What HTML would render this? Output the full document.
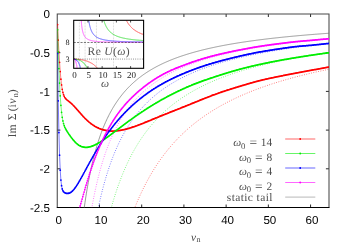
<!DOCTYPE html>
<html><head><meta charset="utf-8"><title>plot</title>
<style>
html,body{margin:0;padding:0;background:#fff;}
body{width:351px;height:246px;position:relative;overflow:hidden;font-family:"Liberation Sans",sans-serif;}
svg text{text-rendering:geometricPrecision;}
svg text.s{font-family:"Liberation Sans",sans-serif;fill:#000;}
svg text.r{font-family:"Liberation Serif",serif;}
</style></head><body>
<svg width="351" height="246" viewBox="0 0 351 246" style="position:absolute;left:0;top:0;opacity:0.999;will-change:transform">
<defs><clipPath id="cp"><rect x="57.25" y="14.0" width="271.75" height="193.5"/></clipPath></defs>
<path d="M99.47 207.5v-3M99.47 14.0v3 M141.69 207.5v-3M141.69 14.0v3 M183.91 207.5v-3M183.91 14.0v3 M226.13 207.5v-3M226.13 14.0v3 M268.35 207.5v-3M268.35 14.0v3 M310.57 207.5v-3M310.57 14.0v3 M57.25 52.70h3.1M329.0 52.70h-3.1 M57.25 91.40h3.1M329.0 91.40h-3.1 M57.25 130.10h3.1M329.0 130.10h-3.1 M57.25 168.80h3.1M329.0 168.80h-3.1" stroke="#2a2a2a" stroke-width="1" fill="none"/>
<path d="M57.25 207.5V14.0H329.0V207.5" fill="none" stroke="#484848" stroke-width="1.05"/>
<path d="M56.75 207.5H329.5" fill="none" stroke="#000" stroke-width="1"/>
<g clip-path="url(#cp)" fill="none">
<path d="M69.92 426.80 L70.57 406.47 L71.23 388.05 L71.88 371.28 L72.54 355.95 L73.20 341.88 L73.85 328.93 L74.51 316.96 L75.16 305.86 L75.82 295.55 L76.48 285.94 L77.13 276.97 L77.79 268.57 L78.44 260.69 L79.10 253.28 L79.76 246.31 L80.41 239.73 L81.07 233.51 L81.72 227.63 L82.38 222.05 L83.04 216.76 L83.69 211.73 L84.35 206.94 L85.01 202.38 L85.66 198.03 L86.32 193.88 L86.97 189.91 L87.63 186.11 L88.29 182.47 L88.94 178.98 L89.60 175.64 L90.25 172.42 L90.91 169.34 L91.57 166.37 L92.22 163.51 L92.88 160.75 L93.53 158.10 L94.19 155.54 L94.85 153.07 L95.50 150.69 L96.16 148.38 L96.81 146.15 L97.47 144.00 L98.13 141.91 L98.78 139.89 L99.44 137.93 L100.09 136.04 L100.75 134.19 L101.41 132.41 L102.06 130.68 L102.72 128.99 L103.37 127.36 L104.03 125.77 L104.69 124.22 L105.34 122.72 L106.00 121.25 L106.65 119.83 L107.31 118.44 L107.97 117.09 L108.62 115.78 L109.28 114.49 L109.94 113.24 L110.59 112.02 L111.25 110.83 L111.90 109.67 L112.56 108.53 L113.22 107.42 L113.87 106.34 L114.53 105.28 L115.18 104.25 L115.84 103.24 L116.50 102.25 L117.15 101.29 L117.81 100.34 L118.46 99.41 L119.12 98.51 L119.78 97.62 L120.43 96.75 L121.09 95.90 L121.74 95.07 L122.40 94.25 L123.06 93.45 L123.71 92.67 L124.37 91.90 L125.02 91.15 L125.68 90.41 L126.34 89.68 L126.99 88.97 L127.65 88.27 L128.30 87.58 L128.96 86.91 L129.62 86.25 L130.27 85.60 L130.93 84.96 L131.58 84.34 L132.24 83.72 L132.90 83.12 L133.55 82.52 L134.21 81.94 L134.86 81.36 L135.52 80.80 L136.18 80.25 L136.83 79.70 L137.49 79.16 L138.15 78.63 L138.80 78.11 L139.46 77.60 L140.11 77.10 L140.77 76.60 L141.43 76.11 L142.08 75.63 L142.74 75.16 L143.39 74.70 L144.05 74.24 L144.71 73.78 L145.36 73.34 L146.02 72.90 L146.67 72.47 L147.33 72.04 L147.99 71.62 L148.64 71.21 L149.30 70.80 L149.95 70.40 L150.61 70.00 L151.27 69.61 L151.92 69.23 L152.58 68.85 L153.23 68.47 L153.89 68.10 L154.55 67.74 L155.20 67.38 L155.86 67.02 L156.51 66.67 L157.17 66.33 L157.83 65.99 L158.48 65.65 L159.14 65.32 L159.79 64.99 L160.45 64.66 L161.11 64.34 L161.76 64.03 L162.42 63.72 L163.08 63.41 L163.73 63.10 L164.39 62.80 L165.04 62.51 L165.70 62.21 L166.36 61.92 L167.01 61.64 L167.67 61.35 L168.32 61.07 L168.98 60.80 L169.64 60.52 L170.29 60.25 L170.95 59.99 L171.60 59.72 L172.26 59.46 L172.92 59.20 L173.57 58.95 L174.23 58.70 L174.88 58.45 L175.54 58.20 L176.20 57.96 L176.85 57.72 L177.51 57.48 L178.16 57.24 L178.82 57.01 L179.48 56.78 L180.13 56.55 L180.79 56.32 L181.44 56.10 L182.10 55.88 L182.76 55.66 L183.41 55.44 L184.07 55.23 L184.72 55.02 L185.38 54.81 L186.04 54.60 L186.69 54.39 L187.35 54.19 L188.01 53.99 L188.66 53.79 L189.32 53.59 L189.97 53.39 L190.63 53.20 L191.29 53.01 L191.94 52.82 L192.60 52.63 L193.25 52.44 L193.91 52.26 L194.57 52.08 L195.22 51.90 L195.88 51.72 L196.53 51.54 L197.19 51.36 L197.85 51.19 L198.50 51.02 L199.16 50.84 L199.81 50.67 L200.47 50.51 L201.13 50.34 L201.78 50.18 L202.44 50.01 L203.09 49.85 L203.75 49.69 L204.41 49.53 L205.06 49.37 L205.72 49.22 L206.37 49.06 L207.03 48.91 L207.69 48.76 L208.34 48.60 L209.00 48.46 L209.65 48.31 L210.31 48.16 L210.97 48.01 L211.62 47.87 L212.28 47.73 L212.93 47.58 L213.59 47.44 L214.25 47.30 L214.90 47.16 L215.56 47.03 L216.22 46.89 L216.87 46.76 L217.53 46.62 L218.18 46.49 L218.84 46.36 L219.50 46.23 L220.15 46.10 L220.81 45.97 L221.46 45.84 L222.12 45.71 L222.78 45.59 L223.43 45.46 L224.09 45.34 L224.74 45.22 L225.40 45.09 L226.06 44.97 L226.71 44.85 L227.37 44.73 L228.02 44.62 L228.68 44.50 L229.34 44.38 L229.99 44.27 L230.65 44.15 L231.30 44.04 L231.96 43.93 L232.62 43.81 L233.27 43.70 L233.93 43.59 L234.58 43.48 L235.24 43.38 L235.90 43.27 L236.55 43.16 L237.21 43.05 L237.86 42.95 L238.52 42.84 L239.18 42.74 L239.83 42.64 L240.49 42.53 L241.15 42.43 L241.80 42.33 L242.46 42.23 L243.11 42.13 L243.77 42.03 L244.43 41.93 L245.08 41.84 L245.74 41.74 L246.39 41.64 L247.05 41.55 L247.71 41.45 L248.36 41.36 L249.02 41.26 L249.67 41.17 L250.33 41.08 L250.99 40.99 L251.64 40.90 L252.30 40.81 L252.95 40.72 L253.61 40.63 L254.27 40.54 L254.92 40.45 L255.58 40.36 L256.23 40.28 L256.89 40.19 L257.55 40.10 L258.20 40.02 L258.86 39.93 L259.51 39.85 L260.17 39.77 L260.83 39.68 L261.48 39.60 L262.14 39.52 L262.79 39.44 L263.45 39.36 L264.11 39.28 L264.76 39.20 L265.42 39.12 L266.07 39.04 L266.73 38.96 L267.39 38.88 L268.04 38.80 L268.70 38.73 L269.36 38.65 L270.01 38.57 L270.67 38.50 L271.32 38.42 L271.98 38.35 L272.64 38.28 L273.29 38.20 L273.95 38.13 L274.60 38.06 L275.26 37.98 L275.92 37.91 L276.57 37.84 L277.23 37.77 L277.88 37.70 L278.54 37.63 L279.20 37.56 L279.85 37.49 L280.51 37.42 L281.16 37.35 L281.82 37.28 L282.48 37.21 L283.13 37.15 L283.79 37.08 L284.44 37.01 L285.10 36.95 L285.76 36.88 L286.41 36.82 L287.07 36.75 L287.72 36.69 L288.38 36.62 L289.04 36.56 L289.69 36.49 L290.35 36.43 L291.00 36.37 L291.66 36.30 L292.32 36.24 L292.97 36.18 L293.63 36.12 L294.29 36.06 L294.94 36.00 L295.60 35.94 L296.25 35.88 L296.91 35.82 L297.57 35.76 L298.22 35.70 L298.88 35.64 L299.53 35.58 L300.19 35.52 L300.85 35.46 L301.50 35.41 L302.16 35.35 L302.81 35.29 L303.47 35.24 L304.13 35.18 L304.78 35.12 L305.44 35.07 L306.09 35.01 L306.75 34.96 L307.41 34.90 L308.06 34.85 L308.72 34.79 L309.37 34.74 L310.03 34.68 L310.69 34.63 L311.34 34.58 L312.00 34.52 L312.65 34.47 L313.31 34.42 L313.97 34.37 L314.62 34.31 L315.28 34.26 L315.93 34.21 L316.59 34.16 L317.25 34.11 L317.90 34.06 L318.56 34.01 L319.22 33.96 L319.87 33.91 L320.53 33.86 L321.18 33.81 L321.84 33.76 L322.50 33.71 L323.15 33.66 L323.81 33.62 L324.46 33.57 L325.12 33.52 L325.78 33.47 L326.43 33.42 L327.09 33.38 L327.74 33.33 L328.40 33.28 L329.06 33.24 L329.71 33.19 L330.37 33.14 L331.02 33.10 L331.68 33.05" stroke="#707070" stroke-width="0.7"/>
<path d="M131.87 215.24 L132.37 213.90 L132.87 212.57 L133.37 211.27 L133.87 209.98 L134.37 208.71 L134.87 207.45 L135.37 206.21 L135.87 204.99 L136.37 203.78 L136.87 202.58 L137.37 201.40 L137.88 200.24 L138.38 199.09 L138.88 197.96 L139.38 196.83 L139.88 195.73 L140.38 194.63 L140.88 193.55 L141.38 192.48 L141.88 191.42 L142.38 190.38 L142.88 189.35 L143.38 188.33 L143.88 187.32 L144.39 186.33 L144.89 185.34 L145.39 184.37 L145.89 183.40 L146.39 182.45 L146.89 181.51 L147.39 180.58 L147.89 179.66 L148.39 178.75 L148.89 177.85 L149.39 176.96 L149.89 176.08 L150.39 175.21 L150.90 174.35 L151.40 173.49 L151.90 172.65 L152.40 171.81 L152.90 170.99 L153.40 170.17 L153.90 169.36 L154.40 168.56 L154.90 167.77 L155.40 166.98 L155.90 166.21 L156.40 165.44 L156.91 164.68 L157.41 163.92 L157.91 163.18 L158.41 162.44 L158.91 161.71 L159.41 160.98 L159.91 160.27 L160.41 159.56 L160.91 158.85 L161.41 158.16 L161.91 157.47 L162.41 156.78 L162.91 156.11 L163.42 155.44 L163.92 154.77 L164.42 154.11 L164.92 153.46 L165.42 152.82 L165.92 152.18 L166.42 151.54 L166.92 150.92 L167.42 150.29 L167.92 149.68 L168.42 149.07 L168.92 148.46 L169.42 147.86 L169.93 147.26 L170.43 146.67 L170.93 146.09 L171.43 145.51 L171.93 144.94 L172.43 144.37 L172.93 143.80 L173.43 143.24 L173.93 142.69 L174.43 142.14 L174.93 141.59 L175.43 141.05 L175.94 140.52 L176.44 139.99 L176.94 139.46 L177.44 138.94 L177.94 138.42 L178.44 137.90 L178.94 137.39 L179.44 136.89 L179.94 136.39 L180.44 135.89 L180.94 135.39 L181.44 134.91 L181.94 134.42 L182.45 133.94 L182.95 133.46 L183.45 132.99 L183.95 132.52 L184.45 132.05 L184.95 131.59 L185.45 131.13 L185.95 130.67 L186.45 130.22 L186.95 129.77 L187.45 129.32 L187.95 128.88 L188.45 128.44 L188.96 128.01 L189.46 127.58 L189.96 127.15 L190.46 126.72 L190.96 126.30 L191.46 125.88 L191.96 125.47 L192.46 125.05 L192.96 124.64 L193.46 124.24 L193.96 123.83 L194.46 123.43 L194.96 123.03 L195.47 122.64 L195.97 122.25 L196.47 121.86 L196.97 121.47 L197.47 121.09 L197.97 120.71 L198.47 120.33 L198.97 119.95 L199.47 119.58 L199.97 119.21 L200.47 118.84 L200.97 118.48 L201.48 118.11 L201.98 117.75 L202.48 117.39 L202.98 117.04 L203.48 116.69 L203.98 116.34 L204.48 115.99 L204.98 115.64 L205.48 115.30 L205.98 114.96 L206.48 114.62 L206.98 114.28 L207.48 113.95 L207.99 113.62 L208.49 113.29 L208.99 112.96 L209.49 112.63 L209.99 112.31 L210.49 111.99 L210.99 111.67 L211.49 111.35 L211.99 111.04 L212.49 110.72 L212.99 110.41 L213.49 110.10 L213.99 109.80 L214.50 109.49 L215.00 109.19 L215.50 108.89 L216.00 108.59 L216.50 108.29 L217.00 108.00 L217.50 107.70 L218.00 107.41 L218.50 107.12 L219.00 106.83 L219.50 106.54 L220.00 106.26 L220.51 105.98 L221.01 105.70 L221.51 105.42 L222.01 105.14 L222.51 104.86 L223.01 104.59 L223.51 104.31 L224.01 104.04 L224.51 103.77 L225.01 103.51 L225.51 103.24 L226.01 102.97 L226.51 102.71 L227.02 102.45 L227.52 102.19 L228.02 101.93 L228.52 101.67 L229.02 101.42 L229.52 101.16 L230.02 100.91 L230.52 100.66 L231.02 100.41 L231.52 100.16 L232.02 99.92 L232.52 99.67 L233.02 99.43 L233.53 99.18 L234.03 98.94 L234.53 98.70 L235.03 98.46 L235.53 98.23 L236.03 97.99 L236.53 97.76 L237.03 97.52 L237.53 97.29 L238.03 97.06 L238.53 96.83 L239.03 96.60 L239.54 96.37 L240.04 96.15 L240.54 95.92 L241.04 95.70 L241.54 95.48 L242.04 95.26 L242.54 95.04 L243.04 94.82 L243.54 94.60 L244.04 94.39 L244.54 94.17 L245.04 93.96 L245.54 93.75 L246.05 93.53 L246.55 93.32 L247.05 93.11 L247.55 92.91 L248.05 92.70 L248.55 92.49 L249.05 92.29 L249.55 92.08 L250.05 91.88 L250.55 91.68 L251.05 91.48 L251.55 91.28 L252.05 91.08 L252.56 90.88 L253.06 90.69 L253.56 90.49 L254.06 90.30 L254.56 90.10 L255.06 89.91 L255.56 89.72 L256.06 89.53 L256.56 89.34 L257.06 89.15 L257.56 88.96 L258.06 88.77 L258.57 88.59 L259.07 88.40 L259.57 88.22 L260.07 88.04 L260.57 87.85 L261.07 87.67 L261.57 87.49 L262.07 87.31 L262.57 87.13 L263.07 86.95 L263.57 86.78 L264.07 86.60 L264.57 86.43 L265.08 86.25 L265.58 86.08 L266.08 85.90 L266.58 85.73 L267.08 85.56 L267.58 85.39 L268.08 85.22 L268.58 85.05 L269.08 84.88 L269.58 84.72 L270.08 84.55 L270.58 84.39 L271.08 84.22 L271.59 84.06 L272.09 83.89 L272.59 83.73 L273.09 83.57 L273.59 83.41 L274.09 83.25 L274.59 83.09 L275.09 82.93 L275.59 82.77 L276.09 82.61 L276.59 82.46 L277.09 82.30 L277.59 82.15 L278.10 81.99 L278.60 81.84 L279.10 81.68 L279.60 81.53 L280.10 81.38 L280.60 81.23 L281.10 81.08 L281.60 80.93 L282.10 80.78 L282.60 80.63 L283.10 80.48 L283.60 80.34 L284.11 80.19 L284.61 80.04 L285.11 79.90 L285.61 79.76 L286.11 79.61 L286.61 79.47 L287.11 79.33 L287.61 79.18 L288.11 79.04 L288.61 78.90 L289.11 78.76 L289.61 78.62 L290.11 78.48 L290.62 78.34 L291.12 78.21 L291.62 78.07 L292.12 77.93 L292.62 77.80 L293.12 77.66 L293.62 77.53 L294.12 77.39 L294.62 77.26 L295.12 77.12 L295.62 76.99 L296.12 76.86 L296.62 76.73 L297.13 76.60 L297.63 76.47 L298.13 76.34 L298.63 76.21 L299.13 76.08 L299.63 75.95 L300.13 75.82 L300.63 75.70 L301.13 75.57 L301.63 75.44 L302.13 75.32 L302.63 75.19 L303.14 75.07 L303.64 74.94 L304.14 74.82 L304.64 74.70 L305.14 74.57 L305.64 74.45 L306.14 74.33 L306.64 74.21 L307.14 74.09 L307.64 73.97 L308.14 73.85 L308.64 73.73 L309.14 73.61 L309.65 73.49 L310.15 73.37 L310.65 73.26 L311.15 73.14 L311.65 73.02 L312.15 72.91 L312.65 72.79 L313.15 72.68 L313.65 72.56 L314.15 72.45 L314.65 72.34 L315.15 72.22 L315.65 72.11 L316.16 72.00 L316.66 71.88 L317.16 71.77 L317.66 71.66 L318.16 71.55 L318.66 71.44 L319.16 71.33 L319.66 71.22 L320.16 71.11 L320.66 71.00 L321.16 70.90 L321.66 70.79 L322.17 70.68 L322.67 70.57 L323.17 70.47 L323.67 70.36 L324.17 70.26 L324.67 70.15 L325.17 70.05 L325.67 69.94 L326.17 69.84 L326.67 69.73 L327.17 69.63 L327.67 69.53 L328.17 69.42 L328.68 69.32 L329.18 69.22 L329.68 69.12 L330.18 69.02 L330.68 68.92 L331.18 68.82 L331.68 68.72" stroke="#ff0000" stroke-width="1.0" stroke-linecap="round" stroke-dasharray="0.01 2.4" stroke-opacity="0.6"/>
<path d="M109.26 215.24 L109.82 213.11 L110.38 211.02 L110.93 208.97 L111.49 206.97 L112.05 205.00 L112.61 203.08 L113.16 201.20 L113.72 199.35 L114.28 197.54 L114.84 195.76 L115.39 194.02 L115.95 192.31 L116.51 190.63 L117.07 188.98 L117.62 187.37 L118.18 185.78 L118.74 184.23 L119.30 182.70 L119.85 181.19 L120.41 179.72 L120.97 178.27 L121.53 176.84 L122.08 175.44 L122.64 174.07 L123.20 172.71 L123.76 171.38 L124.31 170.08 L124.87 168.79 L125.43 167.52 L125.98 166.28 L126.54 165.05 L127.10 163.85 L127.66 162.66 L128.21 161.49 L128.77 160.34 L129.33 159.21 L129.89 158.10 L130.44 157.00 L131.00 155.92 L131.56 154.86 L132.12 153.81 L132.67 152.77 L133.23 151.75 L133.79 150.75 L134.35 149.76 L134.90 148.79 L135.46 147.83 L136.02 146.88 L136.58 145.95 L137.13 145.03 L137.69 144.12 L138.25 143.22 L138.81 142.34 L139.36 141.47 L139.92 140.61 L140.48 139.76 L141.04 138.92 L141.59 138.10 L142.15 137.28 L142.71 136.48 L143.27 135.69 L143.82 134.90 L144.38 134.13 L144.94 133.36 L145.50 132.61 L146.05 131.87 L146.61 131.13 L147.17 130.40 L147.73 129.69 L148.28 128.98 L148.84 128.28 L149.40 127.59 L149.95 126.91 L150.51 126.23 L151.07 125.56 L151.63 124.90 L152.18 124.25 L152.74 123.61 L153.30 122.97 L153.86 122.34 L154.41 121.72 L154.97 121.11 L155.53 120.50 L156.09 119.90 L156.64 119.31 L157.20 118.72 L157.76 118.14 L158.32 117.56 L158.87 117.00 L159.43 116.43 L159.99 115.88 L160.55 115.33 L161.10 114.78 L161.66 114.25 L162.22 113.71 L162.78 113.19 L163.33 112.67 L163.89 112.15 L164.45 111.64 L165.01 111.14 L165.56 110.64 L166.12 110.14 L166.68 109.65 L167.24 109.17 L167.79 108.69 L168.35 108.21 L168.91 107.74 L169.47 107.27 L170.02 106.81 L170.58 106.36 L171.14 105.91 L171.69 105.46 L172.25 105.01 L172.81 104.58 L173.37 104.14 L173.92 103.71 L174.48 103.28 L175.04 102.86 L175.60 102.44 L176.15 102.03 L176.71 101.62 L177.27 101.21 L177.83 100.81 L178.38 100.41 L178.94 100.01 L179.50 99.62 L180.06 99.23 L180.61 98.85 L181.17 98.46 L181.73 98.09 L182.29 97.71 L182.84 97.34 L183.40 96.97 L183.96 96.61 L184.52 96.24 L185.07 95.89 L185.63 95.53 L186.19 95.18 L186.75 94.83 L187.30 94.48 L187.86 94.14 L188.42 93.80 L188.98 93.46 L189.53 93.12 L190.09 92.79 L190.65 92.46 L191.21 92.14 L191.76 91.81 L192.32 91.49 L192.88 91.17 L193.44 90.86 L193.99 90.54 L194.55 90.23 L195.11 89.93 L195.66 89.62 L196.22 89.32 L196.78 89.02 L197.34 88.72 L197.89 88.42 L198.45 88.13 L199.01 87.84 L199.57 87.55 L200.12 87.26 L200.68 86.97 L201.24 86.69 L201.80 86.41 L202.35 86.13 L202.91 85.86 L203.47 85.58 L204.03 85.31 L204.58 85.04 L205.14 84.77 L205.70 84.51 L206.26 84.24 L206.81 83.98 L207.37 83.72 L207.93 83.46 L208.49 83.21 L209.04 82.95 L209.60 82.70 L210.16 82.45 L210.72 82.20 L211.27 81.96 L211.83 81.71 L212.39 81.47 L212.95 81.23 L213.50 80.99 L214.06 80.75 L214.62 80.51 L215.18 80.28 L215.73 80.04 L216.29 79.81 L216.85 79.58 L217.40 79.35 L217.96 79.13 L218.52 78.90 L219.08 78.68 L219.63 78.46 L220.19 78.24 L220.75 78.02 L221.31 77.80 L221.86 77.58 L222.42 77.37 L222.98 77.16 L223.54 76.94 L224.09 76.73 L224.65 76.53 L225.21 76.32 L225.77 76.11 L226.32 75.91 L226.88 75.70 L227.44 75.50 L228.00 75.30 L228.55 75.10 L229.11 74.90 L229.67 74.71 L230.23 74.51 L230.78 74.32 L231.34 74.12 L231.90 73.93 L232.46 73.74 L233.01 73.55 L233.57 73.36 L234.13 73.18 L234.69 72.99 L235.24 72.80 L235.80 72.62 L236.36 72.44 L236.92 72.26 L237.47 72.08 L238.03 71.90 L238.59 71.72 L239.15 71.54 L239.70 71.37 L240.26 71.19 L240.82 71.02 L241.37 70.85 L241.93 70.67 L242.49 70.50 L243.05 70.33 L243.60 70.17 L244.16 70.00 L244.72 69.83 L245.28 69.67 L245.83 69.50 L246.39 69.34 L246.95 69.18 L247.51 69.01 L248.06 68.85 L248.62 68.69 L249.18 68.54 L249.74 68.38 L250.29 68.22 L250.85 68.06 L251.41 67.91 L251.97 67.75 L252.52 67.60 L253.08 67.45 L253.64 67.30 L254.20 67.15 L254.75 67.00 L255.31 66.85 L255.87 66.70 L256.43 66.55 L256.98 66.40 L257.54 66.26 L258.10 66.11 L258.66 65.97 L259.21 65.83 L259.77 65.68 L260.33 65.54 L260.89 65.40 L261.44 65.26 L262.00 65.12 L262.56 64.98 L263.11 64.84 L263.67 64.71 L264.23 64.57 L264.79 64.43 L265.34 64.30 L265.90 64.16 L266.46 64.03 L267.02 63.90 L267.57 63.77 L268.13 63.63 L268.69 63.50 L269.25 63.37 L269.80 63.24 L270.36 63.11 L270.92 62.99 L271.48 62.86 L272.03 62.73 L272.59 62.61 L273.15 62.48 L273.71 62.36 L274.26 62.23 L274.82 62.11 L275.38 61.98 L275.94 61.86 L276.49 61.74 L277.05 61.62 L277.61 61.50 L278.17 61.38 L278.72 61.26 L279.28 61.14 L279.84 61.02 L280.40 60.91 L280.95 60.79 L281.51 60.67 L282.07 60.56 L282.63 60.44 L283.18 60.33 L283.74 60.21 L284.30 60.10 L284.86 59.99 L285.41 59.87 L285.97 59.76 L286.53 59.65 L287.08 59.54 L287.64 59.43 L288.20 59.32 L288.76 59.21 L289.31 59.10 L289.87 59.00 L290.43 58.89 L290.99 58.78 L291.54 58.67 L292.10 58.57 L292.66 58.46 L293.22 58.36 L293.77 58.25 L294.33 58.15 L294.89 58.05 L295.45 57.94 L296.00 57.84 L296.56 57.74 L297.12 57.64 L297.68 57.53 L298.23 57.43 L298.79 57.33 L299.35 57.23 L299.91 57.13 L300.46 57.04 L301.02 56.94 L301.58 56.84 L302.14 56.74 L302.69 56.64 L303.25 56.55 L303.81 56.45 L304.37 56.36 L304.92 56.26 L305.48 56.17 L306.04 56.07 L306.60 55.98 L307.15 55.88 L307.71 55.79 L308.27 55.70 L308.82 55.61 L309.38 55.51 L309.94 55.42 L310.50 55.33 L311.05 55.24 L311.61 55.15 L312.17 55.06 L312.73 54.97 L313.28 54.88 L313.84 54.79 L314.40 54.70 L314.96 54.62 L315.51 54.53 L316.07 54.44 L316.63 54.35 L317.19 54.27 L317.74 54.18 L318.30 54.09 L318.86 54.01 L319.42 53.92 L319.97 53.84 L320.53 53.76 L321.09 53.67 L321.65 53.59 L322.20 53.50 L322.76 53.42 L323.32 53.34 L323.88 53.26 L324.43 53.17 L324.99 53.09 L325.55 53.01 L326.11 52.93 L326.66 52.85 L327.22 52.77 L327.78 52.69 L328.34 52.61 L328.89 52.53 L329.45 52.45 L330.01 52.37 L330.57 52.30 L331.12 52.22 L331.68 52.14" stroke="#00ee00" stroke-width="1.0" stroke-linecap="round" stroke-dasharray="0.01 2.4" stroke-opacity="0.6"/>
<path d="M96.79 215.24 L97.38 212.29 L97.97 209.42 L98.56 206.64 L99.15 203.93 L99.73 201.30 L100.32 198.74 L100.91 196.25 L101.50 193.82 L102.09 191.46 L102.68 189.16 L103.27 186.92 L103.85 184.74 L104.44 182.61 L105.03 180.53 L105.62 178.50 L106.21 176.52 L106.80 174.59 L107.39 172.71 L107.98 170.87 L108.56 169.07 L109.15 167.31 L109.74 165.59 L110.33 163.91 L110.92 162.26 L111.51 160.65 L112.10 159.08 L112.69 157.54 L113.27 156.03 L113.86 154.55 L114.45 153.11 L115.04 151.69 L115.63 150.30 L116.22 148.94 L116.81 147.61 L117.39 146.30 L117.98 145.02 L118.57 143.76 L119.16 142.53 L119.75 141.32 L120.34 140.13 L120.93 138.96 L121.52 137.82 L122.10 136.69 L122.69 135.59 L123.28 134.50 L123.87 133.44 L124.46 132.39 L125.05 131.37 L125.64 130.36 L126.23 129.36 L126.81 128.39 L127.40 127.43 L127.99 126.48 L128.58 125.55 L129.17 124.64 L129.76 123.74 L130.35 122.86 L130.93 121.99 L131.52 121.13 L132.11 120.29 L132.70 119.46 L133.29 118.64 L133.88 117.84 L134.47 117.05 L135.06 116.27 L135.64 115.50 L136.23 114.74 L136.82 114.00 L137.41 113.27 L138.00 112.54 L138.59 111.83 L139.18 111.13 L139.77 110.43 L140.35 109.75 L140.94 109.08 L141.53 108.41 L142.12 107.76 L142.71 107.11 L143.30 106.47 L143.89 105.85 L144.47 105.23 L145.06 104.61 L145.65 104.01 L146.24 103.42 L146.83 102.83 L147.42 102.25 L148.01 101.68 L148.60 101.11 L149.18 100.55 L149.77 100.00 L150.36 99.46 L150.95 98.92 L151.54 98.39 L152.13 97.87 L152.72 97.35 L153.31 96.84 L153.89 96.33 L154.48 95.84 L155.07 95.34 L155.66 94.86 L156.25 94.38 L156.84 93.90 L157.43 93.43 L158.01 92.97 L158.60 92.51 L159.19 92.06 L159.78 91.61 L160.37 91.16 L160.96 90.73 L161.55 90.29 L162.14 89.86 L162.72 89.44 L163.31 89.02 L163.90 88.61 L164.49 88.20 L165.08 87.79 L165.67 87.39 L166.26 87.00 L166.85 86.60 L167.43 86.22 L168.02 85.83 L168.61 85.45 L169.20 85.08 L169.79 84.71 L170.38 84.34 L170.97 83.97 L171.55 83.61 L172.14 83.26 L172.73 82.90 L173.32 82.55 L173.91 82.21 L174.50 81.87 L175.09 81.53 L175.68 81.19 L176.26 80.86 L176.85 80.53 L177.44 80.20 L178.03 79.88 L178.62 79.56 L179.21 79.25 L179.80 78.93 L180.39 78.62 L180.97 78.31 L181.56 78.01 L182.15 77.71 L182.74 77.41 L183.33 77.11 L183.92 76.82 L184.51 76.53 L185.09 76.24 L185.68 75.96 L186.27 75.67 L186.86 75.39 L187.45 75.12 L188.04 74.84 L188.63 74.57 L189.22 74.30 L189.80 74.03 L190.39 73.76 L190.98 73.50 L191.57 73.24 L192.16 72.98 L192.75 72.73 L193.34 72.47 L193.93 72.22 L194.51 71.97 L195.10 71.72 L195.69 71.48 L196.28 71.23 L196.87 70.99 L197.46 70.75 L198.05 70.52 L198.63 70.28 L199.22 70.05 L199.81 69.82 L200.40 69.59 L200.99 69.36 L201.58 69.13 L202.17 68.91 L202.76 68.69 L203.34 68.47 L203.93 68.25 L204.52 68.03 L205.11 67.82 L205.70 67.60 L206.29 67.39 L206.88 67.18 L207.47 66.97 L208.05 66.76 L208.64 66.56 L209.23 66.36 L209.82 66.15 L210.41 65.95 L211.00 65.75 L211.59 65.56 L212.17 65.36 L212.76 65.17 L213.35 64.97 L213.94 64.78 L214.53 64.59 L215.12 64.40 L215.71 64.22 L216.30 64.03 L216.88 63.85 L217.47 63.66 L218.06 63.48 L218.65 63.30 L219.24 63.12 L219.83 62.94 L220.42 62.77 L221.01 62.59 L221.59 62.42 L222.18 62.24 L222.77 62.07 L223.36 61.90 L223.95 61.73 L224.54 61.57 L225.13 61.40 L225.71 61.23 L226.30 61.07 L226.89 60.91 L227.48 60.74 L228.07 60.58 L228.66 60.42 L229.25 60.26 L229.84 60.11 L230.42 59.95 L231.01 59.79 L231.60 59.64 L232.19 59.48 L232.78 59.33 L233.37 59.18 L233.96 59.03 L234.55 58.88 L235.13 58.73 L235.72 58.58 L236.31 58.44 L236.90 58.29 L237.49 58.15 L238.08 58.00 L238.67 57.86 L239.25 57.72 L239.84 57.58 L240.43 57.44 L241.02 57.30 L241.61 57.16 L242.20 57.02 L242.79 56.89 L243.38 56.75 L243.96 56.62 L244.55 56.48 L245.14 56.35 L245.73 56.22 L246.32 56.09 L246.91 55.96 L247.50 55.83 L248.09 55.70 L248.67 55.57 L249.26 55.44 L249.85 55.31 L250.44 55.19 L251.03 55.06 L251.62 54.94 L252.21 54.82 L252.79 54.69 L253.38 54.57 L253.97 54.45 L254.56 54.33 L255.15 54.21 L255.74 54.09 L256.33 53.97 L256.92 53.85 L257.50 53.74 L258.09 53.62 L258.68 53.50 L259.27 53.39 L259.86 53.27 L260.45 53.16 L261.04 53.05 L261.63 52.93 L262.21 52.82 L262.80 52.71 L263.39 52.60 L263.98 52.49 L264.57 52.38 L265.16 52.27 L265.75 52.16 L266.33 52.06 L266.92 51.95 L267.51 51.84 L268.10 51.74 L268.69 51.63 L269.28 51.53 L269.87 51.42 L270.46 51.32 L271.04 51.22 L271.63 51.12 L272.22 51.01 L272.81 50.91 L273.40 50.81 L273.99 50.71 L274.58 50.61 L275.17 50.51 L275.75 50.42 L276.34 50.32 L276.93 50.22 L277.52 50.12 L278.11 50.03 L278.70 49.93 L279.29 49.84 L279.87 49.74 L280.46 49.65 L281.05 49.55 L281.64 49.46 L282.23 49.37 L282.82 49.28 L283.41 49.18 L284.00 49.09 L284.58 49.00 L285.17 48.91 L285.76 48.82 L286.35 48.73 L286.94 48.64 L287.53 48.55 L288.12 48.47 L288.71 48.38 L289.29 48.29 L289.88 48.20 L290.47 48.12 L291.06 48.03 L291.65 47.95 L292.24 47.86 L292.83 47.78 L293.41 47.69 L294.00 47.61 L294.59 47.53 L295.18 47.44 L295.77 47.36 L296.36 47.28 L296.95 47.20 L297.54 47.12 L298.12 47.03 L298.71 46.95 L299.30 46.87 L299.89 46.79 L300.48 46.71 L301.07 46.64 L301.66 46.56 L302.25 46.48 L302.83 46.40 L303.42 46.32 L304.01 46.25 L304.60 46.17 L305.19 46.09 L305.78 46.02 L306.37 45.94 L306.95 45.87 L307.54 45.79 L308.13 45.72 L308.72 45.64 L309.31 45.57 L309.90 45.50 L310.49 45.42 L311.08 45.35 L311.66 45.28 L312.25 45.20 L312.84 45.13 L313.43 45.06 L314.02 44.99 L314.61 44.92 L315.20 44.85 L315.79 44.78 L316.37 44.71 L316.96 44.64 L317.55 44.57 L318.14 44.50 L318.73 44.43 L319.32 44.36 L319.91 44.29 L320.49 44.23 L321.08 44.16 L321.67 44.09 L322.26 44.03 L322.85 43.96 L323.44 43.89 L324.03 43.83 L324.62 43.76 L325.20 43.70 L325.79 43.63 L326.38 43.57 L326.97 43.50 L327.56 43.44 L328.15 43.37 L328.74 43.31 L329.33 43.25 L329.91 43.18 L330.50 43.12 L331.09 43.06 L331.68 43.00" stroke="#0000ff" stroke-width="1.0" stroke-linecap="round" stroke-dasharray="0.01 2.4" stroke-opacity="0.6"/>
<path d="M90.54 215.24 L91.14 211.65 L91.75 208.19 L92.35 204.85 L92.96 201.62 L93.56 198.49 L94.17 195.47 L94.77 192.55 L95.37 189.72 L95.98 186.98 L96.58 184.32 L97.19 181.74 L97.79 179.24 L98.40 176.81 L99.00 174.46 L99.60 172.17 L100.21 169.94 L100.81 167.78 L101.42 165.67 L102.02 163.63 L102.63 161.63 L103.23 159.69 L103.83 157.80 L104.44 155.96 L105.04 154.17 L105.65 152.42 L106.25 150.71 L106.86 149.04 L107.46 147.42 L108.07 145.83 L108.67 144.28 L109.27 142.77 L109.88 141.29 L110.48 139.84 L111.09 138.43 L111.69 137.05 L112.30 135.70 L112.90 134.38 L113.50 133.08 L114.11 131.82 L114.71 130.58 L115.32 129.37 L115.92 128.18 L116.53 127.01 L117.13 125.87 L117.74 124.76 L118.34 123.66 L118.94 122.59 L119.55 121.53 L120.15 120.50 L120.76 119.49 L121.36 118.49 L121.97 117.51 L122.57 116.56 L123.17 115.62 L123.78 114.69 L124.38 113.79 L124.99 112.90 L125.59 112.02 L126.20 111.16 L126.80 110.32 L127.41 109.49 L128.01 108.67 L128.61 107.87 L129.22 107.08 L129.82 106.31 L130.43 105.55 L131.03 104.80 L131.64 104.06 L132.24 103.33 L132.84 102.62 L133.45 101.92 L134.05 101.22 L134.66 100.54 L135.26 99.87 L135.87 99.21 L136.47 98.56 L137.07 97.92 L137.68 97.29 L138.28 96.67 L138.89 96.06 L139.49 95.45 L140.10 94.86 L140.70 94.28 L141.31 93.70 L141.91 93.13 L142.51 92.57 L143.12 92.02 L143.72 91.47 L144.33 90.93 L144.93 90.40 L145.54 89.88 L146.14 89.36 L146.74 88.85 L147.35 88.35 L147.95 87.86 L148.56 87.37 L149.16 86.89 L149.77 86.41 L150.37 85.94 L150.98 85.48 L151.58 85.02 L152.18 84.57 L152.79 84.12 L153.39 83.68 L154.00 83.24 L154.60 82.81 L155.21 82.39 L155.81 81.97 L156.41 81.55 L157.02 81.15 L157.62 80.74 L158.23 80.34 L158.83 79.95 L159.44 79.56 L160.04 79.17 L160.65 78.79 L161.25 78.41 L161.85 78.04 L162.46 77.67 L163.06 77.31 L163.67 76.95 L164.27 76.60 L164.88 76.24 L165.48 75.90 L166.08 75.55 L166.69 75.21 L167.29 74.88 L167.90 74.54 L168.50 74.22 L169.11 73.89 L169.71 73.57 L170.31 73.25 L170.92 72.93 L171.52 72.62 L172.13 72.31 L172.73 72.01 L173.34 71.71 L173.94 71.41 L174.55 71.11 L175.15 70.82 L175.75 70.53 L176.36 70.24 L176.96 69.96 L177.57 69.68 L178.17 69.40 L178.78 69.12 L179.38 68.85 L179.98 68.58 L180.59 68.31 L181.19 68.05 L181.80 67.79 L182.40 67.53 L183.01 67.27 L183.61 67.02 L184.22 66.76 L184.82 66.51 L185.42 66.27 L186.03 66.02 L186.63 65.78 L187.24 65.54 L187.84 65.30 L188.45 65.06 L189.05 64.83 L189.65 64.60 L190.26 64.37 L190.86 64.14 L191.47 63.91 L192.07 63.69 L192.68 63.47 L193.28 63.25 L193.89 63.03 L194.49 62.81 L195.09 62.60 L195.70 62.39 L196.30 62.18 L196.91 61.97 L197.51 61.76 L198.12 61.56 L198.72 61.35 L199.32 61.15 L199.93 60.95 L200.53 60.75 L201.14 60.56 L201.74 60.36 L202.35 60.17 L202.95 59.98 L203.55 59.79 L204.16 59.60 L204.76 59.41 L205.37 59.23 L205.97 59.04 L206.58 58.86 L207.18 58.68 L207.79 58.50 L208.39 58.32 L208.99 58.15 L209.60 57.97 L210.20 57.80 L210.81 57.63 L211.41 57.45 L212.02 57.29 L212.62 57.12 L213.22 56.95 L213.83 56.78 L214.43 56.62 L215.04 56.46 L215.64 56.29 L216.25 56.13 L216.85 55.97 L217.46 55.82 L218.06 55.66 L218.66 55.50 L219.27 55.35 L219.87 55.19 L220.48 55.04 L221.08 54.89 L221.69 54.74 L222.29 54.59 L222.89 54.44 L223.50 54.30 L224.10 54.15 L224.71 54.00 L225.31 53.86 L225.92 53.72 L226.52 53.58 L227.13 53.44 L227.73 53.30 L228.33 53.16 L228.94 53.02 L229.54 52.88 L230.15 52.75 L230.75 52.61 L231.36 52.48 L231.96 52.34 L232.56 52.21 L233.17 52.08 L233.77 51.95 L234.38 51.82 L234.98 51.69 L235.59 51.56 L236.19 51.44 L236.79 51.31 L237.40 51.19 L238.00 51.06 L238.61 50.94 L239.21 50.82 L239.82 50.69 L240.42 50.57 L241.03 50.45 L241.63 50.33 L242.23 50.21 L242.84 50.10 L243.44 49.98 L244.05 49.86 L244.65 49.75 L245.26 49.63 L245.86 49.52 L246.46 49.40 L247.07 49.29 L247.67 49.18 L248.28 49.07 L248.88 48.96 L249.49 48.85 L250.09 48.74 L250.70 48.63 L251.30 48.52 L251.90 48.42 L252.51 48.31 L253.11 48.20 L253.72 48.10 L254.32 47.99 L254.93 47.89 L255.53 47.79 L256.13 47.68 L256.74 47.58 L257.34 47.48 L257.95 47.38 L258.55 47.28 L259.16 47.18 L259.76 47.08 L260.37 46.98 L260.97 46.88 L261.57 46.79 L262.18 46.69 L262.78 46.59 L263.39 46.50 L263.99 46.40 L264.60 46.31 L265.20 46.21 L265.80 46.12 L266.41 46.03 L267.01 45.94 L267.62 45.84 L268.22 45.75 L268.83 45.66 L269.43 45.57 L270.03 45.48 L270.64 45.39 L271.24 45.30 L271.85 45.22 L272.45 45.13 L273.06 45.04 L273.66 44.96 L274.27 44.87 L274.87 44.78 L275.47 44.70 L276.08 44.61 L276.68 44.53 L277.29 44.45 L277.89 44.36 L278.50 44.28 L279.10 44.20 L279.70 44.11 L280.31 44.03 L280.91 43.95 L281.52 43.87 L282.12 43.79 L282.73 43.71 L283.33 43.63 L283.94 43.55 L284.54 43.47 L285.14 43.40 L285.75 43.32 L286.35 43.24 L286.96 43.16 L287.56 43.09 L288.17 43.01 L288.77 42.94 L289.37 42.86 L289.98 42.78 L290.58 42.71 L291.19 42.64 L291.79 42.56 L292.40 42.49 L293.00 42.42 L293.61 42.34 L294.21 42.27 L294.81 42.20 L295.42 42.13 L296.02 42.06 L296.63 41.99 L297.23 41.91 L297.84 41.84 L298.44 41.77 L299.04 41.71 L299.65 41.64 L300.25 41.57 L300.86 41.50 L301.46 41.43 L302.07 41.36 L302.67 41.30 L303.27 41.23 L303.88 41.16 L304.48 41.10 L305.09 41.03 L305.69 40.96 L306.30 40.90 L306.90 40.83 L307.51 40.77 L308.11 40.70 L308.71 40.64 L309.32 40.58 L309.92 40.51 L310.53 40.45 L311.13 40.39 L311.74 40.32 L312.34 40.26 L312.94 40.20 L313.55 40.14 L314.15 40.08 L314.76 40.01 L315.36 39.95 L315.97 39.89 L316.57 39.83 L317.18 39.77 L317.78 39.71 L318.38 39.65 L318.99 39.59 L319.59 39.54 L320.20 39.48 L320.80 39.42 L321.41 39.36 L322.01 39.30 L322.61 39.24 L323.22 39.19 L323.82 39.13 L324.43 39.07 L325.03 39.02 L325.64 38.96 L326.24 38.90 L326.85 38.85 L327.45 38.79 L328.05 38.74 L328.66 38.68 L329.26 38.63 L329.87 38.57 L330.47 38.52 L331.08 38.46 L331.68 38.41" stroke="#ff00ff" stroke-width="1.0" stroke-linecap="round" stroke-dasharray="0.01 2.4" stroke-opacity="0.6"/>
<path d="M57.58 24.50 L58.24 40.00 L58.91 52.00 L59.57 62.30 L60.23 71.59 L60.90 79.18 L61.56 84.97 L62.22 89.27 L62.89 92.42 L63.55 94.69 L64.21 96.34 L64.88 97.56 L65.54 98.47 L66.20 99.19 L66.87 99.79 L67.53 100.33 L68.19 100.84 L68.86 101.35 L69.52 101.88 L70.18 102.42 L70.85 102.99 L71.51 103.58 L72.17 104.21 L72.83 104.86 L73.50 105.53 L74.16 106.23 L74.82 106.94 L75.49 107.68 L76.15 108.42 L76.81 109.17 L77.48 109.93 L78.14 110.69 L78.80 111.46 L79.47 112.22 L80.13 112.98 L80.79 113.73 L81.46 114.48 L82.12 115.21 L82.78 115.93 L83.45 116.64 L84.11 117.34 L84.77 118.02 L85.44 118.68 L86.10 119.33 L86.76 119.96 L87.43 120.58 L88.09 121.18 L88.75 121.75 L89.41 122.32 L90.08 122.86 L90.74 123.38 L91.40 123.89 L92.07 124.37 L92.73 124.84 L93.39 125.29 L94.06 125.72 L94.72 126.13 L95.38 126.52 L96.05 126.90 L96.71 127.25 L97.37 127.59 L98.04 127.91 L98.70 128.22 L99.36 128.50 L100.03 128.77 L100.69 129.03 L101.35 129.26 L102.02 129.48 L102.68 129.69 L103.34 129.88 L104.00 130.05 L104.67 130.21 L105.33 130.36 L105.99 130.49 L106.66 130.61 L107.32 130.71 L107.98 130.80 L108.65 130.88 L109.31 130.94 L109.97 130.99 L110.64 131.03 L111.30 131.06 L111.96 131.07 L112.63 131.08 L113.29 131.07 L113.95 131.05 L114.62 131.03 L115.28 130.99 L115.94 130.94 L116.61 130.88 L117.27 130.81 L117.93 130.73 L118.60 130.65 L119.26 130.55 L119.92 130.45 L120.58 130.34 L121.25 130.22 L121.91 130.09 L122.57 129.96 L123.24 129.82 L123.90 129.67 L124.56 129.51 L125.23 129.35 L125.89 129.18 L126.55 129.01 L127.22 128.83 L127.88 128.64 L128.54 128.45 L129.21 128.25 L129.87 128.05 L130.53 127.85 L131.20 127.64 L131.86 127.42 L132.52 127.20 L133.19 126.98 L133.85 126.75 L134.51 126.52 L135.17 126.29 L135.84 126.05 L136.50 125.81 L137.16 125.57 L137.83 125.32 L138.49 125.07 L139.15 124.82 L139.82 124.57 L140.48 124.31 L141.14 124.05 L141.81 123.79 L142.47 123.53 L143.13 123.26 L143.80 123.00 L144.46 122.73 L145.12 122.46 L145.79 122.20 L146.45 121.93 L147.11 121.65 L147.78 121.38 L148.44 121.11 L149.10 120.84 L149.77 120.56 L150.43 120.29 L151.09 120.02 L151.75 119.74 L152.42 119.47 L153.08 119.19 L153.74 118.92 L154.41 118.64 L155.07 118.37 L155.73 118.10 L156.40 117.82 L157.06 117.55 L157.72 117.28 L158.39 117.01 L159.05 116.74 L159.71 116.47 L160.38 116.20 L161.04 115.93 L161.70 115.66 L162.37 115.39 L163.03 115.12 L163.69 114.86 L164.36 114.59 L165.02 114.32 L165.68 114.06 L166.34 113.79 L167.01 113.53 L167.67 113.26 L168.33 113.00 L169.00 112.73 L169.66 112.47 L170.32 112.21 L170.99 111.94 L171.65 111.68 L172.31 111.42 L172.98 111.15 L173.64 110.89 L174.30 110.63 L174.97 110.37 L175.63 110.10 L176.29 109.84 L176.96 109.57 L177.62 109.31 L178.28 109.05 L178.95 108.78 L179.61 108.52 L180.27 108.25 L180.93 107.99 L181.60 107.72 L182.26 107.46 L182.92 107.19 L183.59 106.93 L184.25 106.66 L184.91 106.39 L185.58 106.13 L186.24 105.86 L186.90 105.59 L187.57 105.33 L188.23 105.06 L188.89 104.79 L189.56 104.52 L190.22 104.25 L190.88 103.98 L191.55 103.71 L192.21 103.44 L192.87 103.18 L193.54 102.91 L194.20 102.64 L194.86 102.37 L195.53 102.10 L196.19 101.83 L196.85 101.56 L197.51 101.29 L198.18 101.02 L198.84 100.75 L199.50 100.48 L200.17 100.21 L200.83 99.94 L201.49 99.67 L202.16 99.40 L202.82 99.13 L203.48 98.87 L204.15 98.60 L204.81 98.34 L205.47 98.07 L206.14 97.81 L206.80 97.54 L207.46 97.28 L208.13 97.02 L208.79 96.76 L209.45 96.51 L210.12 96.25 L210.78 96.00 L211.44 95.74 L212.10 95.49 L212.77 95.24 L213.43 94.99 L214.09 94.75 L214.76 94.50 L215.42 94.26 L216.08 94.02 L216.75 93.78 L217.41 93.54 L218.07 93.31 L218.74 93.07 L219.40 92.84 L220.06 92.61 L220.73 92.38 L221.39 92.16 L222.05 91.93 L222.72 91.71 L223.38 91.49 L224.04 91.27 L224.71 91.05 L225.37 90.83 L226.03 90.62 L226.70 90.40 L227.36 90.19 L228.02 89.97 L228.68 89.76 L229.35 89.55 L230.01 89.34 L230.67 89.13 L231.34 88.93 L232.00 88.72 L232.66 88.51 L233.33 88.31 L233.99 88.10 L234.65 87.90 L235.32 87.69 L235.98 87.49 L236.64 87.29 L237.31 87.09 L237.97 86.88 L238.63 86.68 L239.30 86.48 L239.96 86.28 L240.62 86.08 L241.29 85.88 L241.95 85.68 L242.61 85.48 L243.27 85.29 L243.94 85.09 L244.60 84.89 L245.26 84.69 L245.93 84.50 L246.59 84.30 L247.25 84.11 L247.92 83.92 L248.58 83.72 L249.24 83.53 L249.91 83.34 L250.57 83.15 L251.23 82.96 L251.90 82.77 L252.56 82.58 L253.22 82.40 L253.89 82.21 L254.55 82.03 L255.21 81.85 L255.88 81.67 L256.54 81.49 L257.20 81.32 L257.87 81.15 L258.53 80.97 L259.19 80.80 L259.85 80.64 L260.52 80.47 L261.18 80.31 L261.84 80.14 L262.51 79.98 L263.17 79.82 L263.83 79.67 L264.50 79.51 L265.16 79.36 L265.82 79.21 L266.49 79.06 L267.15 78.91 L267.81 78.77 L268.48 78.62 L269.14 78.48 L269.80 78.33 L270.47 78.19 L271.13 78.05 L271.79 77.91 L272.46 77.77 L273.12 77.64 L273.78 77.50 L274.44 77.36 L275.11 77.23 L275.77 77.09 L276.43 76.96 L277.10 76.82 L277.76 76.69 L278.42 76.55 L279.09 76.42 L279.75 76.29 L280.41 76.15 L281.08 76.02 L281.74 75.89 L282.40 75.76 L283.07 75.62 L283.73 75.49 L284.39 75.36 L285.06 75.23 L285.72 75.10 L286.38 74.97 L287.05 74.84 L287.71 74.71 L288.37 74.58 L289.03 74.45 L289.70 74.32 L290.36 74.19 L291.02 74.06 L291.69 73.94 L292.35 73.81 L293.01 73.68 L293.68 73.55 L294.34 73.43 L295.00 73.30 L295.67 73.18 L296.33 73.05 L296.99 72.93 L297.66 72.80 L298.32 72.68 L298.98 72.55 L299.65 72.43 L300.31 72.31 L300.97 72.18 L301.64 72.06 L302.30 71.94 L302.96 71.81 L303.63 71.69 L304.29 71.57 L304.95 71.45 L305.61 71.33 L306.28 71.20 L306.94 71.08 L307.60 70.96 L308.27 70.84 L308.93 70.72 L309.59 70.60 L310.26 70.47 L310.92 70.35 L311.58 70.23 L312.25 70.11 L312.91 69.98 L313.57 69.86 L314.24 69.74 L314.90 69.62 L315.56 69.50 L316.23 69.37 L316.89 69.25 L317.55 69.13 L318.22 69.01 L318.88 68.89 L319.54 68.76 L320.20 68.64 L320.87 68.52 L321.53 68.40 L322.19 68.28 L322.86 68.16 L323.52 68.04 L324.18 67.92 L324.85 67.80 L325.51 67.68 L326.17 67.56 L326.84 67.45 L327.50 67.33 L328.16 67.21 L328.83 67.10" stroke="#ff0000" stroke-width="0.6" stroke-opacity="0.85"/>
<path d="M57.58 24.50h0 M58.24 40.00h0 M58.91 52.00h0 M59.57 62.30h0 M60.23 71.59h0 M60.90 79.18h0 M61.56 84.97h0 M62.22 89.27h0 M62.89 92.42h0 M63.55 94.69h0 M64.21 96.34h0 M64.88 97.56h0 M65.54 98.47h0 M66.20 99.19h0 M66.87 99.79h0 M67.53 100.33h0 M68.19 100.84h0 M68.86 101.35h0 M69.52 101.88h0 M70.18 102.42h0 M70.85 102.99h0 M71.51 103.58h0 M72.17 104.21h0 M72.83 104.86h0 M73.50 105.53h0 M74.16 106.23h0 M74.82 106.94h0 M75.49 107.68h0 M76.15 108.42h0 M76.81 109.17h0 M77.48 109.93h0 M78.14 110.69h0 M78.80 111.46h0 M79.47 112.22h0 M80.13 112.98h0 M80.79 113.73h0 M81.46 114.48h0 M82.12 115.21h0 M82.78 115.93h0 M83.45 116.64h0 M84.11 117.34h0 M84.77 118.02h0 M85.44 118.68h0 M86.10 119.33h0 M86.76 119.96h0 M87.43 120.58h0 M88.09 121.18h0 M88.75 121.75h0 M89.41 122.32h0 M90.08 122.86h0 M90.74 123.38h0 M91.40 123.89h0 M92.07 124.37h0 M92.73 124.84h0 M93.39 125.29h0 M94.06 125.72h0 M94.72 126.13h0 M95.38 126.52h0 M96.05 126.90h0 M96.71 127.25h0 M97.37 127.59h0 M98.04 127.91h0 M98.70 128.22h0 M99.36 128.50h0 M100.03 128.77h0 M100.69 129.03h0 M101.35 129.26h0 M102.02 129.48h0 M102.68 129.69h0 M103.34 129.88h0 M104.00 130.05h0 M104.67 130.21h0 M105.33 130.36h0 M105.99 130.49h0 M106.66 130.61h0 M107.32 130.71h0 M107.98 130.80h0 M108.65 130.88h0 M109.31 130.94h0 M109.97 130.99h0 M110.64 131.03h0 M111.30 131.06h0 M111.96 131.07h0 M112.63 131.08h0 M113.29 131.07h0 M113.95 131.05h0 M114.62 131.03h0 M115.28 130.99h0 M115.94 130.94h0 M116.61 130.88h0 M117.27 130.81h0 M117.93 130.73h0 M118.60 130.65h0 M119.26 130.55h0 M119.92 130.45h0 M120.58 130.34h0 M121.25 130.22h0 M121.91 130.09h0 M122.57 129.96h0 M123.24 129.82h0 M123.90 129.67h0 M124.56 129.51h0 M125.23 129.35h0 M125.89 129.18h0 M126.55 129.01h0 M127.22 128.83h0 M127.88 128.64h0 M128.54 128.45h0 M129.21 128.25h0 M129.87 128.05h0 M130.53 127.85h0 M131.20 127.64h0 M131.86 127.42h0 M132.52 127.20h0 M133.19 126.98h0 M133.85 126.75h0 M134.51 126.52h0 M135.17 126.29h0 M135.84 126.05h0 M136.50 125.81h0 M137.16 125.57h0 M137.83 125.32h0 M138.49 125.07h0 M139.15 124.82h0 M139.82 124.57h0 M140.48 124.31h0 M141.14 124.05h0 M141.81 123.79h0 M142.47 123.53h0 M143.13 123.26h0 M143.80 123.00h0 M144.46 122.73h0 M145.12 122.46h0 M145.79 122.20h0 M146.45 121.93h0 M147.11 121.65h0 M147.78 121.38h0 M148.44 121.11h0 M149.10 120.84h0 M149.77 120.56h0 M150.43 120.29h0 M151.09 120.02h0 M151.75 119.74h0 M152.42 119.47h0 M153.08 119.19h0 M153.74 118.92h0 M154.41 118.64h0 M155.07 118.37h0 M155.73 118.10h0 M156.40 117.82h0 M157.06 117.55h0 M157.72 117.28h0 M158.39 117.01h0 M159.05 116.74h0 M159.71 116.47h0 M160.38 116.20h0 M161.04 115.93h0 M161.70 115.66h0 M162.37 115.39h0 M163.03 115.12h0 M163.69 114.86h0 M164.36 114.59h0 M165.02 114.32h0 M165.68 114.06h0 M166.34 113.79h0 M167.01 113.53h0 M167.67 113.26h0 M168.33 113.00h0 M169.00 112.73h0 M169.66 112.47h0 M170.32 112.21h0 M170.99 111.94h0 M171.65 111.68h0 M172.31 111.42h0 M172.98 111.15h0 M173.64 110.89h0 M174.30 110.63h0 M174.97 110.37h0 M175.63 110.10h0 M176.29 109.84h0 M176.96 109.57h0 M177.62 109.31h0 M178.28 109.05h0 M178.95 108.78h0 M179.61 108.52h0 M180.27 108.25h0 M180.93 107.99h0 M181.60 107.72h0 M182.26 107.46h0 M182.92 107.19h0 M183.59 106.93h0 M184.25 106.66h0 M184.91 106.39h0 M185.58 106.13h0 M186.24 105.86h0 M186.90 105.59h0 M187.57 105.33h0 M188.23 105.06h0 M188.89 104.79h0 M189.56 104.52h0 M190.22 104.25h0 M190.88 103.98h0 M191.55 103.71h0 M192.21 103.44h0 M192.87 103.18h0 M193.54 102.91h0 M194.20 102.64h0 M194.86 102.37h0 M195.53 102.10h0 M196.19 101.83h0 M196.85 101.56h0 M197.51 101.29h0 M198.18 101.02h0 M198.84 100.75h0 M199.50 100.48h0 M200.17 100.21h0 M200.83 99.94h0 M201.49 99.67h0 M202.16 99.40h0 M202.82 99.13h0 M203.48 98.87h0 M204.15 98.60h0 M204.81 98.34h0 M205.47 98.07h0 M206.14 97.81h0 M206.80 97.54h0 M207.46 97.28h0 M208.13 97.02h0 M208.79 96.76h0 M209.45 96.51h0 M210.12 96.25h0 M210.78 96.00h0 M211.44 95.74h0 M212.10 95.49h0 M212.77 95.24h0 M213.43 94.99h0 M214.09 94.75h0 M214.76 94.50h0 M215.42 94.26h0 M216.08 94.02h0 M216.75 93.78h0 M217.41 93.54h0 M218.07 93.31h0 M218.74 93.07h0 M219.40 92.84h0 M220.06 92.61h0 M220.73 92.38h0 M221.39 92.16h0 M222.05 91.93h0 M222.72 91.71h0 M223.38 91.49h0 M224.04 91.27h0 M224.71 91.05h0 M225.37 90.83h0 M226.03 90.62h0 M226.70 90.40h0 M227.36 90.19h0 M228.02 89.97h0 M228.68 89.76h0 M229.35 89.55h0 M230.01 89.34h0 M230.67 89.13h0 M231.34 88.93h0 M232.00 88.72h0 M232.66 88.51h0 M233.33 88.31h0 M233.99 88.10h0 M234.65 87.90h0 M235.32 87.69h0 M235.98 87.49h0 M236.64 87.29h0 M237.31 87.09h0 M237.97 86.88h0 M238.63 86.68h0 M239.30 86.48h0 M239.96 86.28h0 M240.62 86.08h0 M241.29 85.88h0 M241.95 85.68h0 M242.61 85.48h0 M243.27 85.29h0 M243.94 85.09h0 M244.60 84.89h0 M245.26 84.69h0 M245.93 84.50h0 M246.59 84.30h0 M247.25 84.11h0 M247.92 83.92h0 M248.58 83.72h0 M249.24 83.53h0 M249.91 83.34h0 M250.57 83.15h0 M251.23 82.96h0 M251.90 82.77h0 M252.56 82.58h0 M253.22 82.40h0 M253.89 82.21h0 M254.55 82.03h0 M255.21 81.85h0 M255.88 81.67h0 M256.54 81.49h0 M257.20 81.32h0 M257.87 81.15h0 M258.53 80.97h0 M259.19 80.80h0 M259.85 80.64h0 M260.52 80.47h0 M261.18 80.31h0 M261.84 80.14h0 M262.51 79.98h0 M263.17 79.82h0 M263.83 79.67h0 M264.50 79.51h0 M265.16 79.36h0 M265.82 79.21h0 M266.49 79.06h0 M267.15 78.91h0 M267.81 78.77h0 M268.48 78.62h0 M269.14 78.48h0 M269.80 78.33h0 M270.47 78.19h0 M271.13 78.05h0 M271.79 77.91h0 M272.46 77.77h0 M273.12 77.64h0 M273.78 77.50h0 M274.44 77.36h0 M275.11 77.23h0 M275.77 77.09h0 M276.43 76.96h0 M277.10 76.82h0 M277.76 76.69h0 M278.42 76.55h0 M279.09 76.42h0 M279.75 76.29h0 M280.41 76.15h0 M281.08 76.02h0 M281.74 75.89h0 M282.40 75.76h0 M283.07 75.62h0 M283.73 75.49h0 M284.39 75.36h0 M285.06 75.23h0 M285.72 75.10h0 M286.38 74.97h0 M287.05 74.84h0 M287.71 74.71h0 M288.37 74.58h0 M289.03 74.45h0 M289.70 74.32h0 M290.36 74.19h0 M291.02 74.06h0 M291.69 73.94h0 M292.35 73.81h0 M293.01 73.68h0 M293.68 73.55h0 M294.34 73.43h0 M295.00 73.30h0 M295.67 73.18h0 M296.33 73.05h0 M296.99 72.93h0 M297.66 72.80h0 M298.32 72.68h0 M298.98 72.55h0 M299.65 72.43h0 M300.31 72.31h0 M300.97 72.18h0 M301.64 72.06h0 M302.30 71.94h0 M302.96 71.81h0 M303.63 71.69h0 M304.29 71.57h0 M304.95 71.45h0 M305.61 71.33h0 M306.28 71.20h0 M306.94 71.08h0 M307.60 70.96h0 M308.27 70.84h0 M308.93 70.72h0 M309.59 70.60h0 M310.26 70.47h0 M310.92 70.35h0 M311.58 70.23h0 M312.25 70.11h0 M312.91 69.98h0 M313.57 69.86h0 M314.24 69.74h0 M314.90 69.62h0 M315.56 69.50h0 M316.23 69.37h0 M316.89 69.25h0 M317.55 69.13h0 M318.22 69.01h0 M318.88 68.89h0 M319.54 68.76h0 M320.20 68.64h0 M320.87 68.52h0 M321.53 68.40h0 M322.19 68.28h0 M322.86 68.16h0 M323.52 68.04h0 M324.18 67.92h0 M324.85 67.80h0 M325.51 67.68h0 M326.17 67.56h0 M326.84 67.45h0 M327.50 67.33h0 M328.16 67.21h0 M328.83 67.10h0" stroke="#ff0000" stroke-width="1.75" stroke-linecap="round"/>
<path d="M57.58 29.70 L58.24 52.00 L58.91 68.50 L59.57 83.00 L60.23 95.79 L60.90 105.30 L61.56 112.25 L62.22 117.27 L62.89 120.92 L63.55 123.61 L64.21 125.67 L64.88 127.31 L65.54 128.68 L66.20 129.88 L66.87 130.98 L67.53 132.02 L68.19 133.02 L68.86 134.00 L69.52 134.96 L70.18 135.90 L70.85 136.81 L71.51 137.71 L72.17 138.57 L72.83 139.41 L73.50 140.21 L74.16 140.98 L74.82 141.70 L75.49 142.38 L76.15 143.02 L76.81 143.62 L77.48 144.17 L78.14 144.67 L78.80 145.13 L79.47 145.54 L80.13 145.91 L80.79 146.23 L81.46 146.51 L82.12 146.75 L82.78 146.94 L83.45 147.10 L84.11 147.22 L84.77 147.29 L85.44 147.34 L86.10 147.35 L86.76 147.33 L87.43 147.27 L88.09 147.19 L88.75 147.08 L89.41 146.94 L90.08 146.78 L90.74 146.59 L91.40 146.38 L92.07 146.15 L92.73 145.90 L93.39 145.63 L94.06 145.34 L94.72 145.04 L95.38 144.71 L96.05 144.38 L96.71 144.03 L97.37 143.67 L98.04 143.29 L98.70 142.90 L99.36 142.50 L100.03 142.10 L100.69 141.68 L101.35 141.25 L102.02 140.82 L102.68 140.38 L103.34 139.93 L104.00 139.48 L104.67 139.02 L105.33 138.55 L105.99 138.08 L106.66 137.61 L107.32 137.13 L107.98 136.64 L108.65 136.16 L109.31 135.67 L109.97 135.18 L110.64 134.68 L111.30 134.19 L111.96 133.69 L112.63 133.19 L113.29 132.69 L113.95 132.19 L114.62 131.68 L115.28 131.18 L115.94 130.68 L116.61 130.17 L117.27 129.67 L117.93 129.16 L118.60 128.66 L119.26 128.16 L119.92 127.65 L120.58 127.15 L121.25 126.65 L121.91 126.15 L122.57 125.65 L123.24 125.15 L123.90 124.66 L124.56 124.16 L125.23 123.67 L125.89 123.17 L126.55 122.68 L127.22 122.19 L127.88 121.71 L128.54 121.22 L129.21 120.74 L129.87 120.25 L130.53 119.77 L131.20 119.30 L131.86 118.82 L132.52 118.35 L133.19 117.87 L133.85 117.41 L134.51 116.94 L135.17 116.47 L135.84 116.01 L136.50 115.55 L137.16 115.09 L137.83 114.63 L138.49 114.18 L139.15 113.73 L139.82 113.28 L140.48 112.83 L141.14 112.39 L141.81 111.94 L142.47 111.50 L143.13 111.06 L143.80 110.63 L144.46 110.19 L145.12 109.76 L145.79 109.33 L146.45 108.91 L147.11 108.48 L147.78 108.06 L148.44 107.64 L149.10 107.22 L149.77 106.81 L150.43 106.40 L151.09 105.99 L151.75 105.58 L152.42 105.17 L153.08 104.77 L153.74 104.37 L154.41 103.97 L155.07 103.57 L155.73 103.18 L156.40 102.79 L157.06 102.40 L157.72 102.01 L158.39 101.63 L159.05 101.25 L159.71 100.87 L160.38 100.49 L161.04 100.12 L161.70 99.74 L162.37 99.37 L163.03 99.01 L163.69 98.64 L164.36 98.28 L165.02 97.92 L165.68 97.56 L166.34 97.20 L167.01 96.85 L167.67 96.49 L168.33 96.14 L169.00 95.80 L169.66 95.45 L170.32 95.11 L170.99 94.76 L171.65 94.42 L172.31 94.09 L172.98 93.75 L173.64 93.42 L174.30 93.09 L174.97 92.76 L175.63 92.43 L176.29 92.11 L176.96 91.78 L177.62 91.46 L178.28 91.14 L178.95 90.83 L179.61 90.51 L180.27 90.20 L180.93 89.89 L181.60 89.58 L182.26 89.28 L182.92 88.98 L183.59 88.68 L184.25 88.38 L184.91 88.08 L185.58 87.79 L186.24 87.49 L186.90 87.20 L187.57 86.92 L188.23 86.63 L188.89 86.35 L189.56 86.07 L190.22 85.79 L190.88 85.52 L191.55 85.24 L192.21 84.97 L192.87 84.71 L193.54 84.44 L194.20 84.18 L194.86 83.91 L195.53 83.65 L196.19 83.40 L196.85 83.14 L197.51 82.89 L198.18 82.64 L198.84 82.39 L199.50 82.14 L200.17 81.90 L200.83 81.66 L201.49 81.41 L202.16 81.17 L202.82 80.94 L203.48 80.70 L204.15 80.47 L204.81 80.23 L205.47 80.00 L206.14 79.77 L206.80 79.54 L207.46 79.31 L208.13 79.09 L208.79 78.86 L209.45 78.64 L210.12 78.41 L210.78 78.19 L211.44 77.97 L212.10 77.75 L212.77 77.53 L213.43 77.31 L214.09 77.09 L214.76 76.87 L215.42 76.65 L216.08 76.44 L216.75 76.22 L217.41 76.01 L218.07 75.79 L218.74 75.58 L219.40 75.36 L220.06 75.15 L220.73 74.94 L221.39 74.73 L222.05 74.52 L222.72 74.31 L223.38 74.10 L224.04 73.89 L224.71 73.68 L225.37 73.48 L226.03 73.27 L226.70 73.07 L227.36 72.87 L228.02 72.66 L228.68 72.46 L229.35 72.26 L230.01 72.06 L230.67 71.87 L231.34 71.67 L232.00 71.47 L232.66 71.28 L233.33 71.09 L233.99 70.89 L234.65 70.70 L235.32 70.51 L235.98 70.33 L236.64 70.14 L237.31 69.95 L237.97 69.77 L238.63 69.59 L239.30 69.41 L239.96 69.23 L240.62 69.05 L241.29 68.87 L241.95 68.69 L242.61 68.52 L243.27 68.35 L243.94 68.17 L244.60 68.00 L245.26 67.83 L245.93 67.67 L246.59 67.50 L247.25 67.33 L247.92 67.17 L248.58 67.01 L249.24 66.85 L249.91 66.69 L250.57 66.53 L251.23 66.37 L251.90 66.21 L252.56 66.06 L253.22 65.90 L253.89 65.75 L254.55 65.60 L255.21 65.45 L255.88 65.30 L256.54 65.15 L257.20 65.00 L257.87 64.86 L258.53 64.71 L259.19 64.57 L259.85 64.42 L260.52 64.28 L261.18 64.14 L261.84 64.00 L262.51 63.86 L263.17 63.72 L263.83 63.58 L264.50 63.44 L265.16 63.30 L265.82 63.17 L266.49 63.03 L267.15 62.89 L267.81 62.76 L268.48 62.63 L269.14 62.49 L269.80 62.36 L270.47 62.23 L271.13 62.10 L271.79 61.97 L272.46 61.84 L273.12 61.71 L273.78 61.58 L274.44 61.45 L275.11 61.32 L275.77 61.20 L276.43 61.07 L277.10 60.95 L277.76 60.82 L278.42 60.70 L279.09 60.57 L279.75 60.45 L280.41 60.33 L281.08 60.21 L281.74 60.08 L282.40 59.96 L283.07 59.84 L283.73 59.73 L284.39 59.61 L285.06 59.49 L285.72 59.37 L286.38 59.25 L287.05 59.14 L287.71 59.02 L288.37 58.91 L289.03 58.79 L289.70 58.68 L290.36 58.57 L291.02 58.45 L291.69 58.34 L292.35 58.23 L293.01 58.12 L293.68 58.01 L294.34 57.90 L295.00 57.79 L295.67 57.68 L296.33 57.57 L296.99 57.47 L297.66 57.36 L298.32 57.25 L298.98 57.14 L299.65 57.04 L300.31 56.93 L300.97 56.83 L301.64 56.72 L302.30 56.62 L302.96 56.51 L303.63 56.41 L304.29 56.31 L304.95 56.20 L305.61 56.10 L306.28 56.00 L306.94 55.90 L307.60 55.80 L308.27 55.70 L308.93 55.59 L309.59 55.49 L310.26 55.39 L310.92 55.29 L311.58 55.19 L312.25 55.10 L312.91 55.00 L313.57 54.90 L314.24 54.80 L314.90 54.70 L315.56 54.61 L316.23 54.51 L316.89 54.41 L317.55 54.32 L318.22 54.22 L318.88 54.13 L319.54 54.03 L320.20 53.94 L320.87 53.84 L321.53 53.75 L322.19 53.66 L322.86 53.57 L323.52 53.47 L324.18 53.38 L324.85 53.29 L325.51 53.20 L326.17 53.11 L326.84 53.02 L327.50 52.93 L328.16 52.84 L328.83 52.75" stroke="#00ee00" stroke-width="0.6" stroke-opacity="0.85"/>
<path d="M57.58 29.70h0 M58.24 52.00h0 M58.91 68.50h0 M59.57 83.00h0 M60.23 95.79h0 M60.90 105.30h0 M61.56 112.25h0 M62.22 117.27h0 M62.89 120.92h0 M63.55 123.61h0 M64.21 125.67h0 M64.88 127.31h0 M65.54 128.68h0 M66.20 129.88h0 M66.87 130.98h0 M67.53 132.02h0 M68.19 133.02h0 M68.86 134.00h0 M69.52 134.96h0 M70.18 135.90h0 M70.85 136.81h0 M71.51 137.71h0 M72.17 138.57h0 M72.83 139.41h0 M73.50 140.21h0 M74.16 140.98h0 M74.82 141.70h0 M75.49 142.38h0 M76.15 143.02h0 M76.81 143.62h0 M77.48 144.17h0 M78.14 144.67h0 M78.80 145.13h0 M79.47 145.54h0 M80.13 145.91h0 M80.79 146.23h0 M81.46 146.51h0 M82.12 146.75h0 M82.78 146.94h0 M83.45 147.10h0 M84.11 147.22h0 M84.77 147.29h0 M85.44 147.34h0 M86.10 147.35h0 M86.76 147.33h0 M87.43 147.27h0 M88.09 147.19h0 M88.75 147.08h0 M89.41 146.94h0 M90.08 146.78h0 M90.74 146.59h0 M91.40 146.38h0 M92.07 146.15h0 M92.73 145.90h0 M93.39 145.63h0 M94.06 145.34h0 M94.72 145.04h0 M95.38 144.71h0 M96.05 144.38h0 M96.71 144.03h0 M97.37 143.67h0 M98.04 143.29h0 M98.70 142.90h0 M99.36 142.50h0 M100.03 142.10h0 M100.69 141.68h0 M101.35 141.25h0 M102.02 140.82h0 M102.68 140.38h0 M103.34 139.93h0 M104.00 139.48h0 M104.67 139.02h0 M105.33 138.55h0 M105.99 138.08h0 M106.66 137.61h0 M107.32 137.13h0 M107.98 136.64h0 M108.65 136.16h0 M109.31 135.67h0 M109.97 135.18h0 M110.64 134.68h0 M111.30 134.19h0 M111.96 133.69h0 M112.63 133.19h0 M113.29 132.69h0 M113.95 132.19h0 M114.62 131.68h0 M115.28 131.18h0 M115.94 130.68h0 M116.61 130.17h0 M117.27 129.67h0 M117.93 129.16h0 M118.60 128.66h0 M119.26 128.16h0 M119.92 127.65h0 M120.58 127.15h0 M121.25 126.65h0 M121.91 126.15h0 M122.57 125.65h0 M123.24 125.15h0 M123.90 124.66h0 M124.56 124.16h0 M125.23 123.67h0 M125.89 123.17h0 M126.55 122.68h0 M127.22 122.19h0 M127.88 121.71h0 M128.54 121.22h0 M129.21 120.74h0 M129.87 120.25h0 M130.53 119.77h0 M131.20 119.30h0 M131.86 118.82h0 M132.52 118.35h0 M133.19 117.87h0 M133.85 117.41h0 M134.51 116.94h0 M135.17 116.47h0 M135.84 116.01h0 M136.50 115.55h0 M137.16 115.09h0 M137.83 114.63h0 M138.49 114.18h0 M139.15 113.73h0 M139.82 113.28h0 M140.48 112.83h0 M141.14 112.39h0 M141.81 111.94h0 M142.47 111.50h0 M143.13 111.06h0 M143.80 110.63h0 M144.46 110.19h0 M145.12 109.76h0 M145.79 109.33h0 M146.45 108.91h0 M147.11 108.48h0 M147.78 108.06h0 M148.44 107.64h0 M149.10 107.22h0 M149.77 106.81h0 M150.43 106.40h0 M151.09 105.99h0 M151.75 105.58h0 M152.42 105.17h0 M153.08 104.77h0 M153.74 104.37h0 M154.41 103.97h0 M155.07 103.57h0 M155.73 103.18h0 M156.40 102.79h0 M157.06 102.40h0 M157.72 102.01h0 M158.39 101.63h0 M159.05 101.25h0 M159.71 100.87h0 M160.38 100.49h0 M161.04 100.12h0 M161.70 99.74h0 M162.37 99.37h0 M163.03 99.01h0 M163.69 98.64h0 M164.36 98.28h0 M165.02 97.92h0 M165.68 97.56h0 M166.34 97.20h0 M167.01 96.85h0 M167.67 96.49h0 M168.33 96.14h0 M169.00 95.80h0 M169.66 95.45h0 M170.32 95.11h0 M170.99 94.76h0 M171.65 94.42h0 M172.31 94.09h0 M172.98 93.75h0 M173.64 93.42h0 M174.30 93.09h0 M174.97 92.76h0 M175.63 92.43h0 M176.29 92.11h0 M176.96 91.78h0 M177.62 91.46h0 M178.28 91.14h0 M178.95 90.83h0 M179.61 90.51h0 M180.27 90.20h0 M180.93 89.89h0 M181.60 89.58h0 M182.26 89.28h0 M182.92 88.98h0 M183.59 88.68h0 M184.25 88.38h0 M184.91 88.08h0 M185.58 87.79h0 M186.24 87.49h0 M186.90 87.20h0 M187.57 86.92h0 M188.23 86.63h0 M188.89 86.35h0 M189.56 86.07h0 M190.22 85.79h0 M190.88 85.52h0 M191.55 85.24h0 M192.21 84.97h0 M192.87 84.71h0 M193.54 84.44h0 M194.20 84.18h0 M194.86 83.91h0 M195.53 83.65h0 M196.19 83.40h0 M196.85 83.14h0 M197.51 82.89h0 M198.18 82.64h0 M198.84 82.39h0 M199.50 82.14h0 M200.17 81.90h0 M200.83 81.66h0 M201.49 81.41h0 M202.16 81.17h0 M202.82 80.94h0 M203.48 80.70h0 M204.15 80.47h0 M204.81 80.23h0 M205.47 80.00h0 M206.14 79.77h0 M206.80 79.54h0 M207.46 79.31h0 M208.13 79.09h0 M208.79 78.86h0 M209.45 78.64h0 M210.12 78.41h0 M210.78 78.19h0 M211.44 77.97h0 M212.10 77.75h0 M212.77 77.53h0 M213.43 77.31h0 M214.09 77.09h0 M214.76 76.87h0 M215.42 76.65h0 M216.08 76.44h0 M216.75 76.22h0 M217.41 76.01h0 M218.07 75.79h0 M218.74 75.58h0 M219.40 75.36h0 M220.06 75.15h0 M220.73 74.94h0 M221.39 74.73h0 M222.05 74.52h0 M222.72 74.31h0 M223.38 74.10h0 M224.04 73.89h0 M224.71 73.68h0 M225.37 73.48h0 M226.03 73.27h0 M226.70 73.07h0 M227.36 72.87h0 M228.02 72.66h0 M228.68 72.46h0 M229.35 72.26h0 M230.01 72.06h0 M230.67 71.87h0 M231.34 71.67h0 M232.00 71.47h0 M232.66 71.28h0 M233.33 71.09h0 M233.99 70.89h0 M234.65 70.70h0 M235.32 70.51h0 M235.98 70.33h0 M236.64 70.14h0 M237.31 69.95h0 M237.97 69.77h0 M238.63 69.59h0 M239.30 69.41h0 M239.96 69.23h0 M240.62 69.05h0 M241.29 68.87h0 M241.95 68.69h0 M242.61 68.52h0 M243.27 68.35h0 M243.94 68.17h0 M244.60 68.00h0 M245.26 67.83h0 M245.93 67.67h0 M246.59 67.50h0 M247.25 67.33h0 M247.92 67.17h0 M248.58 67.01h0 M249.24 66.85h0 M249.91 66.69h0 M250.57 66.53h0 M251.23 66.37h0 M251.90 66.21h0 M252.56 66.06h0 M253.22 65.90h0 M253.89 65.75h0 M254.55 65.60h0 M255.21 65.45h0 M255.88 65.30h0 M256.54 65.15h0 M257.20 65.00h0 M257.87 64.86h0 M258.53 64.71h0 M259.19 64.57h0 M259.85 64.42h0 M260.52 64.28h0 M261.18 64.14h0 M261.84 64.00h0 M262.51 63.86h0 M263.17 63.72h0 M263.83 63.58h0 M264.50 63.44h0 M265.16 63.30h0 M265.82 63.17h0 M266.49 63.03h0 M267.15 62.89h0 M267.81 62.76h0 M268.48 62.63h0 M269.14 62.49h0 M269.80 62.36h0 M270.47 62.23h0 M271.13 62.10h0 M271.79 61.97h0 M272.46 61.84h0 M273.12 61.71h0 M273.78 61.58h0 M274.44 61.45h0 M275.11 61.32h0 M275.77 61.20h0 M276.43 61.07h0 M277.10 60.95h0 M277.76 60.82h0 M278.42 60.70h0 M279.09 60.57h0 M279.75 60.45h0 M280.41 60.33h0 M281.08 60.21h0 M281.74 60.08h0 M282.40 59.96h0 M283.07 59.84h0 M283.73 59.73h0 M284.39 59.61h0 M285.06 59.49h0 M285.72 59.37h0 M286.38 59.25h0 M287.05 59.14h0 M287.71 59.02h0 M288.37 58.91h0 M289.03 58.79h0 M289.70 58.68h0 M290.36 58.57h0 M291.02 58.45h0 M291.69 58.34h0 M292.35 58.23h0 M293.01 58.12h0 M293.68 58.01h0 M294.34 57.90h0 M295.00 57.79h0 M295.67 57.68h0 M296.33 57.57h0 M296.99 57.47h0 M297.66 57.36h0 M298.32 57.25h0 M298.98 57.14h0 M299.65 57.04h0 M300.31 56.93h0 M300.97 56.83h0 M301.64 56.72h0 M302.30 56.62h0 M302.96 56.51h0 M303.63 56.41h0 M304.29 56.31h0 M304.95 56.20h0 M305.61 56.10h0 M306.28 56.00h0 M306.94 55.90h0 M307.60 55.80h0 M308.27 55.70h0 M308.93 55.59h0 M309.59 55.49h0 M310.26 55.39h0 M310.92 55.29h0 M311.58 55.19h0 M312.25 55.10h0 M312.91 55.00h0 M313.57 54.90h0 M314.24 54.80h0 M314.90 54.70h0 M315.56 54.61h0 M316.23 54.51h0 M316.89 54.41h0 M317.55 54.32h0 M318.22 54.22h0 M318.88 54.13h0 M319.54 54.03h0 M320.20 53.94h0 M320.87 53.84h0 M321.53 53.75h0 M322.19 53.66h0 M322.86 53.57h0 M323.52 53.47h0 M324.18 53.38h0 M324.85 53.29h0 M325.51 53.20h0 M326.17 53.11h0 M326.84 53.02h0 M327.50 52.93h0 M328.16 52.84h0 M328.83 52.75h0" stroke="#00ee00" stroke-width="1.75" stroke-linecap="round"/>
<path d="M57.58 53.40 L58.24 100.80 L58.91 132.50 L59.57 155.20 L60.23 170.21 L60.90 180.09 L61.56 185.74 L62.22 188.91 L62.89 190.70 L63.55 191.74 L64.21 192.37 L64.88 192.79 L65.54 193.08 L66.20 193.27 L66.87 193.39 L67.53 193.42 L68.19 193.38 L68.86 193.24 L69.52 193.02 L70.18 192.70 L70.85 192.30 L71.51 191.81 L72.17 191.23 L72.83 190.58 L73.50 189.85 L74.16 189.06 L74.82 188.20 L75.49 187.28 L76.15 186.32 L76.81 185.31 L77.48 184.26 L78.14 183.18 L78.80 182.07 L79.47 180.93 L80.13 179.77 L80.79 178.60 L81.46 177.41 L82.12 176.21 L82.78 175.00 L83.45 173.78 L84.11 172.56 L84.77 171.34 L85.44 170.11 L86.10 168.89 L86.76 167.67 L87.43 166.45 L88.09 165.23 L88.75 164.02 L89.41 162.82 L90.08 161.62 L90.74 160.43 L91.40 159.25 L92.07 158.07 L92.73 156.91 L93.39 155.75 L94.06 154.60 L94.72 153.46 L95.38 152.33 L96.05 151.21 L96.71 150.10 L97.37 149.01 L98.04 147.92 L98.70 146.84 L99.36 145.77 L100.03 144.71 L100.69 143.67 L101.35 142.63 L102.02 141.61 L102.68 140.59 L103.34 139.59 L104.00 138.60 L104.67 137.62 L105.33 136.65 L105.99 135.69 L106.66 134.74 L107.32 133.80 L107.98 132.87 L108.65 131.96 L109.31 131.05 L109.97 130.15 L110.64 129.27 L111.30 128.39 L111.96 127.53 L112.63 126.68 L113.29 125.83 L113.95 125.00 L114.62 124.17 L115.28 123.36 L115.94 122.55 L116.61 121.76 L117.27 120.97 L117.93 120.20 L118.60 119.43 L119.26 118.67 L119.92 117.92 L120.58 117.18 L121.25 116.45 L121.91 115.73 L122.57 115.01 L123.24 114.30 L123.90 113.60 L124.56 112.91 L125.23 112.23 L125.89 111.56 L126.55 110.89 L127.22 110.23 L127.88 109.58 L128.54 108.93 L129.21 108.29 L129.87 107.66 L130.53 107.04 L131.20 106.42 L131.86 105.81 L132.52 105.20 L133.19 104.61 L133.85 104.02 L134.51 103.43 L135.17 102.85 L135.84 102.28 L136.50 101.71 L137.16 101.15 L137.83 100.60 L138.49 100.05 L139.15 99.51 L139.82 98.97 L140.48 98.44 L141.14 97.92 L141.81 97.40 L142.47 96.88 L143.13 96.37 L143.80 95.87 L144.46 95.37 L145.12 94.88 L145.79 94.39 L146.45 93.91 L147.11 93.43 L147.78 92.96 L148.44 92.49 L149.10 92.03 L149.77 91.58 L150.43 91.12 L151.09 90.68 L151.75 90.23 L152.42 89.80 L153.08 89.36 L153.74 88.93 L154.41 88.51 L155.07 88.09 L155.73 87.68 L156.40 87.27 L157.06 86.86 L157.72 86.46 L158.39 86.06 L159.05 85.67 L159.71 85.28 L160.38 84.89 L161.04 84.51 L161.70 84.13 L162.37 83.76 L163.03 83.39 L163.69 83.03 L164.36 82.66 L165.02 82.31 L165.68 81.95 L166.34 81.60 L167.01 81.25 L167.67 80.91 L168.33 80.57 L169.00 80.23 L169.66 79.90 L170.32 79.57 L170.99 79.24 L171.65 78.91 L172.31 78.59 L172.98 78.27 L173.64 77.96 L174.30 77.65 L174.97 77.34 L175.63 77.03 L176.29 76.72 L176.96 76.42 L177.62 76.12 L178.28 75.83 L178.95 75.53 L179.61 75.24 L180.27 74.95 L180.93 74.66 L181.60 74.38 L182.26 74.09 L182.92 73.81 L183.59 73.53 L184.25 73.26 L184.91 72.98 L185.58 72.71 L186.24 72.44 L186.90 72.17 L187.57 71.90 L188.23 71.64 L188.89 71.37 L189.56 71.11 L190.22 70.85 L190.88 70.59 L191.55 70.34 L192.21 70.08 L192.87 69.83 L193.54 69.58 L194.20 69.33 L194.86 69.08 L195.53 68.84 L196.19 68.60 L196.85 68.36 L197.51 68.12 L198.18 67.88 L198.84 67.64 L199.50 67.41 L200.17 67.18 L200.83 66.95 L201.49 66.72 L202.16 66.50 L202.82 66.27 L203.48 66.05 L204.15 65.83 L204.81 65.62 L205.47 65.40 L206.14 65.19 L206.80 64.98 L207.46 64.77 L208.13 64.56 L208.79 64.35 L209.45 64.15 L210.12 63.95 L210.78 63.75 L211.44 63.55 L212.10 63.35 L212.77 63.16 L213.43 62.96 L214.09 62.77 L214.76 62.58 L215.42 62.39 L216.08 62.20 L216.75 62.01 L217.41 61.83 L218.07 61.65 L218.74 61.46 L219.40 61.28 L220.06 61.10 L220.73 60.92 L221.39 60.74 L222.05 60.57 L222.72 60.39 L223.38 60.22 L224.04 60.04 L224.71 59.87 L225.37 59.70 L226.03 59.53 L226.70 59.36 L227.36 59.19 L228.02 59.02 L228.68 58.86 L229.35 58.69 L230.01 58.52 L230.67 58.36 L231.34 58.19 L232.00 58.03 L232.66 57.87 L233.33 57.70 L233.99 57.54 L234.65 57.38 L235.32 57.22 L235.98 57.06 L236.64 56.90 L237.31 56.75 L237.97 56.59 L238.63 56.43 L239.30 56.28 L239.96 56.12 L240.62 55.97 L241.29 55.82 L241.95 55.66 L242.61 55.51 L243.27 55.36 L243.94 55.21 L244.60 55.06 L245.26 54.92 L245.93 54.77 L246.59 54.63 L247.25 54.48 L247.92 54.34 L248.58 54.20 L249.24 54.06 L249.91 53.92 L250.57 53.78 L251.23 53.65 L251.90 53.51 L252.56 53.38 L253.22 53.25 L253.89 53.12 L254.55 52.99 L255.21 52.86 L255.88 52.73 L256.54 52.60 L257.20 52.48 L257.87 52.36 L258.53 52.23 L259.19 52.11 L259.85 51.99 L260.52 51.88 L261.18 51.76 L261.84 51.64 L262.51 51.53 L263.17 51.41 L263.83 51.30 L264.50 51.19 L265.16 51.08 L265.82 50.96 L266.49 50.86 L267.15 50.75 L267.81 50.64 L268.48 50.53 L269.14 50.42 L269.80 50.32 L270.47 50.21 L271.13 50.11 L271.79 50.01 L272.46 49.90 L273.12 49.80 L273.78 49.70 L274.44 49.60 L275.11 49.49 L275.77 49.39 L276.43 49.29 L277.10 49.19 L277.76 49.10 L278.42 49.00 L279.09 48.90 L279.75 48.80 L280.41 48.70 L281.08 48.61 L281.74 48.51 L282.40 48.41 L283.07 48.32 L283.73 48.22 L284.39 48.13 L285.06 48.04 L285.72 47.94 L286.38 47.85 L287.05 47.76 L287.71 47.67 L288.37 47.58 L289.03 47.49 L289.70 47.40 L290.36 47.31 L291.02 47.22 L291.69 47.14 L292.35 47.05 L293.01 46.97 L293.68 46.89 L294.34 46.81 L295.00 46.73 L295.67 46.65 L296.33 46.58 L296.99 46.51 L297.66 46.44 L298.32 46.37 L298.98 46.30 L299.65 46.24 L300.31 46.18 L300.97 46.12 L301.64 46.07 L302.30 46.01 L302.96 45.96 L303.63 45.91 L304.29 45.86 L304.95 45.81 L305.61 45.76 L306.28 45.71 L306.94 45.65 L307.60 45.60 L308.27 45.55 L308.93 45.49 L309.59 45.43 L310.26 45.37 L310.92 45.31 L311.58 45.25 L312.25 45.19 L312.91 45.12 L313.57 45.06 L314.24 44.99 L314.90 44.92 L315.56 44.85 L316.23 44.79 L316.89 44.72 L317.55 44.65 L318.22 44.58 L318.88 44.50 L319.54 44.43 L320.20 44.36 L320.87 44.29 L321.53 44.22 L322.19 44.15 L322.86 44.08 L323.52 44.01 L324.18 43.94 L324.85 43.87 L325.51 43.80 L326.17 43.73 L326.84 43.66 L327.50 43.59 L328.16 43.52 L328.83 43.45" stroke="#0000ff" stroke-width="0.6" stroke-opacity="0.85"/>
<path d="M57.58 53.40h0 M58.24 100.80h0 M58.91 132.50h0 M59.57 155.20h0 M60.23 170.21h0 M60.90 180.09h0 M61.56 185.74h0 M62.22 188.91h0 M62.89 190.70h0 M63.55 191.74h0 M64.21 192.37h0 M64.88 192.79h0 M65.54 193.08h0 M66.20 193.27h0 M66.87 193.39h0 M67.53 193.42h0 M68.19 193.38h0 M68.86 193.24h0 M69.52 193.02h0 M70.18 192.70h0 M70.85 192.30h0 M71.51 191.81h0 M72.17 191.23h0 M72.83 190.58h0 M73.50 189.85h0 M74.16 189.06h0 M74.82 188.20h0 M75.49 187.28h0 M76.15 186.32h0 M76.81 185.31h0 M77.48 184.26h0 M78.14 183.18h0 M78.80 182.07h0 M79.47 180.93h0 M80.13 179.77h0 M80.79 178.60h0 M81.46 177.41h0 M82.12 176.21h0 M82.78 175.00h0 M83.45 173.78h0 M84.11 172.56h0 M84.77 171.34h0 M85.44 170.11h0 M86.10 168.89h0 M86.76 167.67h0 M87.43 166.45h0 M88.09 165.23h0 M88.75 164.02h0 M89.41 162.82h0 M90.08 161.62h0 M90.74 160.43h0 M91.40 159.25h0 M92.07 158.07h0 M92.73 156.91h0 M93.39 155.75h0 M94.06 154.60h0 M94.72 153.46h0 M95.38 152.33h0 M96.05 151.21h0 M96.71 150.10h0 M97.37 149.01h0 M98.04 147.92h0 M98.70 146.84h0 M99.36 145.77h0 M100.03 144.71h0 M100.69 143.67h0 M101.35 142.63h0 M102.02 141.61h0 M102.68 140.59h0 M103.34 139.59h0 M104.00 138.60h0 M104.67 137.62h0 M105.33 136.65h0 M105.99 135.69h0 M106.66 134.74h0 M107.32 133.80h0 M107.98 132.87h0 M108.65 131.96h0 M109.31 131.05h0 M109.97 130.15h0 M110.64 129.27h0 M111.30 128.39h0 M111.96 127.53h0 M112.63 126.68h0 M113.29 125.83h0 M113.95 125.00h0 M114.62 124.17h0 M115.28 123.36h0 M115.94 122.55h0 M116.61 121.76h0 M117.27 120.97h0 M117.93 120.20h0 M118.60 119.43h0 M119.26 118.67h0 M119.92 117.92h0 M120.58 117.18h0 M121.25 116.45h0 M121.91 115.73h0 M122.57 115.01h0 M123.24 114.30h0 M123.90 113.60h0 M124.56 112.91h0 M125.23 112.23h0 M125.89 111.56h0 M126.55 110.89h0 M127.22 110.23h0 M127.88 109.58h0 M128.54 108.93h0 M129.21 108.29h0 M129.87 107.66h0 M130.53 107.04h0 M131.20 106.42h0 M131.86 105.81h0 M132.52 105.20h0 M133.19 104.61h0 M133.85 104.02h0 M134.51 103.43h0 M135.17 102.85h0 M135.84 102.28h0 M136.50 101.71h0 M137.16 101.15h0 M137.83 100.60h0 M138.49 100.05h0 M139.15 99.51h0 M139.82 98.97h0 M140.48 98.44h0 M141.14 97.92h0 M141.81 97.40h0 M142.47 96.88h0 M143.13 96.37h0 M143.80 95.87h0 M144.46 95.37h0 M145.12 94.88h0 M145.79 94.39h0 M146.45 93.91h0 M147.11 93.43h0 M147.78 92.96h0 M148.44 92.49h0 M149.10 92.03h0 M149.77 91.58h0 M150.43 91.12h0 M151.09 90.68h0 M151.75 90.23h0 M152.42 89.80h0 M153.08 89.36h0 M153.74 88.93h0 M154.41 88.51h0 M155.07 88.09h0 M155.73 87.68h0 M156.40 87.27h0 M157.06 86.86h0 M157.72 86.46h0 M158.39 86.06h0 M159.05 85.67h0 M159.71 85.28h0 M160.38 84.89h0 M161.04 84.51h0 M161.70 84.13h0 M162.37 83.76h0 M163.03 83.39h0 M163.69 83.03h0 M164.36 82.66h0 M165.02 82.31h0 M165.68 81.95h0 M166.34 81.60h0 M167.01 81.25h0 M167.67 80.91h0 M168.33 80.57h0 M169.00 80.23h0 M169.66 79.90h0 M170.32 79.57h0 M170.99 79.24h0 M171.65 78.91h0 M172.31 78.59h0 M172.98 78.27h0 M173.64 77.96h0 M174.30 77.65h0 M174.97 77.34h0 M175.63 77.03h0 M176.29 76.72h0 M176.96 76.42h0 M177.62 76.12h0 M178.28 75.83h0 M178.95 75.53h0 M179.61 75.24h0 M180.27 74.95h0 M180.93 74.66h0 M181.60 74.38h0 M182.26 74.09h0 M182.92 73.81h0 M183.59 73.53h0 M184.25 73.26h0 M184.91 72.98h0 M185.58 72.71h0 M186.24 72.44h0 M186.90 72.17h0 M187.57 71.90h0 M188.23 71.64h0 M188.89 71.37h0 M189.56 71.11h0 M190.22 70.85h0 M190.88 70.59h0 M191.55 70.34h0 M192.21 70.08h0 M192.87 69.83h0 M193.54 69.58h0 M194.20 69.33h0 M194.86 69.08h0 M195.53 68.84h0 M196.19 68.60h0 M196.85 68.36h0 M197.51 68.12h0 M198.18 67.88h0 M198.84 67.64h0 M199.50 67.41h0 M200.17 67.18h0 M200.83 66.95h0 M201.49 66.72h0 M202.16 66.50h0 M202.82 66.27h0 M203.48 66.05h0 M204.15 65.83h0 M204.81 65.62h0 M205.47 65.40h0 M206.14 65.19h0 M206.80 64.98h0 M207.46 64.77h0 M208.13 64.56h0 M208.79 64.35h0 M209.45 64.15h0 M210.12 63.95h0 M210.78 63.75h0 M211.44 63.55h0 M212.10 63.35h0 M212.77 63.16h0 M213.43 62.96h0 M214.09 62.77h0 M214.76 62.58h0 M215.42 62.39h0 M216.08 62.20h0 M216.75 62.01h0 M217.41 61.83h0 M218.07 61.65h0 M218.74 61.46h0 M219.40 61.28h0 M220.06 61.10h0 M220.73 60.92h0 M221.39 60.74h0 M222.05 60.57h0 M222.72 60.39h0 M223.38 60.22h0 M224.04 60.04h0 M224.71 59.87h0 M225.37 59.70h0 M226.03 59.53h0 M226.70 59.36h0 M227.36 59.19h0 M228.02 59.02h0 M228.68 58.86h0 M229.35 58.69h0 M230.01 58.52h0 M230.67 58.36h0 M231.34 58.19h0 M232.00 58.03h0 M232.66 57.87h0 M233.33 57.70h0 M233.99 57.54h0 M234.65 57.38h0 M235.32 57.22h0 M235.98 57.06h0 M236.64 56.90h0 M237.31 56.75h0 M237.97 56.59h0 M238.63 56.43h0 M239.30 56.28h0 M239.96 56.12h0 M240.62 55.97h0 M241.29 55.82h0 M241.95 55.66h0 M242.61 55.51h0 M243.27 55.36h0 M243.94 55.21h0 M244.60 55.06h0 M245.26 54.92h0 M245.93 54.77h0 M246.59 54.63h0 M247.25 54.48h0 M247.92 54.34h0 M248.58 54.20h0 M249.24 54.06h0 M249.91 53.92h0 M250.57 53.78h0 M251.23 53.65h0 M251.90 53.51h0 M252.56 53.38h0 M253.22 53.25h0 M253.89 53.12h0 M254.55 52.99h0 M255.21 52.86h0 M255.88 52.73h0 M256.54 52.60h0 M257.20 52.48h0 M257.87 52.36h0 M258.53 52.23h0 M259.19 52.11h0 M259.85 51.99h0 M260.52 51.88h0 M261.18 51.76h0 M261.84 51.64h0 M262.51 51.53h0 M263.17 51.41h0 M263.83 51.30h0 M264.50 51.19h0 M265.16 51.08h0 M265.82 50.96h0 M266.49 50.86h0 M267.15 50.75h0 M267.81 50.64h0 M268.48 50.53h0 M269.14 50.42h0 M269.80 50.32h0 M270.47 50.21h0 M271.13 50.11h0 M271.79 50.01h0 M272.46 49.90h0 M273.12 49.80h0 M273.78 49.70h0 M274.44 49.60h0 M275.11 49.49h0 M275.77 49.39h0 M276.43 49.29h0 M277.10 49.19h0 M277.76 49.10h0 M278.42 49.00h0 M279.09 48.90h0 M279.75 48.80h0 M280.41 48.70h0 M281.08 48.61h0 M281.74 48.51h0 M282.40 48.41h0 M283.07 48.32h0 M283.73 48.22h0 M284.39 48.13h0 M285.06 48.04h0 M285.72 47.94h0 M286.38 47.85h0 M287.05 47.76h0 M287.71 47.67h0 M288.37 47.58h0 M289.03 47.49h0 M289.70 47.40h0 M290.36 47.31h0 M291.02 47.22h0 M291.69 47.14h0 M292.35 47.05h0 M293.01 46.97h0 M293.68 46.89h0 M294.34 46.81h0 M295.00 46.73h0 M295.67 46.65h0 M296.33 46.58h0 M296.99 46.51h0 M297.66 46.44h0 M298.32 46.37h0 M298.98 46.30h0 M299.65 46.24h0 M300.31 46.18h0 M300.97 46.12h0 M301.64 46.07h0 M302.30 46.01h0 M302.96 45.96h0 M303.63 45.91h0 M304.29 45.86h0 M304.95 45.81h0 M305.61 45.76h0 M306.28 45.71h0 M306.94 45.65h0 M307.60 45.60h0 M308.27 45.55h0 M308.93 45.49h0 M309.59 45.43h0 M310.26 45.37h0 M310.92 45.31h0 M311.58 45.25h0 M312.25 45.19h0 M312.91 45.12h0 M313.57 45.06h0 M314.24 44.99h0 M314.90 44.92h0 M315.56 44.85h0 M316.23 44.79h0 M316.89 44.72h0 M317.55 44.65h0 M318.22 44.58h0 M318.88 44.50h0 M319.54 44.43h0 M320.20 44.36h0 M320.87 44.29h0 M321.53 44.22h0 M322.19 44.15h0 M322.86 44.08h0 M323.52 44.01h0 M324.18 43.94h0 M324.85 43.87h0 M325.51 43.80h0 M326.17 43.73h0 M326.84 43.66h0 M327.50 43.59h0 M328.16 43.52h0 M328.83 43.45h0" stroke="#0000ff" stroke-width="1.75" stroke-linecap="round"/>
<path d="M79.47 208.28 L80.13 205.99 L80.79 203.68 L81.46 201.35 L82.12 199.00 L82.78 196.66 L83.45 194.34 L84.11 192.02 L84.77 189.73 L85.44 187.45 L86.10 185.20 L86.76 182.98 L87.43 180.79 L88.09 178.63 L88.75 176.50 L89.41 174.41 L90.08 172.35 L90.74 170.33 L91.40 168.35 L92.07 166.40 L92.73 164.48 L93.39 162.61 L94.06 160.76 L94.72 158.96 L95.38 157.18 L96.05 155.45 L96.71 153.74 L97.37 152.07 L98.04 150.44 L98.70 148.83 L99.36 147.26 L100.03 145.72 L100.69 144.20 L101.35 142.72 L102.02 141.27 L102.68 139.84 L103.34 138.45 L104.00 137.08 L104.67 135.73 L105.33 134.42 L105.99 133.13 L106.66 131.86 L107.32 130.62 L107.98 129.40 L108.65 128.20 L109.31 127.03 L109.97 125.88 L110.64 124.75 L111.30 123.64 L111.96 122.55 L112.63 121.49 L113.29 120.44 L113.95 119.41 L114.62 118.40 L115.28 117.41 L115.94 116.44 L116.61 115.48 L117.27 114.54 L117.93 113.62 L118.60 112.71 L119.26 111.82 L119.92 110.95 L120.58 110.09 L121.25 109.24 L121.91 108.41 L122.57 107.60 L123.24 106.79 L123.90 106.00 L124.56 105.23 L125.23 104.46 L125.89 103.71 L126.55 102.97 L127.22 102.24 L127.88 101.52 L128.54 100.81 L129.21 100.12 L129.87 99.43 L130.53 98.75 L131.20 98.09 L131.86 97.43 L132.52 96.78 L133.19 96.14 L133.85 95.51 L134.51 94.89 L135.17 94.27 L135.84 93.66 L136.50 93.07 L137.16 92.47 L137.83 91.89 L138.49 91.31 L139.15 90.74 L139.82 90.18 L140.48 89.63 L141.14 89.08 L141.81 88.53 L142.47 88.00 L143.13 87.47 L143.80 86.95 L144.46 86.43 L145.12 85.92 L145.79 85.41 L146.45 84.91 L147.11 84.42 L147.78 83.93 L148.44 83.45 L149.10 82.98 L149.77 82.51 L150.43 82.04 L151.09 81.59 L151.75 81.13 L152.42 80.69 L153.08 80.25 L153.74 79.81 L154.41 79.38 L155.07 78.95 L155.73 78.53 L156.40 78.12 L157.06 77.71 L157.72 77.31 L158.39 76.91 L159.05 76.52 L159.71 76.14 L160.38 75.76 L161.04 75.38 L161.70 75.01 L162.37 74.65 L163.03 74.29 L163.69 73.94 L164.36 73.59 L165.02 73.25 L165.68 72.92 L166.34 72.59 L167.01 72.26 L167.67 71.94 L168.33 71.63 L169.00 71.32 L169.66 71.01 L170.32 70.71 L170.99 70.41 L171.65 70.12 L172.31 69.83 L172.98 69.55 L173.64 69.27 L174.30 68.99 L174.97 68.72 L175.63 68.44 L176.29 68.17 L176.96 67.91 L177.62 67.64 L178.28 67.38 L178.95 67.12 L179.61 66.86 L180.27 66.60 L180.93 66.34 L181.60 66.09 L182.26 65.84 L182.92 65.59 L183.59 65.33 L184.25 65.09 L184.91 64.84 L185.58 64.59 L186.24 64.35 L186.90 64.10 L187.57 63.86 L188.23 63.62 L188.89 63.38 L189.56 63.14 L190.22 62.90 L190.88 62.67 L191.55 62.43 L192.21 62.20 L192.87 61.97 L193.54 61.74 L194.20 61.51 L194.86 61.29 L195.53 61.07 L196.19 60.84 L196.85 60.62 L197.51 60.41 L198.18 60.19 L198.84 59.98 L199.50 59.76 L200.17 59.56 L200.83 59.35 L201.49 59.14 L202.16 58.94 L202.82 58.74 L203.48 58.54 L204.15 58.34 L204.81 58.15 L205.47 57.95 L206.14 57.76 L206.80 57.57 L207.46 57.39 L208.13 57.20 L208.79 57.02 L209.45 56.84 L210.12 56.66 L210.78 56.48 L211.44 56.30 L212.10 56.13 L212.77 55.96 L213.43 55.79 L214.09 55.62 L214.76 55.45 L215.42 55.28 L216.08 55.12 L216.75 54.96 L217.41 54.80 L218.07 54.64 L218.74 54.48 L219.40 54.32 L220.06 54.16 L220.73 54.01 L221.39 53.85 L222.05 53.70 L222.72 53.55 L223.38 53.40 L224.04 53.25 L224.71 53.10 L225.37 52.95 L226.03 52.80 L226.70 52.66 L227.36 52.51 L228.02 52.37 L228.68 52.22 L229.35 52.08 L230.01 51.94 L230.67 51.80 L231.34 51.66 L232.00 51.52 L232.66 51.38 L233.33 51.24 L233.99 51.10 L234.65 50.96 L235.32 50.83 L235.98 50.69 L236.64 50.56 L237.31 50.42 L237.97 50.29 L238.63 50.16 L239.30 50.02 L239.96 49.89 L240.62 49.76 L241.29 49.63 L241.95 49.50 L242.61 49.38 L243.27 49.25 L243.94 49.12 L244.60 49.00 L245.26 48.87 L245.93 48.75 L246.59 48.63 L247.25 48.50 L247.92 48.38 L248.58 48.26 L249.24 48.14 L249.91 48.03 L250.57 47.91 L251.23 47.79 L251.90 47.68 L252.56 47.56 L253.22 47.45 L253.89 47.34 L254.55 47.23 L255.21 47.12 L255.88 47.01 L256.54 46.90 L257.20 46.80 L257.87 46.69 L258.53 46.58 L259.19 46.48 L259.85 46.38 L260.52 46.27 L261.18 46.17 L261.84 46.07 L262.51 45.97 L263.17 45.87 L263.83 45.78 L264.50 45.68 L265.16 45.58 L265.82 45.49 L266.49 45.39 L267.15 45.30 L267.81 45.20 L268.48 45.11 L269.14 45.02 L269.80 44.92 L270.47 44.83 L271.13 44.74 L271.79 44.65 L272.46 44.56 L273.12 44.47 L273.78 44.38 L274.44 44.30 L275.11 44.21 L275.77 44.12 L276.43 44.03 L277.10 43.95 L277.76 43.86 L278.42 43.78 L279.09 43.69 L279.75 43.61 L280.41 43.52 L281.08 43.44 L281.74 43.35 L282.40 43.27 L283.07 43.19 L283.73 43.10 L284.39 43.02 L285.06 42.94 L285.72 42.86 L286.38 42.78 L287.05 42.70 L287.71 42.62 L288.37 42.54 L289.03 42.46 L289.70 42.39 L290.36 42.31 L291.02 42.23 L291.69 42.16 L292.35 42.08 L293.01 42.01 L293.68 41.94 L294.34 41.87 L295.00 41.80 L295.67 41.73 L296.33 41.66 L296.99 41.59 L297.66 41.52 L298.32 41.46 L298.98 41.40 L299.65 41.34 L300.31 41.28 L300.97 41.22 L301.64 41.16 L302.30 41.10 L302.96 41.05 L303.63 40.99 L304.29 40.94 L304.95 40.89 L305.61 40.83 L306.28 40.78 L306.94 40.73 L307.60 40.67 L308.27 40.62 L308.93 40.56 L309.59 40.51 L310.26 40.45 L310.92 40.39 L311.58 40.33 L312.25 40.27 L312.91 40.21 L313.57 40.15 L314.24 40.09 L314.90 40.03 L315.56 39.97 L316.23 39.91 L316.89 39.85 L317.55 39.79 L318.22 39.73 L318.88 39.67 L319.54 39.60 L320.20 39.54 L320.87 39.48 L321.53 39.42 L322.19 39.36 L322.86 39.30 L323.52 39.24 L324.18 39.18 L324.85 39.12 L325.51 39.06 L326.17 39.00 L326.84 38.94 L327.50 38.88 L328.16 38.82 L328.83 38.76" stroke="#ff00ff" stroke-width="0.6" stroke-opacity="0.85"/>
<path d="M79.47 208.28h0 M80.13 205.99h0 M80.79 203.68h0 M81.46 201.35h0 M82.12 199.00h0 M82.78 196.66h0 M83.45 194.34h0 M84.11 192.02h0 M84.77 189.73h0 M85.44 187.45h0 M86.10 185.20h0 M86.76 182.98h0 M87.43 180.79h0 M88.09 178.63h0 M88.75 176.50h0 M89.41 174.41h0 M90.08 172.35h0 M90.74 170.33h0 M91.40 168.35h0 M92.07 166.40h0 M92.73 164.48h0 M93.39 162.61h0 M94.06 160.76h0 M94.72 158.96h0 M95.38 157.18h0 M96.05 155.45h0 M96.71 153.74h0 M97.37 152.07h0 M98.04 150.44h0 M98.70 148.83h0 M99.36 147.26h0 M100.03 145.72h0 M100.69 144.20h0 M101.35 142.72h0 M102.02 141.27h0 M102.68 139.84h0 M103.34 138.45h0 M104.00 137.08h0 M104.67 135.73h0 M105.33 134.42h0 M105.99 133.13h0 M106.66 131.86h0 M107.32 130.62h0 M107.98 129.40h0 M108.65 128.20h0 M109.31 127.03h0 M109.97 125.88h0 M110.64 124.75h0 M111.30 123.64h0 M111.96 122.55h0 M112.63 121.49h0 M113.29 120.44h0 M113.95 119.41h0 M114.62 118.40h0 M115.28 117.41h0 M115.94 116.44h0 M116.61 115.48h0 M117.27 114.54h0 M117.93 113.62h0 M118.60 112.71h0 M119.26 111.82h0 M119.92 110.95h0 M120.58 110.09h0 M121.25 109.24h0 M121.91 108.41h0 M122.57 107.60h0 M123.24 106.79h0 M123.90 106.00h0 M124.56 105.23h0 M125.23 104.46h0 M125.89 103.71h0 M126.55 102.97h0 M127.22 102.24h0 M127.88 101.52h0 M128.54 100.81h0 M129.21 100.12h0 M129.87 99.43h0 M130.53 98.75h0 M131.20 98.09h0 M131.86 97.43h0 M132.52 96.78h0 M133.19 96.14h0 M133.85 95.51h0 M134.51 94.89h0 M135.17 94.27h0 M135.84 93.66h0 M136.50 93.07h0 M137.16 92.47h0 M137.83 91.89h0 M138.49 91.31h0 M139.15 90.74h0 M139.82 90.18h0 M140.48 89.63h0 M141.14 89.08h0 M141.81 88.53h0 M142.47 88.00h0 M143.13 87.47h0 M143.80 86.95h0 M144.46 86.43h0 M145.12 85.92h0 M145.79 85.41h0 M146.45 84.91h0 M147.11 84.42h0 M147.78 83.93h0 M148.44 83.45h0 M149.10 82.98h0 M149.77 82.51h0 M150.43 82.04h0 M151.09 81.59h0 M151.75 81.13h0 M152.42 80.69h0 M153.08 80.25h0 M153.74 79.81h0 M154.41 79.38h0 M155.07 78.95h0 M155.73 78.53h0 M156.40 78.12h0 M157.06 77.71h0 M157.72 77.31h0 M158.39 76.91h0 M159.05 76.52h0 M159.71 76.14h0 M160.38 75.76h0 M161.04 75.38h0 M161.70 75.01h0 M162.37 74.65h0 M163.03 74.29h0 M163.69 73.94h0 M164.36 73.59h0 M165.02 73.25h0 M165.68 72.92h0 M166.34 72.59h0 M167.01 72.26h0 M167.67 71.94h0 M168.33 71.63h0 M169.00 71.32h0 M169.66 71.01h0 M170.32 70.71h0 M170.99 70.41h0 M171.65 70.12h0 M172.31 69.83h0 M172.98 69.55h0 M173.64 69.27h0 M174.30 68.99h0 M174.97 68.72h0 M175.63 68.44h0 M176.29 68.17h0 M176.96 67.91h0 M177.62 67.64h0 M178.28 67.38h0 M178.95 67.12h0 M179.61 66.86h0 M180.27 66.60h0 M180.93 66.34h0 M181.60 66.09h0 M182.26 65.84h0 M182.92 65.59h0 M183.59 65.33h0 M184.25 65.09h0 M184.91 64.84h0 M185.58 64.59h0 M186.24 64.35h0 M186.90 64.10h0 M187.57 63.86h0 M188.23 63.62h0 M188.89 63.38h0 M189.56 63.14h0 M190.22 62.90h0 M190.88 62.67h0 M191.55 62.43h0 M192.21 62.20h0 M192.87 61.97h0 M193.54 61.74h0 M194.20 61.51h0 M194.86 61.29h0 M195.53 61.07h0 M196.19 60.84h0 M196.85 60.62h0 M197.51 60.41h0 M198.18 60.19h0 M198.84 59.98h0 M199.50 59.76h0 M200.17 59.56h0 M200.83 59.35h0 M201.49 59.14h0 M202.16 58.94h0 M202.82 58.74h0 M203.48 58.54h0 M204.15 58.34h0 M204.81 58.15h0 M205.47 57.95h0 M206.14 57.76h0 M206.80 57.57h0 M207.46 57.39h0 M208.13 57.20h0 M208.79 57.02h0 M209.45 56.84h0 M210.12 56.66h0 M210.78 56.48h0 M211.44 56.30h0 M212.10 56.13h0 M212.77 55.96h0 M213.43 55.79h0 M214.09 55.62h0 M214.76 55.45h0 M215.42 55.28h0 M216.08 55.12h0 M216.75 54.96h0 M217.41 54.80h0 M218.07 54.64h0 M218.74 54.48h0 M219.40 54.32h0 M220.06 54.16h0 M220.73 54.01h0 M221.39 53.85h0 M222.05 53.70h0 M222.72 53.55h0 M223.38 53.40h0 M224.04 53.25h0 M224.71 53.10h0 M225.37 52.95h0 M226.03 52.80h0 M226.70 52.66h0 M227.36 52.51h0 M228.02 52.37h0 M228.68 52.22h0 M229.35 52.08h0 M230.01 51.94h0 M230.67 51.80h0 M231.34 51.66h0 M232.00 51.52h0 M232.66 51.38h0 M233.33 51.24h0 M233.99 51.10h0 M234.65 50.96h0 M235.32 50.83h0 M235.98 50.69h0 M236.64 50.56h0 M237.31 50.42h0 M237.97 50.29h0 M238.63 50.16h0 M239.30 50.02h0 M239.96 49.89h0 M240.62 49.76h0 M241.29 49.63h0 M241.95 49.50h0 M242.61 49.38h0 M243.27 49.25h0 M243.94 49.12h0 M244.60 49.00h0 M245.26 48.87h0 M245.93 48.75h0 M246.59 48.63h0 M247.25 48.50h0 M247.92 48.38h0 M248.58 48.26h0 M249.24 48.14h0 M249.91 48.03h0 M250.57 47.91h0 M251.23 47.79h0 M251.90 47.68h0 M252.56 47.56h0 M253.22 47.45h0 M253.89 47.34h0 M254.55 47.23h0 M255.21 47.12h0 M255.88 47.01h0 M256.54 46.90h0 M257.20 46.80h0 M257.87 46.69h0 M258.53 46.58h0 M259.19 46.48h0 M259.85 46.38h0 M260.52 46.27h0 M261.18 46.17h0 M261.84 46.07h0 M262.51 45.97h0 M263.17 45.87h0 M263.83 45.78h0 M264.50 45.68h0 M265.16 45.58h0 M265.82 45.49h0 M266.49 45.39h0 M267.15 45.30h0 M267.81 45.20h0 M268.48 45.11h0 M269.14 45.02h0 M269.80 44.92h0 M270.47 44.83h0 M271.13 44.74h0 M271.79 44.65h0 M272.46 44.56h0 M273.12 44.47h0 M273.78 44.38h0 M274.44 44.30h0 M275.11 44.21h0 M275.77 44.12h0 M276.43 44.03h0 M277.10 43.95h0 M277.76 43.86h0 M278.42 43.78h0 M279.09 43.69h0 M279.75 43.61h0 M280.41 43.52h0 M281.08 43.44h0 M281.74 43.35h0 M282.40 43.27h0 M283.07 43.19h0 M283.73 43.10h0 M284.39 43.02h0 M285.06 42.94h0 M285.72 42.86h0 M286.38 42.78h0 M287.05 42.70h0 M287.71 42.62h0 M288.37 42.54h0 M289.03 42.46h0 M289.70 42.39h0 M290.36 42.31h0 M291.02 42.23h0 M291.69 42.16h0 M292.35 42.08h0 M293.01 42.01h0 M293.68 41.94h0 M294.34 41.87h0 M295.00 41.80h0 M295.67 41.73h0 M296.33 41.66h0 M296.99 41.59h0 M297.66 41.52h0 M298.32 41.46h0 M298.98 41.40h0 M299.65 41.34h0 M300.31 41.28h0 M300.97 41.22h0 M301.64 41.16h0 M302.30 41.10h0 M302.96 41.05h0 M303.63 40.99h0 M304.29 40.94h0 M304.95 40.89h0 M305.61 40.83h0 M306.28 40.78h0 M306.94 40.73h0 M307.60 40.67h0 M308.27 40.62h0 M308.93 40.56h0 M309.59 40.51h0 M310.26 40.45h0 M310.92 40.39h0 M311.58 40.33h0 M312.25 40.27h0 M312.91 40.21h0 M313.57 40.15h0 M314.24 40.09h0 M314.90 40.03h0 M315.56 39.97h0 M316.23 39.91h0 M316.89 39.85h0 M317.55 39.79h0 M318.22 39.73h0 M318.88 39.67h0 M319.54 39.60h0 M320.20 39.54h0 M320.87 39.48h0 M321.53 39.42h0 M322.19 39.36h0 M322.86 39.30h0 M323.52 39.24h0 M324.18 39.18h0 M324.85 39.12h0 M325.51 39.06h0 M326.17 39.00h0 M326.84 38.94h0 M327.50 38.88h0 M328.16 38.82h0 M328.83 38.76h0" stroke="#ff00ff" stroke-width="1.75" stroke-linecap="round"/>
</g>
<text x="58.75" y="223.7" font-size="11.6" text-anchor="middle" class="s">0</text>
<text x="100.97" y="223.7" font-size="11.6" text-anchor="middle" class="s">10</text>
<text x="143.19" y="223.7" font-size="11.6" text-anchor="middle" class="s">20</text>
<text x="185.41" y="223.7" font-size="11.6" text-anchor="middle" class="s">30</text>
<text x="227.63" y="223.7" font-size="11.6" text-anchor="middle" class="s">40</text>
<text x="269.85" y="223.7" font-size="11.6" text-anchor="middle" class="s">50</text>
<text x="312.07" y="223.7" font-size="11.6" text-anchor="middle" class="s">60</text>
<text x="49.9" y="18.20" font-size="11.6" text-anchor="end" class="s">0</text>
<text x="49.9" y="56.90" font-size="11.6" text-anchor="end" class="s">-0.5</text>
<text x="49.9" y="95.60" font-size="11.6" text-anchor="end" class="s">-1</text>
<text x="49.9" y="134.30" font-size="11.6" text-anchor="end" class="s">-1.5</text>
<text x="49.9" y="173.00" font-size="11.6" text-anchor="end" class="s">-2</text>
<text x="49.9" y="211.70" font-size="11.6" text-anchor="end" class="s">-2.5</text>
<text x="191.0" y="240.6" font-size="11.4" class="r" fill="#4a4a4a" font-style="italic">ν</text>
<text x="196.4" y="242.3" font-size="8" class="r" fill="#4a4a4a">n</text>
<text transform="translate(16.2,137.4) rotate(-90)" font-size="11.8" class="r" fill="#4a4a4a"><tspan x="0">Im</tspan><tspan x="17.1">Σ</tspan><tspan x="26.2">(</tspan><tspan x="29.8">i</tspan><tspan x="33.6" font-style="italic">ν</tspan><tspan x="40.2" dy="1.8" font-size="8">n</tspan><tspan x="44.2" dy="-1.8">)</tspan></text>
<text x="272.2" y="146.30" font-size="11.4" text-anchor="end" class="r" fill="#4a4a4a">14</text>
<text x="249.40" y="146.30" font-size="11.4" class="r" fill="#4a4a4a" textLength="7.6" lengthAdjust="spacingAndGlyphs">=</text>
<text x="241.00" y="148.70" font-size="8.6" class="r" fill="#4a4a4a">0</text>
<text x="233.30" y="146.30" font-size="11.2" class="r" fill="#4a4a4a" font-style="italic">ω</text>
<path d="M285.2 139.0H315.3" stroke="#ff0000" stroke-width="0.8" stroke-opacity="0.75"/>
<circle cx="300.2" cy="139.0" r="0.95" fill="#ff0000"/>
<text x="272.2" y="160.80" font-size="11.4" text-anchor="end" class="r" fill="#4a4a4a">8</text>
<text x="255.10" y="160.80" font-size="11.4" class="r" fill="#4a4a4a" textLength="7.6" lengthAdjust="spacingAndGlyphs">=</text>
<text x="246.70" y="163.20" font-size="8.6" class="r" fill="#4a4a4a">0</text>
<text x="239.00" y="160.80" font-size="11.2" class="r" fill="#4a4a4a" font-style="italic">ω</text>
<path d="M285.2 153.5H315.3" stroke="#00ee00" stroke-width="0.8" stroke-opacity="0.75"/>
<circle cx="300.2" cy="153.5" r="0.95" fill="#00ee00"/>
<text x="272.2" y="175.30" font-size="11.4" text-anchor="end" class="r" fill="#4a4a4a">4</text>
<text x="255.10" y="175.30" font-size="11.4" class="r" fill="#4a4a4a" textLength="7.6" lengthAdjust="spacingAndGlyphs">=</text>
<text x="246.70" y="177.70" font-size="8.6" class="r" fill="#4a4a4a">0</text>
<text x="239.00" y="175.30" font-size="11.2" class="r" fill="#4a4a4a" font-style="italic">ω</text>
<path d="M285.2 168.0H315.3" stroke="#0000ff" stroke-width="0.8" stroke-opacity="0.75"/>
<circle cx="300.2" cy="168.0" r="0.95" fill="#0000ff"/>
<text x="272.2" y="189.80" font-size="11.4" text-anchor="end" class="r" fill="#4a4a4a">2</text>
<text x="255.10" y="189.80" font-size="11.4" class="r" fill="#4a4a4a" textLength="7.6" lengthAdjust="spacingAndGlyphs">=</text>
<text x="246.70" y="192.20" font-size="8.6" class="r" fill="#4a4a4a">0</text>
<text x="239.00" y="189.80" font-size="11.2" class="r" fill="#4a4a4a" font-style="italic">ω</text>
<path d="M285.2 182.5H315.3" stroke="#ff00ff" stroke-width="0.8" stroke-opacity="0.75"/>
<circle cx="300.2" cy="182.5" r="0.95" fill="#ff00ff"/>
<text x="226.8" y="200.90" font-size="11.4" class="r" fill="#4a4a4a" textLength="45.6" lengthAdjust="spacing">static tail</text>
<path d="M285.2 197.1H315.3" stroke="#808080" stroke-width="0.7" stroke-opacity="0.8"/>
<rect x="73.7" y="20.3" width="69.89999999999999" height="48.0" fill="#fff"/>
<defs><clipPath id="ci"><rect x="73.7" y="20.3" width="69.89999999999999" height="48.0"/></clipPath></defs>
<g clip-path="url(#ci)" fill="none">
<path d="M79.39 20.3V68.3" stroke="#aaa" stroke-width="0.6" stroke-dasharray="0.6 0.9"/>
<path d="M85.08 20.3V68.3" stroke="#aaa" stroke-width="0.6" stroke-dasharray="0.6 0.9"/>
<path d="M96.46 20.3V68.3" stroke="#aaa" stroke-width="0.6" stroke-dasharray="0.6 0.9"/>
<path d="M113.53 20.3V68.3" stroke="#aaa" stroke-width="0.6" stroke-dasharray="0.6 0.9"/>
<path d="M73.7 59.07H143.6" stroke="#555" stroke-width="0.8" stroke-dasharray="0.8 1.4"/>
<path d="M73.70 59.07 L73.77 59.07 L73.83 59.07 L73.90 59.07 L73.97 59.07 L74.03 59.07 L74.10 59.07 L74.17 59.07 L74.23 59.07 L74.30 59.07 L74.36 59.08 L74.43 59.08 L74.50 59.08 L74.56 59.08 L74.63 59.08 L74.70 59.08 L74.76 59.08 L74.83 59.08 L74.90 59.09 L74.96 59.09 L75.03 59.09 L75.10 59.09 L75.16 59.09 L75.23 59.10 L75.30 59.10 L75.36 59.10 L75.43 59.10 L75.50 59.10 L75.56 59.11 L75.63 59.11 L75.69 59.11 L75.76 59.12 L75.83 59.12 L75.89 59.12 L75.96 59.12 L76.03 59.13 L76.09 59.13 L76.16 59.13 L76.23 59.14 L76.29 59.14 L76.36 59.15 L76.43 59.15 L76.49 59.15 L76.56 59.16 L76.63 59.16 L76.69 59.16 L76.76 59.17 L76.83 59.17 L76.89 59.18 L76.96 59.18 L77.02 59.19 L77.09 59.19 L77.16 59.20 L77.22 59.20 L77.29 59.21 L77.36 59.21 L77.42 59.22 L77.49 59.22 L77.56 59.23 L77.62 59.23 L77.69 59.24 L77.76 59.24 L77.82 59.25 L77.89 59.26 L77.96 59.26 L78.02 59.27 L78.09 59.27 L78.15 59.28 L78.22 59.29 L78.29 59.29 L78.35 59.30 L78.42 59.31 L78.49 59.31 L78.55 59.32 L78.62 59.33 L78.69 59.33 L78.75 59.34 L78.82 59.35 L78.89 59.36 L78.95 59.36 L79.02 59.37 L79.09 59.38 L79.15 59.39 L79.22 59.40 L79.29 59.40 L79.35 59.41 L79.42 59.42 L79.48 59.43 L79.55 59.44 L79.62 59.44 L79.68 59.45 L79.75 59.46 L79.82 59.47 L79.88 59.48 L79.95 59.49 L80.02 59.50 L80.08 59.51 L80.15 59.52 L80.22 59.53 L80.28 59.54 L80.35 59.55 L80.42 59.56 L80.48 59.57 L80.55 59.58 L80.61 59.59 L80.68 59.60 L80.75 59.61 L80.81 59.62 L80.88 59.63 L80.95 59.64 L81.01 59.65 L81.08 59.66 L81.15 59.67 L81.21 59.68 L81.28 59.69 L81.35 59.70 L81.41 59.72 L81.48 59.73 L81.55 59.74 L81.61 59.75 L81.68 59.76 L81.75 59.78 L81.81 59.79 L81.88 59.80 L81.94 59.81 L82.01 59.83 L82.08 59.84 L82.14 59.85 L82.21 59.86 L82.28 59.88 L82.34 59.89 L82.41 59.90 L82.48 59.92 L82.54 59.93 L82.61 59.94 L82.68 59.96 L82.74 59.97 L82.81 59.99 L82.88 60.00 L82.94 60.01 L83.01 60.03 L83.08 60.04 L83.14 60.06 L83.21 60.07 L83.27 60.09 L83.34 60.10 L83.41 60.12 L83.47 60.13 L83.54 60.15 L83.61 60.16 L83.67 60.18 L83.74 60.20 L83.81 60.21 L83.87 60.23 L83.94 60.24 L84.01 60.26 L84.07 60.28 L84.14 60.29 L84.21 60.31 L84.27 60.33 L84.34 60.34 L84.40 60.36 L84.47 60.38 L84.54 60.40 L84.60 60.41 L84.67 60.43 L84.74 60.45 L84.80 60.47 L84.87 60.49 L84.94 60.50 L85.00 60.52 L85.07 60.54 L85.14 60.56 L85.20 60.58 L85.27 60.60 L85.34 60.62 L85.40 60.64 L85.47 60.66 L85.54 60.68 L85.60 60.70 L85.67 60.72 L85.73 60.74 L85.80 60.76 L85.87 60.78 L85.93 60.80 L86.00 60.82 L86.07 60.84 L86.13 60.86 L86.20 60.88 L86.27 60.90 L86.33 60.92 L86.40 60.95 L86.47 60.97 L86.53 60.99 L86.60 61.01 L86.67 61.03 L86.73 61.06 L86.80 61.08 L86.86 61.10 L86.93 61.13 L87.00 61.15 L87.06 61.17 L87.13 61.20 L87.20 61.22 L87.26 61.24 L87.33 61.27 L87.40 61.29 L87.46 61.32 L87.53 61.34 L87.60 61.37 L87.66 61.39 L87.73 61.42 L87.80 61.44 L87.86 61.47 L87.93 61.49 L88.00 61.52 L88.06 61.55 L88.13 61.57 L88.19 61.60 L88.26 61.63 L88.33 61.65 L88.39 61.68 L88.46 61.71 L88.53 61.74 L88.59 61.76 L88.66 61.79 L88.73 61.82 L88.79 61.85 L88.86 61.88 L88.93 61.91 L88.99 61.94 L89.06 61.97 L89.13 61.99 L89.19 62.02 L89.26 62.05 L89.33 62.08 L89.39 62.12 L89.46 62.15 L89.52 62.18 L89.59 62.21 L89.66 62.24 L89.72 62.27 L89.79 62.30 L89.86 62.33 L89.92 62.37 L89.99 62.40 L90.06 62.43 L90.12 62.46 L90.19 62.50 L90.26 62.53 L90.32 62.57 L90.39 62.60 L90.46 62.63 L90.52 62.67 L90.59 62.70 L90.65 62.74 L90.72 62.77 L90.79 62.81 L90.85 62.84 L90.92 62.88 L90.99 62.92 L91.05 62.95 L91.12 62.99 L91.19 63.03 L91.25 63.06 L91.32 63.10 L91.39 63.14 L91.45 63.18 L91.52 63.22 L91.59 63.26 L91.65 63.30 L91.72 63.33 L91.79 63.37 L91.85 63.41 L91.92 63.45 L91.98 63.50 L92.05 63.54 L92.12 63.58 L92.18 63.62 L92.25 63.66 L92.32 63.70 L92.38 63.75 L92.45 63.79 L92.52 63.83 L92.58 63.87 L92.65 63.92 L92.72 63.96 L92.78 64.01 L92.85 64.05 L92.92 64.10 L92.98 64.14 L93.05 64.19 L93.11 64.23 L93.18 64.28 L93.25 64.33 L93.31 64.38 L93.38 64.42 L93.45 64.47 L93.51 64.52 L93.58 64.57 L93.65 64.62 L93.71 64.67 L93.78 64.72 L93.85 64.77 L93.91 64.82 L93.98 64.87 L94.05 64.92 L94.11 64.97 L94.18 65.03 L94.25 65.08 L94.31 65.13 L94.38 65.18 L94.44 65.24 L94.51 65.29 L94.58 65.35 L94.64 65.40 L94.71 65.46 L94.78 65.52 L94.84 65.57 L94.91 65.63 L94.98 65.69 L95.04 65.75 L95.11 65.80 L95.18 65.86 L95.24 65.92 L95.31 65.98 L95.38 66.04 L95.44 66.10 L95.51 66.17 L95.58 66.23 L95.64 66.29 L95.71 66.35 L95.77 66.42 L95.84 66.48 L95.91 66.55 L95.97 66.61 L96.04 66.68 L96.11 66.74 L96.17 66.81 L96.24 66.88 L96.31 66.95 L96.37 67.01 L96.44 67.08 L96.51 67.15 L96.57 67.22 L96.64 67.29 L96.71 67.37 L96.77 67.44 L96.84 67.51 L96.90 67.58 L96.97 67.66 L97.04 67.73 L97.10 67.81 L97.17 67.89 L97.24 67.96 L97.30 68.04 L97.37 68.12 L97.44 68.20 L97.50 68.28 L97.57 68.36 L97.64 68.44 L97.70 68.52 L97.77 68.60 L97.84 68.69 L97.90 68.77 L97.97 68.85 L98.04 68.94 L98.10 69.03 L98.17 69.11 L98.23 69.20 L98.30 69.29 L98.37 69.38 L98.43 69.47 L98.50 69.56 L98.57 69.66 L98.63 69.75 L98.70 69.84 L98.77 69.94 L98.83 70.03 L98.90 70.13 L98.97 70.23 L99.03 70.33 L99.10 70.43 L99.17 70.53 L99.23 70.63 L99.30 70.73 L99.36 70.84 L99.43 70.94 L99.50 71.05 L99.56 71.15 L99.63 71.26 L99.70 71.37 L99.76 71.48 L99.83 71.59 L99.90 71.70 L99.96 71.82 L100.03 71.93 L100.10 72.05 L100.16 72.17 L100.23 72.28 L100.30 72.40 L100.36 72.52 L100.43 72.65 L100.50 72.77 L100.56 72.89 L100.63 73.02 L100.69 73.15 L100.76 73.28 L100.83 73.41 L100.89 73.54 L100.96 73.67 L101.03 73.81 L101.09 73.94 L101.16 74.08 L101.23 74.22 L101.29 74.36 L101.36 74.50 L101.43 74.65 L101.49 74.79 L101.56 74.94 L101.63 75.09 L101.69 75.24 L101.76 75.39 L101.83 75.55 L101.89 75.71 L101.96 75.86 L102.02 76.02 L102.09 76.19 L102.16 76.35 L102.22 76.52 L102.29 76.68 L102.36 76.85 L102.42 77.03 L102.49 77.20 L102.56 77.38 L102.62 77.56 L102.69 77.74 L102.76 77.92 L102.82 78.10 L102.89 78.29 L102.96 78.48 L103.02 78.68 L103.09 78.87" stroke="#ff4040" stroke-width="0.8"/>
<path d="M122.52 9.51 L122.57 9.72 L122.62 9.93 L122.67 10.13 L122.73 10.33 L122.78 10.54 L122.83 10.73 L122.88 10.93 L122.94 11.12 L122.99 11.31 L123.04 11.50 L123.09 11.69 L123.15 11.88 L123.20 12.06 L123.25 12.24 L123.30 12.42 L123.35 12.60 L123.41 12.77 L123.46 12.95 L123.51 13.12 L123.56 13.29 L123.62 13.46 L123.67 13.62 L123.72 13.79 L123.77 13.95 L123.82 14.11 L123.88 14.27 L123.93 14.43 L123.98 14.59 L124.03 14.74 L124.09 14.90 L124.14 15.05 L124.19 15.20 L124.24 15.35 L124.29 15.49 L124.35 15.64 L124.40 15.78 L124.45 15.93 L124.50 16.07 L124.56 16.21 L124.61 16.35 L124.66 16.49 L124.71 16.62 L124.76 16.76 L124.82 16.89 L124.87 17.02 L124.92 17.16 L124.97 17.29 L125.03 17.42 L125.08 17.54 L125.13 17.67 L125.18 17.80 L125.23 17.92 L125.29 18.04 L125.34 18.16 L125.39 18.29 L125.44 18.41 L125.50 18.52 L125.55 18.64 L125.60 18.76 L125.65 18.88 L125.70 18.99 L125.76 19.10 L125.81 19.22 L125.86 19.33 L125.91 19.44 L125.97 19.55 L126.02 19.66 L126.07 19.77 L126.12 19.87 L126.18 19.98 L126.23 20.08 L126.28 20.19 L126.33 20.29 L126.38 20.40 L126.44 20.50 L126.49 20.60 L126.54 20.70 L126.59 20.80 L126.65 20.90 L126.70 20.99 L126.75 21.09 L126.80 21.19 L126.85 21.28 L126.91 21.38 L126.96 21.47 L127.01 21.57 L127.06 21.66 L127.12 21.75 L127.17 21.84 L127.22 21.93 L127.27 22.02 L127.32 22.11 L127.38 22.20 L127.43 22.29 L127.48 22.37 L127.53 22.46 L127.59 22.54 L127.64 22.63 L127.69 22.71 L127.74 22.80 L127.79 22.88 L127.85 22.96 L127.90 23.04 L127.95 23.13 L128.00 23.21 L128.06 23.29 L128.11 23.37 L128.16 23.45 L128.21 23.52 L128.26 23.60 L128.32 23.68 L128.37 23.75 L128.42 23.83 L128.47 23.91 L128.53 23.98 L128.58 24.06 L128.63 24.13 L128.68 24.20 L128.73 24.28 L128.79 24.35 L128.84 24.42 L128.89 24.49 L128.94 24.56 L129.00 24.63 L129.05 24.70 L129.10 24.77 L129.15 24.84 L129.21 24.91 L129.26 24.98 L129.31 25.05 L129.36 25.11 L129.41 25.18 L129.47 25.25 L129.52 25.31 L129.57 25.38 L129.62 25.44 L129.68 25.51 L129.73 25.57 L129.78 25.63 L129.83 25.70 L129.88 25.76 L129.94 25.82 L129.99 25.88 L130.04 25.95 L130.09 26.01 L130.15 26.07 L130.20 26.13 L130.25 26.19 L130.30 26.25 L130.35 26.31 L130.41 26.37 L130.46 26.42 L130.51 26.48 L130.56 26.54 L130.62 26.60 L130.67 26.65 L130.72 26.71 L130.77 26.77 L130.82 26.82 L130.88 26.88 L130.93 26.93 L130.98 26.99 L131.03 27.04 L131.09 27.10 L131.14 27.15 L131.19 27.21 L131.24 27.26 L131.29 27.31 L131.35 27.36 L131.40 27.42 L131.45 27.47 L131.50 27.52 L131.56 27.57 L131.61 27.62 L131.66 27.67 L131.71 27.72 L131.76 27.77 L131.82 27.82 L131.87 27.87 L131.92 27.92 L131.97 27.97 L132.03 28.02 L132.08 28.07 L132.13 28.12 L132.18 28.17 L132.24 28.21 L132.29 28.26 L132.34 28.31 L132.39 28.35 L132.44 28.40 L132.50 28.45 L132.55 28.49 L132.60 28.54 L132.65 28.59 L132.71 28.63 L132.76 28.68 L132.81 28.72 L132.86 28.76 L132.91 28.81 L132.97 28.85 L133.02 28.90 L133.07 28.94 L133.12 28.98 L133.18 29.03 L133.23 29.07 L133.28 29.11 L133.33 29.15 L133.38 29.20 L133.44 29.24 L133.49 29.28 L133.54 29.32 L133.59 29.36 L133.65 29.40 L133.70 29.44 L133.75 29.48 L133.80 29.52 L133.85 29.57 L133.91 29.60 L133.96 29.64 L134.01 29.68 L134.06 29.72 L134.12 29.76 L134.17 29.80 L134.22 29.84 L134.27 29.88 L134.32 29.92 L134.38 29.95 L134.43 29.99 L134.48 30.03 L134.53 30.07 L134.59 30.11 L134.64 30.14 L134.69 30.18 L134.74 30.22 L134.79 30.25 L134.85 30.29 L134.90 30.32 L134.95 30.36 L135.00 30.40 L135.06 30.43 L135.11 30.47 L135.16 30.50 L135.21 30.54 L135.26 30.57 L135.32 30.61 L135.37 30.64 L135.42 30.68 L135.47 30.71 L135.53 30.74 L135.58 30.78 L135.63 30.81 L135.68 30.85 L135.74 30.88 L135.79 30.91 L135.84 30.95 L135.89 30.98 L135.94 31.01 L136.00 31.04 L136.05 31.08 L136.10 31.11 L136.15 31.14 L136.21 31.17 L136.26 31.20 L136.31 31.24 L136.36 31.27 L136.41 31.30 L136.47 31.33 L136.52 31.36 L136.57 31.39 L136.62 31.42 L136.68 31.45 L136.73 31.48 L136.78 31.51 L136.83 31.54 L136.88 31.57 L136.94 31.60 L136.99 31.63 L137.04 31.66 L137.09 31.69 L137.15 31.72 L137.20 31.75 L137.25 31.78 L137.30 31.81 L137.35 31.84 L137.41 31.87 L137.46 31.90 L137.51 31.92 L137.56 31.95 L137.62 31.98 L137.67 32.01 L137.72 32.04 L137.77 32.06 L137.82 32.09 L137.88 32.12 L137.93 32.15 L137.98 32.17 L138.03 32.20 L138.09 32.23 L138.14 32.26 L138.19 32.28 L138.24 32.31 L138.29 32.34 L138.35 32.36 L138.40 32.39 L138.45 32.41 L138.50 32.44 L138.56 32.47 L138.61 32.49 L138.66 32.52 L138.71 32.54 L138.77 32.57 L138.82 32.60 L138.87 32.62 L138.92 32.65 L138.97 32.67 L139.03 32.70 L139.08 32.72 L139.13 32.75 L139.18 32.77 L139.24 32.80 L139.29 32.82 L139.34 32.84 L139.39 32.87 L139.44 32.89 L139.50 32.92 L139.55 32.94 L139.60 32.96 L139.65 32.99 L139.71 33.01 L139.76 33.04 L139.81 33.06 L139.86 33.08 L139.91 33.11 L139.97 33.13 L140.02 33.15 L140.07 33.17 L140.12 33.20 L140.18 33.22 L140.23 33.24 L140.28 33.27 L140.33 33.29 L140.38 33.31 L140.44 33.33 L140.49 33.36 L140.54 33.38 L140.59 33.40 L140.65 33.42 L140.70 33.44 L140.75 33.47 L140.80 33.49 L140.85 33.51 L140.91 33.53 L140.96 33.55 L141.01 33.57 L141.06 33.59 L141.12 33.62 L141.17 33.64 L141.22 33.66 L141.27 33.68 L141.32 33.70 L141.38 33.72 L141.43 33.74 L141.48 33.76 L141.53 33.78 L141.59 33.80 L141.64 33.82 L141.69 33.84 L141.74 33.86 L141.80 33.88 L141.85 33.90 L141.90 33.92 L141.95 33.94 L142.00 33.96 L142.06 33.98 L142.11 34.00 L142.16 34.02 L142.21 34.04 L142.27 34.06 L142.32 34.08 L142.37 34.10 L142.42 34.12 L142.47 34.14 L142.53 34.16 L142.58 34.18 L142.63 34.20 L142.68 34.21 L142.74 34.23 L142.79 34.25 L142.84 34.27 L142.89 34.29 L142.94 34.31 L143.00 34.33 L143.05 34.34 L143.10 34.36 L143.15 34.38 L143.21 34.40 L143.26 34.42 L143.31 34.44 L143.36 34.45 L143.41 34.47 L143.47 34.49 L143.52 34.51 L143.57 34.52 L143.62 34.54 L143.68 34.56 L143.73 34.58 L143.78 34.59 L143.83 34.61 L143.88 34.63 L143.94 34.65 L143.99 34.66 L144.04 34.68 L144.09 34.70 L144.15 34.71 L144.20 34.73 L144.25 34.75 L144.30 34.77 L144.35 34.78 L144.41 34.80 L144.46 34.82 L144.51 34.83 L144.56 34.85 L144.62 34.87 L144.67 34.88 L144.72 34.90 L144.77 34.91 L144.82 34.93" stroke="#ff4040" stroke-width="0.8"/>
<path d="M73.70 59.07 L73.74 59.07 L73.78 59.07 L73.81 59.07 L73.85 59.07 L73.89 59.07 L73.93 59.07 L73.97 59.07 L74.00 59.07 L74.04 59.07 L74.08 59.08 L74.12 59.08 L74.16 59.08 L74.19 59.08 L74.23 59.08 L74.27 59.08 L74.31 59.08 L74.35 59.08 L74.38 59.09 L74.42 59.09 L74.46 59.09 L74.50 59.09 L74.54 59.09 L74.57 59.10 L74.61 59.10 L74.65 59.10 L74.69 59.10 L74.73 59.10 L74.76 59.11 L74.80 59.11 L74.84 59.11 L74.88 59.12 L74.92 59.12 L74.95 59.12 L74.99 59.12 L75.03 59.13 L75.07 59.13 L75.11 59.13 L75.14 59.14 L75.18 59.14 L75.22 59.15 L75.26 59.15 L75.30 59.15 L75.33 59.16 L75.37 59.16 L75.41 59.16 L75.45 59.17 L75.49 59.17 L75.52 59.18 L75.56 59.18 L75.60 59.19 L75.64 59.19 L75.68 59.20 L75.71 59.20 L75.75 59.21 L75.79 59.21 L75.83 59.22 L75.87 59.22 L75.90 59.23 L75.94 59.23 L75.98 59.24 L76.02 59.24 L76.06 59.25 L76.09 59.26 L76.13 59.26 L76.17 59.27 L76.21 59.27 L76.25 59.28 L76.28 59.29 L76.32 59.29 L76.36 59.30 L76.40 59.31 L76.44 59.31 L76.47 59.32 L76.51 59.33 L76.55 59.33 L76.59 59.34 L76.63 59.35 L76.66 59.36 L76.70 59.36 L76.74 59.37 L76.78 59.38 L76.82 59.39 L76.85 59.40 L76.89 59.40 L76.93 59.41 L76.97 59.42 L77.01 59.43 L77.04 59.44 L77.08 59.44 L77.12 59.45 L77.16 59.46 L77.20 59.47 L77.23 59.48 L77.27 59.49 L77.31 59.50 L77.35 59.51 L77.39 59.52 L77.42 59.53 L77.46 59.54 L77.50 59.55 L77.54 59.56 L77.58 59.57 L77.61 59.58 L77.65 59.59 L77.69 59.60 L77.73 59.61 L77.77 59.62 L77.80 59.63 L77.84 59.64 L77.88 59.65 L77.92 59.66 L77.96 59.67 L77.99 59.68 L78.03 59.69 L78.07 59.70 L78.11 59.72 L78.15 59.73 L78.18 59.74 L78.22 59.75 L78.26 59.76 L78.30 59.78 L78.34 59.79 L78.37 59.80 L78.41 59.81 L78.45 59.83 L78.49 59.84 L78.52 59.85 L78.56 59.86 L78.60 59.88 L78.64 59.89 L78.68 59.90 L78.71 59.92 L78.75 59.93 L78.79 59.94 L78.83 59.96 L78.87 59.97 L78.90 59.99 L78.94 60.00 L78.98 60.01 L79.02 60.03 L79.06 60.04 L79.09 60.06 L79.13 60.07 L79.17 60.09 L79.21 60.10 L79.25 60.12 L79.28 60.13 L79.32 60.15 L79.36 60.16 L79.40 60.18 L79.44 60.19 L79.47 60.21 L79.51 60.23 L79.55 60.24 L79.59 60.26 L79.63 60.28 L79.66 60.29 L79.70 60.31 L79.74 60.33 L79.78 60.34 L79.82 60.36 L79.85 60.38 L79.89 60.40 L79.93 60.41 L79.97 60.43 L80.01 60.45 L80.04 60.47 L80.08 60.49 L80.12 60.50 L80.16 60.52 L80.20 60.54 L80.23 60.56 L80.27 60.58 L80.31 60.60 L80.35 60.62 L80.39 60.64 L80.42 60.66 L80.46 60.68 L80.50 60.70 L80.54 60.72 L80.58 60.74 L80.61 60.76 L80.65 60.78 L80.69 60.80 L80.73 60.82 L80.77 60.84 L80.80 60.86 L80.84 60.88 L80.88 60.90 L80.92 60.92 L80.96 60.95 L80.99 60.97 L81.03 60.99 L81.07 61.01 L81.11 61.03 L81.15 61.06 L81.18 61.08 L81.22 61.10 L81.26 61.13 L81.30 61.15 L81.34 61.17 L81.37 61.20 L81.41 61.22 L81.45 61.24 L81.49 61.27 L81.53 61.29 L81.56 61.32 L81.60 61.34 L81.64 61.37 L81.68 61.39 L81.72 61.42 L81.75 61.44 L81.79 61.47 L81.83 61.49 L81.87 61.52 L81.91 61.55 L81.94 61.57 L81.98 61.60 L82.02 61.63 L82.06 61.65 L82.10 61.68 L82.13 61.71 L82.17 61.74 L82.21 61.76 L82.25 61.79 L82.29 61.82 L82.32 61.85 L82.36 61.88 L82.40 61.91 L82.44 61.94 L82.48 61.96 L82.51 61.99 L82.55 62.02 L82.59 62.05 L82.63 62.08 L82.67 62.11 L82.70 62.15 L82.74 62.18 L82.78 62.21 L82.82 62.24 L82.86 62.27 L82.89 62.30 L82.93 62.33 L82.97 62.37 L83.01 62.40 L83.05 62.43 L83.08 62.46 L83.12 62.50 L83.16 62.53 L83.20 62.56 L83.24 62.60 L83.27 62.63 L83.31 62.67 L83.35 62.70 L83.39 62.74 L83.43 62.77 L83.46 62.81 L83.50 62.84 L83.54 62.88 L83.58 62.92 L83.62 62.95 L83.65 62.99 L83.69 63.03 L83.73 63.06 L83.77 63.10 L83.81 63.14 L83.84 63.18 L83.88 63.22 L83.92 63.26 L83.96 63.29 L84.00 63.33 L84.03 63.37 L84.07 63.41 L84.11 63.45 L84.15 63.49 L84.19 63.54 L84.22 63.58 L84.26 63.62 L84.30 63.66 L84.34 63.70 L84.38 63.74 L84.41 63.79 L84.45 63.83 L84.49 63.87 L84.53 63.92 L84.57 63.96 L84.60 64.01 L84.64 64.05 L84.68 64.10 L84.72 64.14 L84.76 64.19 L84.79 64.23 L84.83 64.28 L84.87 64.33 L84.91 64.37 L84.95 64.42 L84.98 64.47 L85.02 64.52 L85.06 64.57 L85.10 64.62 L85.14 64.67 L85.17 64.72 L85.21 64.77 L85.25 64.82 L85.29 64.87 L85.33 64.92 L85.36 64.97 L85.40 65.02 L85.44 65.08 L85.48 65.13 L85.52 65.18 L85.55 65.24 L85.59 65.29 L85.63 65.35 L85.67 65.40 L85.71 65.46 L85.74 65.51 L85.78 65.57 L85.82 65.63 L85.86 65.69 L85.90 65.74 L85.93 65.80 L85.97 65.86 L86.01 65.92 L86.05 65.98 L86.09 66.04 L86.12 66.10 L86.16 66.16 L86.20 66.23 L86.24 66.29 L86.28 66.35 L86.31 66.42 L86.35 66.48 L86.39 66.54 L86.43 66.61 L86.47 66.68 L86.50 66.74 L86.54 66.81 L86.58 66.88 L86.62 66.94 L86.66 67.01 L86.69 67.08 L86.73 67.15 L86.77 67.22 L86.81 67.29 L86.85 67.36 L86.88 67.44 L86.92 67.51 L86.96 67.58 L87.00 67.66 L87.04 67.73 L87.07 67.81 L87.11 67.88 L87.15 67.96 L87.19 68.04 L87.23 68.12 L87.26 68.20 L87.30 68.28 L87.34 68.36 L87.38 68.44 L87.42 68.52 L87.45 68.60 L87.49 68.68 L87.53 68.77 L87.57 68.85 L87.61 68.94 L87.64 69.03 L87.68 69.11 L87.72 69.20 L87.76 69.29 L87.79 69.38 L87.83 69.47 L87.87 69.56 L87.91 69.65 L87.95 69.75 L87.98 69.84 L88.02 69.94 L88.06 70.03 L88.10 70.13 L88.14 70.23 L88.17 70.32 L88.21 70.42 L88.25 70.53 L88.29 70.63 L88.33 70.73 L88.36 70.83 L88.40 70.94 L88.44 71.04 L88.48 71.15 L88.52 71.26 L88.55 71.37 L88.59 71.48 L88.63 71.59 L88.67 71.70 L88.71 71.81 L88.74 71.93 L88.78 72.05 L88.82 72.16 L88.86 72.28 L88.90 72.40 L88.93 72.52 L88.97 72.64 L89.01 72.77 L89.05 72.89 L89.09 73.02 L89.12 73.15 L89.16 73.27 L89.20 73.41 L89.24 73.54 L89.28 73.67 L89.31 73.80 L89.35 73.94 L89.39 74.08 L89.43 74.22 L89.47 74.36 L89.50 74.50 L89.54 74.65 L89.58 74.79 L89.62 74.94 L89.66 75.09 L89.69 75.24 L89.73 75.39 L89.77 75.55 L89.81 75.70 L89.85 75.86 L89.88 76.02 L89.92 76.18 L89.96 76.35 L90.00 76.51 L90.04 76.68 L90.07 76.85 L90.11 77.02 L90.15 77.20 L90.19 77.37 L90.23 77.55 L90.26 77.73 L90.30 77.92 L90.34 78.10 L90.38 78.29 L90.42 78.48 L90.45 78.67 L90.49 78.87" stroke="#30e030" stroke-width="0.8"/>
<path d="M101.63 9.75 L101.71 10.30 L101.79 10.84 L101.87 11.36 L101.95 11.87 L102.03 12.36 L102.11 12.84 L102.20 13.30 L102.28 13.75 L102.36 14.19 L102.44 14.62 L102.52 15.03 L102.60 15.43 L102.68 15.83 L102.76 16.21 L102.84 16.58 L102.92 16.95 L103.00 17.30 L103.08 17.65 L103.16 17.98 L103.24 18.31 L103.33 18.63 L103.41 18.95 L103.49 19.25 L103.57 19.55 L103.65 19.85 L103.73 20.13 L103.81 20.41 L103.89 20.69 L103.97 20.95 L104.05 21.21 L104.13 21.47 L104.21 21.72 L104.29 21.97 L104.38 22.21 L104.46 22.44 L104.54 22.67 L104.62 22.90 L104.70 23.12 L104.78 23.34 L104.86 23.55 L104.94 23.76 L105.02 23.96 L105.10 24.16 L105.18 24.36 L105.26 24.55 L105.34 24.74 L105.42 24.93 L105.51 25.11 L105.59 25.29 L105.67 25.47 L105.75 25.64 L105.83 25.81 L105.91 25.98 L105.99 26.14 L106.07 26.30 L106.15 26.46 L106.23 26.61 L106.31 26.77 L106.39 26.92 L106.47 27.07 L106.56 27.21 L106.64 27.36 L106.72 27.50 L106.80 27.64 L106.88 27.77 L106.96 27.91 L107.04 28.04 L107.12 28.17 L107.20 28.30 L107.28 28.42 L107.36 28.55 L107.44 28.67 L107.52 28.79 L107.60 28.91 L107.69 29.03 L107.77 29.14 L107.85 29.25 L107.93 29.37 L108.01 29.48 L108.09 29.59 L108.17 29.69 L108.25 29.80 L108.33 29.90 L108.41 30.00 L108.49 30.11 L108.57 30.21 L108.65 30.30 L108.74 30.40 L108.82 30.50 L108.90 30.59 L108.98 30.69 L109.06 30.78 L109.14 30.87 L109.22 30.96 L109.30 31.05 L109.38 31.13 L109.46 31.22 L109.54 31.30 L109.62 31.39 L109.70 31.47 L109.78 31.55 L109.87 31.63 L109.95 31.71 L110.03 31.79 L110.11 31.87 L110.19 31.95 L110.27 32.02 L110.35 32.10 L110.43 32.17 L110.51 32.25 L110.59 32.32 L110.67 32.39 L110.75 32.46 L110.83 32.53 L110.91 32.60 L111.00 32.67 L111.08 32.74 L111.16 32.80 L111.24 32.87 L111.32 32.93 L111.40 33.00 L111.48 33.06 L111.56 33.12 L111.64 33.19 L111.72 33.25 L111.80 33.31 L111.88 33.37 L111.96 33.43 L112.05 33.49 L112.13 33.55 L112.21 33.60 L112.29 33.66 L112.37 33.72 L112.45 33.77 L112.53 33.83 L112.61 33.88 L112.69 33.94 L112.77 33.99 L112.85 34.04 L112.93 34.10 L113.01 34.15 L113.09 34.20 L113.18 34.25 L113.26 34.30 L113.34 34.35 L113.42 34.40 L113.50 34.45 L113.58 34.50 L113.66 34.54 L113.74 34.59 L113.82 34.64 L113.90 34.68 L113.98 34.73 L114.06 34.78 L114.14 34.82 L114.23 34.87 L114.31 34.91 L114.39 34.95 L114.47 35.00 L114.55 35.04 L114.63 35.08 L114.71 35.13 L114.79 35.17 L114.87 35.21 L114.95 35.25 L115.03 35.29 L115.11 35.33 L115.19 35.37 L115.27 35.41 L115.36 35.45 L115.44 35.49 L115.52 35.53 L115.60 35.56 L115.68 35.60 L115.76 35.64 L115.84 35.68 L115.92 35.71 L116.00 35.75 L116.08 35.79 L116.16 35.82 L116.24 35.86 L116.32 35.89 L116.41 35.93 L116.49 35.96 L116.57 36.00 L116.65 36.03 L116.73 36.06 L116.81 36.10 L116.89 36.13 L116.97 36.16 L117.05 36.20 L117.13 36.23 L117.21 36.26 L117.29 36.29 L117.37 36.32 L117.45 36.35 L117.54 36.39 L117.62 36.42 L117.70 36.45 L117.78 36.48 L117.86 36.51 L117.94 36.54 L118.02 36.57 L118.10 36.59 L118.18 36.62 L118.26 36.65 L118.34 36.68 L118.42 36.71 L118.50 36.74 L118.59 36.77 L118.67 36.79 L118.75 36.82 L118.83 36.85 L118.91 36.88 L118.99 36.90 L119.07 36.93 L119.15 36.95 L119.23 36.98 L119.31 37.01 L119.39 37.03 L119.47 37.06 L119.55 37.08 L119.63 37.11 L119.72 37.13 L119.80 37.16 L119.88 37.18 L119.96 37.21 L120.04 37.23 L120.12 37.26 L120.20 37.28 L120.28 37.30 L120.36 37.33 L120.44 37.35 L120.52 37.37 L120.60 37.40 L120.68 37.42 L120.77 37.44 L120.85 37.47 L120.93 37.49 L121.01 37.51 L121.09 37.53 L121.17 37.55 L121.25 37.58 L121.33 37.60 L121.41 37.62 L121.49 37.64 L121.57 37.66 L121.65 37.68 L121.73 37.70 L121.81 37.72 L121.90 37.74 L121.98 37.77 L122.06 37.79 L122.14 37.81 L122.22 37.83 L122.30 37.85 L122.38 37.87 L122.46 37.88 L122.54 37.90 L122.62 37.92 L122.70 37.94 L122.78 37.96 L122.86 37.98 L122.94 38.00 L123.03 38.02 L123.11 38.04 L123.19 38.06 L123.27 38.07 L123.35 38.09 L123.43 38.11 L123.51 38.13 L123.59 38.15 L123.67 38.16 L123.75 38.18 L123.83 38.20 L123.91 38.22 L123.99 38.23 L124.08 38.25 L124.16 38.27 L124.24 38.28 L124.32 38.30 L124.40 38.32 L124.48 38.34 L124.56 38.35 L124.64 38.37 L124.72 38.38 L124.80 38.40 L124.88 38.42 L124.96 38.43 L125.04 38.45 L125.12 38.46 L125.21 38.48 L125.29 38.50 L125.37 38.51 L125.45 38.53 L125.53 38.54 L125.61 38.56 L125.69 38.57 L125.77 38.59 L125.85 38.60 L125.93 38.62 L126.01 38.63 L126.09 38.65 L126.17 38.66 L126.26 38.68 L126.34 38.69 L126.42 38.70 L126.50 38.72 L126.58 38.73 L126.66 38.75 L126.74 38.76 L126.82 38.77 L126.90 38.79 L126.98 38.80 L127.06 38.82 L127.14 38.83 L127.22 38.84 L127.30 38.86 L127.39 38.87 L127.47 38.88 L127.55 38.90 L127.63 38.91 L127.71 38.92 L127.79 38.94 L127.87 38.95 L127.95 38.96 L128.03 38.97 L128.11 38.99 L128.19 39.00 L128.27 39.01 L128.35 39.02 L128.44 39.04 L128.52 39.05 L128.60 39.06 L128.68 39.07 L128.76 39.09 L128.84 39.10 L128.92 39.11 L129.00 39.12 L129.08 39.13 L129.16 39.15 L129.24 39.16 L129.32 39.17 L129.40 39.18 L129.48 39.19 L129.57 39.20 L129.65 39.21 L129.73 39.23 L129.81 39.24 L129.89 39.25 L129.97 39.26 L130.05 39.27 L130.13 39.28 L130.21 39.29 L130.29 39.30 L130.37 39.31 L130.45 39.33 L130.53 39.34 L130.62 39.35 L130.70 39.36 L130.78 39.37 L130.86 39.38 L130.94 39.39 L131.02 39.40 L131.10 39.41 L131.18 39.42 L131.26 39.43 L131.34 39.44 L131.42 39.45 L131.50 39.46 L131.58 39.47 L131.66 39.48 L131.75 39.49 L131.83 39.50 L131.91 39.51 L131.99 39.52 L132.07 39.53 L132.15 39.54 L132.23 39.55 L132.31 39.56 L132.39 39.57 L132.47 39.58 L132.55 39.59 L132.63 39.60 L132.71 39.61 L132.80 39.61 L132.88 39.62 L132.96 39.63 L133.04 39.64 L133.12 39.65 L133.20 39.66 L133.28 39.67 L133.36 39.68 L133.44 39.69 L133.52 39.70 L133.60 39.71 L133.68 39.71 L133.76 39.72 L133.84 39.73 L133.93 39.74 L134.01 39.75 L134.09 39.76 L134.17 39.77 L134.25 39.77 L134.33 39.78 L134.41 39.79 L134.49 39.80 L134.57 39.81 L134.65 39.82 L134.73 39.82 L134.81 39.83 L134.89 39.84 L134.97 39.85 L135.06 39.86 L135.14 39.86 L135.22 39.87 L135.30 39.88 L135.38 39.89 L135.46 39.90 L135.54 39.90 L135.62 39.91 L135.70 39.92 L135.78 39.93 L135.86 39.94 L135.94 39.94 L136.02 39.95 L136.11 39.96 L136.19 39.97 L136.27 39.97 L136.35 39.98 L136.43 39.99 L136.51 40.00 L136.59 40.00 L136.67 40.01 L136.75 40.02 L136.83 40.03 L136.91 40.03 L136.99 40.04 L137.07 40.05 L137.15 40.05 L137.24 40.06 L137.32 40.07 L137.40 40.08 L137.48 40.08 L137.56 40.09 L137.64 40.10 L137.72 40.10 L137.80 40.11 L137.88 40.12 L137.96 40.12 L138.04 40.13 L138.12 40.14 L138.20 40.14 L138.29 40.15 L138.37 40.16 L138.45 40.16 L138.53 40.17 L138.61 40.18 L138.69 40.18 L138.77 40.19 L138.85 40.20 L138.93 40.20 L139.01 40.21 L139.09 40.22 L139.17 40.22 L139.25 40.23 L139.33 40.24 L139.42 40.24 L139.50 40.25 L139.58 40.25 L139.66 40.26 L139.74 40.27 L139.82 40.27 L139.90 40.28 L139.98 40.29 L140.06 40.29 L140.14 40.30 L140.22 40.30 L140.30 40.31 L140.38 40.32 L140.47 40.32 L140.55 40.33 L140.63 40.33 L140.71 40.34 L140.79 40.35 L140.87 40.35 L140.95 40.36 L141.03 40.36 L141.11 40.37 L141.19 40.37 L141.27 40.38 L141.35 40.39 L141.43 40.39 L141.51 40.40 L141.60 40.40 L141.68 40.41 L141.76 40.41 L141.84 40.42 L141.92 40.43 L142.00 40.43 L142.08 40.44 L142.16 40.44 L142.24 40.45 L142.32 40.45 L142.40 40.46 L142.48 40.46 L142.56 40.47 L142.65 40.47 L142.73 40.48 L142.81 40.48 L142.89 40.49 L142.97 40.50 L143.05 40.50 L143.13 40.51 L143.21 40.51 L143.29 40.52 L143.37 40.52 L143.45 40.53 L143.53 40.53 L143.61 40.54 L143.69 40.54 L143.78 40.55 L143.86 40.55 L143.94 40.56 L144.02 40.56 L144.10 40.57 L144.18 40.57 L144.26 40.58 L144.34 40.58 L144.42 40.59 L144.50 40.59 L144.58 40.60 L144.66 40.60 L144.74 40.61 L144.82 40.61" stroke="#30e030" stroke-width="0.8"/>
<path d="M73.70 59.07 L73.72 59.07 L73.74 59.07 L73.76 59.07 L73.78 59.07 L73.79 59.07 L73.81 59.07 L73.83 59.07 L73.85 59.07 L73.87 59.07 L73.89 59.08 L73.91 59.08 L73.93 59.08 L73.95 59.08 L73.97 59.08 L73.98 59.08 L74.00 59.08 L74.02 59.08 L74.04 59.09 L74.06 59.09 L74.08 59.09 L74.10 59.09 L74.12 59.09 L74.14 59.10 L74.16 59.10 L74.17 59.10 L74.19 59.10 L74.21 59.10 L74.23 59.11 L74.25 59.11 L74.27 59.11 L74.29 59.12 L74.31 59.12 L74.33 59.12 L74.35 59.12 L74.36 59.13 L74.38 59.13 L74.40 59.13 L74.42 59.14 L74.44 59.14 L74.46 59.14 L74.48 59.15 L74.50 59.15 L74.52 59.16 L74.54 59.16 L74.55 59.16 L74.57 59.17 L74.59 59.17 L74.61 59.18 L74.63 59.18 L74.65 59.19 L74.67 59.19 L74.69 59.20 L74.71 59.20 L74.73 59.21 L74.74 59.21 L74.76 59.22 L74.78 59.22 L74.80 59.23 L74.82 59.23 L74.84 59.24 L74.86 59.24 L74.88 59.25 L74.90 59.26 L74.92 59.26 L74.93 59.27 L74.95 59.27 L74.97 59.28 L74.99 59.29 L75.01 59.29 L75.03 59.30 L75.05 59.31 L75.07 59.31 L75.09 59.32 L75.11 59.33 L75.12 59.33 L75.14 59.34 L75.16 59.35 L75.18 59.36 L75.20 59.36 L75.22 59.37 L75.24 59.38 L75.26 59.39 L75.28 59.40 L75.30 59.40 L75.31 59.41 L75.33 59.42 L75.35 59.43 L75.37 59.44 L75.39 59.44 L75.41 59.45 L75.43 59.46 L75.45 59.47 L75.47 59.48 L75.49 59.49 L75.50 59.50 L75.52 59.51 L75.54 59.52 L75.56 59.53 L75.58 59.54 L75.60 59.55 L75.62 59.56 L75.64 59.57 L75.66 59.58 L75.68 59.59 L75.69 59.60 L75.71 59.61 L75.73 59.62 L75.75 59.63 L75.77 59.64 L75.79 59.65 L75.81 59.66 L75.83 59.67 L75.85 59.68 L75.87 59.69 L75.88 59.70 L75.90 59.72 L75.92 59.73 L75.94 59.74 L75.96 59.75 L75.98 59.76 L76.00 59.78 L76.02 59.79 L76.04 59.80 L76.06 59.81 L76.07 59.82 L76.09 59.84 L76.11 59.85 L76.13 59.86 L76.15 59.88 L76.17 59.89 L76.19 59.90 L76.21 59.92 L76.23 59.93 L76.25 59.94 L76.26 59.96 L76.28 59.97 L76.30 59.98 L76.32 60.00 L76.34 60.01 L76.36 60.03 L76.38 60.04 L76.40 60.06 L76.42 60.07 L76.44 60.09 L76.45 60.10 L76.47 60.12 L76.49 60.13 L76.51 60.15 L76.53 60.16 L76.55 60.18 L76.57 60.19 L76.59 60.21 L76.61 60.23 L76.63 60.24 L76.64 60.26 L76.66 60.28 L76.68 60.29 L76.70 60.31 L76.72 60.33 L76.74 60.34 L76.76 60.36 L76.78 60.38 L76.80 60.40 L76.81 60.41 L76.83 60.43 L76.85 60.45 L76.87 60.47 L76.89 60.48 L76.91 60.50 L76.93 60.52 L76.95 60.54 L76.97 60.56 L76.99 60.58 L77.00 60.60 L77.02 60.62 L77.04 60.64 L77.06 60.66 L77.08 60.67 L77.10 60.69 L77.12 60.71 L77.14 60.73 L77.16 60.76 L77.18 60.78 L77.19 60.80 L77.21 60.82 L77.23 60.84 L77.25 60.86 L77.27 60.88 L77.29 60.90 L77.31 60.92 L77.33 60.95 L77.35 60.97 L77.37 60.99 L77.38 61.01 L77.40 61.03 L77.42 61.06 L77.44 61.08 L77.46 61.10 L77.48 61.13 L77.50 61.15 L77.52 61.17 L77.54 61.20 L77.56 61.22 L77.57 61.24 L77.59 61.27 L77.61 61.29 L77.63 61.32 L77.65 61.34 L77.67 61.37 L77.69 61.39 L77.71 61.42 L77.73 61.44 L77.75 61.47 L77.76 61.49 L77.78 61.52 L77.80 61.55 L77.82 61.57 L77.84 61.60 L77.86 61.63 L77.88 61.65 L77.90 61.68 L77.92 61.71 L77.94 61.74 L77.95 61.76 L77.97 61.79 L77.99 61.82 L78.01 61.85 L78.03 61.88 L78.05 61.91 L78.07 61.93 L78.09 61.96 L78.11 61.99 L78.13 62.02 L78.14 62.05 L78.16 62.08 L78.18 62.11 L78.20 62.14 L78.22 62.18 L78.24 62.21 L78.26 62.24 L78.28 62.27 L78.30 62.30 L78.32 62.33 L78.33 62.37 L78.35 62.40 L78.37 62.43 L78.39 62.46 L78.41 62.50 L78.43 62.53 L78.45 62.56 L78.47 62.60 L78.49 62.63 L78.51 62.67 L78.52 62.70 L78.54 62.74 L78.56 62.77 L78.58 62.81 L78.60 62.84 L78.62 62.88 L78.64 62.92 L78.66 62.95 L78.68 62.99 L78.70 63.03 L78.71 63.06 L78.73 63.10 L78.75 63.14 L78.77 63.18 L78.79 63.22 L78.81 63.25 L78.83 63.29 L78.85 63.33 L78.87 63.37 L78.89 63.41 L78.90 63.45 L78.92 63.49 L78.94 63.53 L78.96 63.58 L78.98 63.62 L79.00 63.66 L79.02 63.70 L79.04 63.74 L79.06 63.79 L79.08 63.83 L79.09 63.87 L79.11 63.92 L79.13 63.96 L79.15 64.00 L79.17 64.05 L79.19 64.09 L79.21 64.14 L79.23 64.19 L79.25 64.23 L79.27 64.28 L79.28 64.33 L79.30 64.37 L79.32 64.42 L79.34 64.47 L79.36 64.52 L79.38 64.57 L79.40 64.62 L79.42 64.66 L79.44 64.71 L79.46 64.76 L79.47 64.82 L79.49 64.87 L79.51 64.92 L79.53 64.97 L79.55 65.02 L79.57 65.08 L79.59 65.13 L79.61 65.18 L79.63 65.24 L79.64 65.29 L79.66 65.35 L79.68 65.40 L79.70 65.46 L79.72 65.51 L79.74 65.57 L79.76 65.63 L79.78 65.68 L79.80 65.74 L79.82 65.80 L79.83 65.86 L79.85 65.92 L79.87 65.98 L79.89 66.04 L79.91 66.10 L79.93 66.16 L79.95 66.22 L79.97 66.29 L79.99 66.35 L80.01 66.41 L80.02 66.48 L80.04 66.54 L80.06 66.61 L80.08 66.67 L80.10 66.74 L80.12 66.81 L80.14 66.87 L80.16 66.94 L80.18 67.01 L80.20 67.08 L80.21 67.15 L80.23 67.22 L80.25 67.29 L80.27 67.36 L80.29 67.43 L80.31 67.51 L80.33 67.58 L80.35 67.65 L80.37 67.73 L80.39 67.80 L80.40 67.88 L80.42 67.96 L80.44 68.03 L80.46 68.11 L80.48 68.19 L80.50 68.27 L80.52 68.35 L80.54 68.43 L80.56 68.51 L80.58 68.60 L80.59 68.68 L80.61 68.76 L80.63 68.85 L80.65 68.93 L80.67 69.02 L80.69 69.11 L80.71 69.20 L80.73 69.29 L80.75 69.37 L80.77 69.47 L80.78 69.56 L80.80 69.65 L80.82 69.74 L80.84 69.84 L80.86 69.93 L80.88 70.03 L80.90 70.12 L80.92 70.22 L80.94 70.32 L80.96 70.42 L80.97 70.52 L80.99 70.62 L81.01 70.72 L81.03 70.83 L81.05 70.93 L81.07 71.04 L81.09 71.15 L81.11 71.25 L81.13 71.36 L81.15 71.47 L81.16 71.58 L81.18 71.70 L81.20 71.81 L81.22 71.92 L81.24 72.04 L81.26 72.16 L81.28 72.28 L81.30 72.39 L81.32 72.52 L81.34 72.64 L81.35 72.76 L81.37 72.89 L81.39 73.01 L81.41 73.14 L81.43 73.27 L81.45 73.40 L81.47 73.53 L81.49 73.66 L81.51 73.80 L81.53 73.93 L81.54 74.07 L81.56 74.21 L81.58 74.35 L81.60 74.49 L81.62 74.64 L81.64 74.78 L81.66 74.93 L81.68 75.08 L81.70 75.23 L81.72 75.38 L81.73 75.54 L81.75 75.69 L81.77 75.85 L81.79 76.01 L81.81 76.17 L81.83 76.34 L81.85 76.50 L81.87 76.67 L81.89 76.84 L81.91 77.01 L81.92 77.19 L81.94 77.36 L81.96 77.54 L81.98 77.72 L82.00 77.90 L82.02 78.09 L82.04 78.28 L82.06 78.47 L82.08 78.66 L82.10 78.86" stroke="#4040ff" stroke-width="0.8"/>
<path d="M87.68 9.90 L87.78 11.23 L87.88 12.46 L87.98 13.61 L88.07 14.68 L88.17 15.68 L88.27 16.62 L88.37 17.50 L88.47 18.33 L88.57 19.10 L88.67 19.84 L88.77 20.54 L88.87 21.19 L88.97 21.82 L89.07 22.41 L89.17 22.97 L89.27 23.51 L89.37 24.02 L89.47 24.50 L89.57 24.97 L89.67 25.41 L89.77 25.83 L89.87 26.24 L89.97 26.63 L90.07 27.00 L90.17 27.36 L90.27 27.70 L90.37 28.04 L90.47 28.35 L90.57 28.66 L90.67 28.95 L90.77 29.24 L90.87 29.51 L90.97 29.78 L91.07 30.03 L91.17 30.28 L91.27 30.52 L91.37 30.75 L91.47 30.97 L91.57 31.19 L91.67 31.40 L91.77 31.60 L91.86 31.80 L91.96 31.99 L92.06 32.17 L92.16 32.35 L92.26 32.53 L92.36 32.69 L92.46 32.86 L92.56 33.02 L92.66 33.17 L92.76 33.33 L92.86 33.47 L92.96 33.62 L93.06 33.76 L93.16 33.89 L93.26 34.02 L93.36 34.15 L93.46 34.28 L93.56 34.40 L93.66 34.52 L93.76 34.64 L93.86 34.75 L93.96 34.86 L94.06 34.97 L94.16 35.08 L94.26 35.18 L94.36 35.28 L94.46 35.38 L94.56 35.48 L94.66 35.57 L94.76 35.66 L94.86 35.76 L94.96 35.84 L95.06 35.93 L95.16 36.02 L95.26 36.10 L95.36 36.18 L95.46 36.26 L95.56 36.34 L95.65 36.41 L95.75 36.49 L95.85 36.56 L95.95 36.63 L96.05 36.70 L96.15 36.77 L96.25 36.84 L96.35 36.91 L96.45 36.97 L96.55 37.04 L96.65 37.10 L96.75 37.16 L96.85 37.22 L96.95 37.28 L97.05 37.34 L97.15 37.40 L97.25 37.45 L97.35 37.51 L97.45 37.56 L97.55 37.62 L97.65 37.67 L97.75 37.72 L97.85 37.77 L97.95 37.82 L98.05 37.87 L98.15 37.92 L98.25 37.97 L98.35 38.01 L98.45 38.06 L98.55 38.10 L98.65 38.15 L98.75 38.19 L98.85 38.23 L98.95 38.28 L99.05 38.32 L99.15 38.36 L99.25 38.40 L99.35 38.44 L99.44 38.48 L99.54 38.52 L99.64 38.55 L99.74 38.59 L99.84 38.63 L99.94 38.66 L100.04 38.70 L100.14 38.73 L100.24 38.77 L100.34 38.80 L100.44 38.84 L100.54 38.87 L100.64 38.90 L100.74 38.93 L100.84 38.97 L100.94 39.00 L101.04 39.03 L101.14 39.06 L101.24 39.09 L101.34 39.12 L101.44 39.15 L101.54 39.18 L101.64 39.20 L101.74 39.23 L101.84 39.26 L101.94 39.29 L102.04 39.31 L102.14 39.34 L102.24 39.37 L102.34 39.39 L102.44 39.42 L102.54 39.44 L102.64 39.47 L102.74 39.49 L102.84 39.52 L102.94 39.54 L103.04 39.57 L103.14 39.59 L103.23 39.61 L103.33 39.63 L103.43 39.66 L103.53 39.68 L103.63 39.70 L103.73 39.72 L103.83 39.74 L103.93 39.77 L104.03 39.79 L104.13 39.81 L104.23 39.83 L104.33 39.85 L104.43 39.87 L104.53 39.89 L104.63 39.91 L104.73 39.93 L104.83 39.94 L104.93 39.96 L105.03 39.98 L105.13 40.00 L105.23 40.02 L105.33 40.04 L105.43 40.05 L105.53 40.07 L105.63 40.09 L105.73 40.11 L105.83 40.12 L105.93 40.14 L106.03 40.16 L106.13 40.17 L106.23 40.19 L106.33 40.21 L106.43 40.22 L106.53 40.24 L106.63 40.25 L106.73 40.27 L106.83 40.28 L106.93 40.30 L107.02 40.31 L107.12 40.33 L107.22 40.34 L107.32 40.36 L107.42 40.37 L107.52 40.39 L107.62 40.40 L107.72 40.41 L107.82 40.43 L107.92 40.44 L108.02 40.45 L108.12 40.47 L108.22 40.48 L108.32 40.49 L108.42 40.51 L108.52 40.52 L108.62 40.53 L108.72 40.54 L108.82 40.56 L108.92 40.57 L109.02 40.58 L109.12 40.59 L109.22 40.61 L109.32 40.62 L109.42 40.63 L109.52 40.64 L109.62 40.65 L109.72 40.66 L109.82 40.67 L109.92 40.69 L110.02 40.70 L110.12 40.71 L110.22 40.72 L110.32 40.73 L110.42 40.74 L110.52 40.75 L110.62 40.76 L110.72 40.77 L110.81 40.78 L110.91 40.79 L111.01 40.80 L111.11 40.81 L111.21 40.82 L111.31 40.83 L111.41 40.84 L111.51 40.85 L111.61 40.86 L111.71 40.87 L111.81 40.88 L111.91 40.89 L112.01 40.90 L112.11 40.91 L112.21 40.92 L112.31 40.92 L112.41 40.93 L112.51 40.94 L112.61 40.95 L112.71 40.96 L112.81 40.97 L112.91 40.98 L113.01 40.99 L113.11 40.99 L113.21 41.00 L113.31 41.01 L113.41 41.02 L113.51 41.03 L113.61 41.03 L113.71 41.04 L113.81 41.05 L113.91 41.06 L114.01 41.07 L114.11 41.07 L114.21 41.08 L114.31 41.09 L114.41 41.10 L114.51 41.10 L114.60 41.11 L114.70 41.12 L114.80 41.13 L114.90 41.13 L115.00 41.14 L115.10 41.15 L115.20 41.15 L115.30 41.16 L115.40 41.17 L115.50 41.17 L115.60 41.18 L115.70 41.19 L115.80 41.19 L115.90 41.20 L116.00 41.21 L116.10 41.21 L116.20 41.22 L116.30 41.23 L116.40 41.23 L116.50 41.24 L116.60 41.25 L116.70 41.25 L116.80 41.26 L116.90 41.27 L117.00 41.27 L117.10 41.28 L117.20 41.28 L117.30 41.29 L117.40 41.30 L117.50 41.30 L117.60 41.31 L117.70 41.31 L117.80 41.32 L117.90 41.32 L118.00 41.33 L118.10 41.34 L118.20 41.34 L118.30 41.35 L118.39 41.35 L118.49 41.36 L118.59 41.36 L118.69 41.37 L118.79 41.37 L118.89 41.38 L118.99 41.38 L119.09 41.39 L119.19 41.39 L119.29 41.40 L119.39 41.40 L119.49 41.41 L119.59 41.42 L119.69 41.42 L119.79 41.43 L119.89 41.43 L119.99 41.43 L120.09 41.44 L120.19 41.44 L120.29 41.45 L120.39 41.45 L120.49 41.46 L120.59 41.46 L120.69 41.47 L120.79 41.47 L120.89 41.48 L120.99 41.48 L121.09 41.49 L121.19 41.49 L121.29 41.50 L121.39 41.50 L121.49 41.50 L121.59 41.51 L121.69 41.51 L121.79 41.52 L121.89 41.52 L121.99 41.53 L122.09 41.53 L122.18 41.53 L122.28 41.54 L122.38 41.54 L122.48 41.55 L122.58 41.55 L122.68 41.56 L122.78 41.56 L122.88 41.56 L122.98 41.57 L123.08 41.57 L123.18 41.58 L123.28 41.58 L123.38 41.58 L123.48 41.59 L123.58 41.59 L123.68 41.59 L123.78 41.60 L123.88 41.60 L123.98 41.61 L124.08 41.61 L124.18 41.61 L124.28 41.62 L124.38 41.62 L124.48 41.62 L124.58 41.63 L124.68 41.63 L124.78 41.64 L124.88 41.64 L124.98 41.64 L125.08 41.65 L125.18 41.65 L125.28 41.65 L125.38 41.66 L125.48 41.66 L125.58 41.66 L125.68 41.67 L125.78 41.67 L125.88 41.67 L125.97 41.68 L126.07 41.68 L126.17 41.68 L126.27 41.69 L126.37 41.69 L126.47 41.69 L126.57 41.70 L126.67 41.70 L126.77 41.70 L126.87 41.71 L126.97 41.71 L127.07 41.71 L127.17 41.71 L127.27 41.72 L127.37 41.72 L127.47 41.72 L127.57 41.73 L127.67 41.73 L127.77 41.73 L127.87 41.74 L127.97 41.74 L128.07 41.74 L128.17 41.74 L128.27 41.75 L128.37 41.75 L128.47 41.75 L128.57 41.76 L128.67 41.76 L128.77 41.76 L128.87 41.76 L128.97 41.77 L129.07 41.77 L129.17 41.77 L129.27 41.78 L129.37 41.78 L129.47 41.78 L129.57 41.78 L129.67 41.79 L129.76 41.79 L129.86 41.79 L129.96 41.79 L130.06 41.80 L130.16 41.80 L130.26 41.80 L130.36 41.80 L130.46 41.81 L130.56 41.81 L130.66 41.81 L130.76 41.81 L130.86 41.82 L130.96 41.82 L131.06 41.82 L131.16 41.82 L131.26 41.83 L131.36 41.83 L131.46 41.83 L131.56 41.83 L131.66 41.84 L131.76 41.84 L131.86 41.84 L131.96 41.84 L132.06 41.85 L132.16 41.85 L132.26 41.85 L132.36 41.85 L132.46 41.86 L132.56 41.86 L132.66 41.86 L132.76 41.86 L132.86 41.86 L132.96 41.87 L133.06 41.87 L133.16 41.87 L133.26 41.87 L133.36 41.88 L133.46 41.88 L133.55 41.88 L133.65 41.88 L133.75 41.88 L133.85 41.89 L133.95 41.89 L134.05 41.89 L134.15 41.89 L134.25 41.89 L134.35 41.90 L134.45 41.90 L134.55 41.90 L134.65 41.90 L134.75 41.90 L134.85 41.91 L134.95 41.91 L135.05 41.91 L135.15 41.91 L135.25 41.91 L135.35 41.92 L135.45 41.92 L135.55 41.92 L135.65 41.92 L135.75 41.92 L135.85 41.93 L135.95 41.93 L136.05 41.93 L136.15 41.93 L136.25 41.93 L136.35 41.94 L136.45 41.94 L136.55 41.94 L136.65 41.94 L136.75 41.94 L136.85 41.94 L136.95 41.95 L137.05 41.95 L137.15 41.95 L137.25 41.95 L137.34 41.95 L137.44 41.96 L137.54 41.96 L137.64 41.96 L137.74 41.96 L137.84 41.96 L137.94 41.96 L138.04 41.97 L138.14 41.97 L138.24 41.97 L138.34 41.97 L138.44 41.97 L138.54 41.97 L138.64 41.98 L138.74 41.98 L138.84 41.98 L138.94 41.98 L139.04 41.98 L139.14 41.98 L139.24 41.99 L139.34 41.99 L139.44 41.99 L139.54 41.99 L139.64 41.99 L139.74 41.99 L139.84 42.00 L139.94 42.00 L140.04 42.00 L140.14 42.00 L140.24 42.00 L140.34 42.00 L140.44 42.00 L140.54 42.01 L140.64 42.01 L140.74 42.01 L140.84 42.01 L140.94 42.01 L141.04 42.01 L141.13 42.02 L141.23 42.02 L141.33 42.02 L141.43 42.02 L141.53 42.02 L141.63 42.02 L141.73 42.02 L141.83 42.03 L141.93 42.03 L142.03 42.03 L142.13 42.03 L142.23 42.03 L142.33 42.03 L142.43 42.03 L142.53 42.04 L142.63 42.04 L142.73 42.04 L142.83 42.04 L142.93 42.04 L143.03 42.04 L143.13 42.04 L143.23 42.04 L143.33 42.05 L143.43 42.05 L143.53 42.05 L143.63 42.05 L143.73 42.05 L143.83 42.05 L143.93 42.05 L144.03 42.06 L144.13 42.06 L144.23 42.06 L144.33 42.06 L144.43 42.06 L144.53 42.06 L144.63 42.06 L144.73 42.06 L144.82 42.07" stroke="#4040ff" stroke-width="0.8"/>
<path d="M73.70 59.07 L73.71 59.07 L73.72 59.07 L73.73 59.07 L73.74 59.07 L73.75 59.07 L73.76 59.07 L73.77 59.07 L73.78 59.07 L73.79 59.07 L73.79 59.08 L73.80 59.08 L73.81 59.08 L73.82 59.08 L73.83 59.08 L73.84 59.08 L73.85 59.08 L73.86 59.08 L73.87 59.09 L73.88 59.09 L73.89 59.09 L73.90 59.09 L73.91 59.09 L73.92 59.10 L73.93 59.10 L73.94 59.10 L73.95 59.10 L73.96 59.10 L73.97 59.11 L73.98 59.11 L73.98 59.11 L73.99 59.12 L74.00 59.12 L74.01 59.12 L74.02 59.12 L74.03 59.13 L74.04 59.13 L74.05 59.13 L74.06 59.14 L74.07 59.14 L74.08 59.14 L74.09 59.15 L74.10 59.15 L74.11 59.16 L74.12 59.16 L74.13 59.16 L74.14 59.17 L74.15 59.17 L74.16 59.18 L74.17 59.18 L74.17 59.19 L74.18 59.19 L74.19 59.20 L74.20 59.20 L74.21 59.21 L74.22 59.21 L74.23 59.22 L74.24 59.22 L74.25 59.23 L74.26 59.23 L74.27 59.24 L74.28 59.24 L74.29 59.25 L74.30 59.26 L74.31 59.26 L74.32 59.27 L74.33 59.27 L74.34 59.28 L74.35 59.29 L74.36 59.29 L74.36 59.30 L74.37 59.31 L74.38 59.31 L74.39 59.32 L74.40 59.33 L74.41 59.33 L74.42 59.34 L74.43 59.35 L74.44 59.36 L74.45 59.36 L74.46 59.37 L74.47 59.38 L74.48 59.39 L74.49 59.39 L74.50 59.40 L74.51 59.41 L74.52 59.42 L74.53 59.43 L74.54 59.44 L74.55 59.44 L74.55 59.45 L74.56 59.46 L74.57 59.47 L74.58 59.48 L74.59 59.49 L74.60 59.50 L74.61 59.51 L74.62 59.52 L74.63 59.53 L74.64 59.54 L74.65 59.55 L74.66 59.56 L74.67 59.57 L74.68 59.58 L74.69 59.59 L74.70 59.60 L74.71 59.61 L74.72 59.62 L74.73 59.63 L74.73 59.64 L74.74 59.65 L74.75 59.66 L74.76 59.67 L74.77 59.68 L74.78 59.69 L74.79 59.70 L74.80 59.72 L74.81 59.73 L74.82 59.74 L74.83 59.75 L74.84 59.76 L74.85 59.77 L74.86 59.79 L74.87 59.80 L74.88 59.81 L74.89 59.82 L74.90 59.84 L74.91 59.85 L74.92 59.86 L74.92 59.88 L74.93 59.89 L74.94 59.90 L74.95 59.92 L74.96 59.93 L74.97 59.94 L74.98 59.96 L74.99 59.97 L75.00 59.98 L75.01 60.00 L75.02 60.01 L75.03 60.03 L75.04 60.04 L75.05 60.06 L75.06 60.07 L75.07 60.09 L75.08 60.10 L75.09 60.12 L75.10 60.13 L75.11 60.15 L75.11 60.16 L75.12 60.18 L75.13 60.19 L75.14 60.21 L75.15 60.23 L75.16 60.24 L75.17 60.26 L75.18 60.28 L75.19 60.29 L75.20 60.31 L75.21 60.33 L75.22 60.34 L75.23 60.36 L75.24 60.38 L75.25 60.39 L75.26 60.41 L75.27 60.43 L75.28 60.45 L75.29 60.47 L75.30 60.48 L75.30 60.50 L75.31 60.52 L75.32 60.54 L75.33 60.56 L75.34 60.58 L75.35 60.60 L75.36 60.62 L75.37 60.63 L75.38 60.65 L75.39 60.67 L75.40 60.69 L75.41 60.71 L75.42 60.73 L75.43 60.75 L75.44 60.77 L75.45 60.80 L75.46 60.82 L75.47 60.84 L75.48 60.86 L75.48 60.88 L75.49 60.90 L75.50 60.92 L75.51 60.94 L75.52 60.97 L75.53 60.99 L75.54 61.01 L75.55 61.03 L75.56 61.06 L75.57 61.08 L75.58 61.10 L75.59 61.12 L75.60 61.15 L75.61 61.17 L75.62 61.19 L75.63 61.22 L75.64 61.24 L75.65 61.27 L75.66 61.29 L75.67 61.32 L75.67 61.34 L75.68 61.37 L75.69 61.39 L75.70 61.42 L75.71 61.44 L75.72 61.47 L75.73 61.49 L75.74 61.52 L75.75 61.54 L75.76 61.57 L75.77 61.60 L75.78 61.62 L75.79 61.65 L75.80 61.68 L75.81 61.71 L75.82 61.73 L75.83 61.76 L75.84 61.79 L75.85 61.82 L75.86 61.85 L75.86 61.87 L75.87 61.90 L75.88 61.93 L75.89 61.96 L75.90 61.99 L75.91 62.02 L75.92 62.05 L75.93 62.08 L75.94 62.11 L75.95 62.14 L75.96 62.17 L75.97 62.20 L75.98 62.24 L75.99 62.27 L76.00 62.30 L76.01 62.33 L76.02 62.36 L76.03 62.40 L76.04 62.43 L76.05 62.46 L76.05 62.49 L76.06 62.53 L76.07 62.56 L76.08 62.60 L76.09 62.63 L76.10 62.66 L76.11 62.70 L76.12 62.73 L76.13 62.77 L76.14 62.80 L76.15 62.84 L76.16 62.88 L76.17 62.91 L76.18 62.95 L76.19 62.99 L76.20 63.02 L76.21 63.06 L76.22 63.10 L76.23 63.14 L76.24 63.17 L76.24 63.21 L76.25 63.25 L76.26 63.29 L76.27 63.33 L76.28 63.37 L76.29 63.41 L76.30 63.45 L76.31 63.49 L76.32 63.53 L76.33 63.57 L76.34 63.61 L76.35 63.66 L76.36 63.70 L76.37 63.74 L76.38 63.78 L76.39 63.83 L76.40 63.87 L76.41 63.91 L76.42 63.96 L76.42 64.00 L76.43 64.05 L76.44 64.09 L76.45 64.14 L76.46 64.18 L76.47 64.23 L76.48 64.28 L76.49 64.32 L76.50 64.37 L76.51 64.42 L76.52 64.47 L76.53 64.51 L76.54 64.56 L76.55 64.61 L76.56 64.66 L76.57 64.71 L76.58 64.76 L76.59 64.81 L76.60 64.86 L76.61 64.91 L76.61 64.97 L76.62 65.02 L76.63 65.07 L76.64 65.12 L76.65 65.18 L76.66 65.23 L76.67 65.29 L76.68 65.34 L76.69 65.40 L76.70 65.45 L76.71 65.51 L76.72 65.56 L76.73 65.62 L76.74 65.68 L76.75 65.74 L76.76 65.80 L76.77 65.85 L76.78 65.91 L76.79 65.97 L76.80 66.03 L76.80 66.10 L76.81 66.16 L76.82 66.22 L76.83 66.28 L76.84 66.34 L76.85 66.41 L76.86 66.47 L76.87 66.54 L76.88 66.60 L76.89 66.67 L76.90 66.73 L76.91 66.80 L76.92 66.87 L76.93 66.94 L76.94 67.00 L76.95 67.07 L76.96 67.14 L76.97 67.21 L76.98 67.28 L76.99 67.36 L76.99 67.43 L77.00 67.50 L77.01 67.57 L77.02 67.65 L77.03 67.72 L77.04 67.80 L77.05 67.87 L77.06 67.95 L77.07 68.03 L77.08 68.11 L77.09 68.18 L77.10 68.26 L77.11 68.34 L77.12 68.43 L77.13 68.51 L77.14 68.59 L77.15 68.67 L77.16 68.76 L77.17 68.84 L77.17 68.93 L77.18 69.01 L77.19 69.10 L77.20 69.19 L77.21 69.28 L77.22 69.37 L77.23 69.46 L77.24 69.55 L77.25 69.64 L77.26 69.73 L77.27 69.83 L77.28 69.92 L77.29 70.02 L77.30 70.11 L77.31 70.21 L77.32 70.31 L77.33 70.41 L77.34 70.51 L77.35 70.61 L77.36 70.71 L77.36 70.82 L77.37 70.92 L77.38 71.03 L77.39 71.13 L77.40 71.24 L77.41 71.35 L77.42 71.46 L77.43 71.57 L77.44 71.68 L77.45 71.80 L77.46 71.91 L77.47 72.03 L77.48 72.15 L77.49 72.26 L77.50 72.38 L77.51 72.50 L77.52 72.63 L77.53 72.75 L77.54 72.87 L77.55 73.00 L77.55 73.13 L77.56 73.26 L77.57 73.39 L77.58 73.52 L77.59 73.65 L77.60 73.78 L77.61 73.92 L77.62 74.06 L77.63 74.20 L77.64 74.34 L77.65 74.48 L77.66 74.62 L77.67 74.77 L77.68 74.92 L77.69 75.06 L77.70 75.21 L77.71 75.37 L77.72 75.52 L77.73 75.68 L77.74 75.83 L77.74 75.99 L77.75 76.16 L77.76 76.32 L77.77 76.49 L77.78 76.65 L77.79 76.82 L77.80 76.99 L77.81 77.17 L77.82 77.34 L77.83 77.52 L77.84 77.70 L77.85 77.88 L77.86 78.07 L77.87 78.26 L77.88 78.45 L77.89 78.64 L77.90 78.83" stroke="#ff40ff" stroke-width="0.8"/>
<path d="M80.70 10.33 L80.81 13.05 L80.92 15.38 L81.03 17.40 L81.14 19.16 L81.25 20.71 L81.36 22.09 L81.47 23.32 L81.58 24.43 L81.69 25.42 L81.80 26.33 L81.91 27.15 L82.01 27.90 L82.12 28.60 L82.23 29.23 L82.34 29.82 L82.45 30.37 L82.56 30.87 L82.67 31.34 L82.78 31.78 L82.89 32.19 L83.00 32.58 L83.11 32.94 L83.22 33.28 L83.33 33.60 L83.43 33.90 L83.54 34.19 L83.65 34.46 L83.76 34.71 L83.87 34.95 L83.98 35.18 L84.09 35.40 L84.20 35.61 L84.31 35.81 L84.42 36.00 L84.53 36.18 L84.64 36.35 L84.75 36.52 L84.85 36.67 L84.96 36.82 L85.07 36.97 L85.18 37.11 L85.29 37.24 L85.40 37.37 L85.51 37.49 L85.62 37.61 L85.73 37.72 L85.84 37.83 L85.95 37.94 L86.06 38.04 L86.17 38.14 L86.27 38.23 L86.38 38.33 L86.49 38.41 L86.60 38.50 L86.71 38.58 L86.82 38.66 L86.93 38.74 L87.04 38.82 L87.15 38.89 L87.26 38.96 L87.37 39.03 L87.48 39.09 L87.59 39.16 L87.69 39.22 L87.80 39.28 L87.91 39.34 L88.02 39.40 L88.13 39.45 L88.24 39.50 L88.35 39.56 L88.46 39.61 L88.57 39.66 L88.68 39.71 L88.79 39.75 L88.90 39.80 L89.01 39.84 L89.11 39.89 L89.22 39.93 L89.33 39.97 L89.44 40.01 L89.55 40.05 L89.66 40.09 L89.77 40.13 L89.88 40.16 L89.99 40.20 L90.10 40.23 L90.21 40.27 L90.32 40.30 L90.43 40.33 L90.53 40.36 L90.64 40.39 L90.75 40.42 L90.86 40.45 L90.97 40.48 L91.08 40.51 L91.19 40.54 L91.30 40.57 L91.41 40.59 L91.52 40.62 L91.63 40.64 L91.74 40.67 L91.85 40.69 L91.95 40.72 L92.06 40.74 L92.17 40.76 L92.28 40.79 L92.39 40.81 L92.50 40.83 L92.61 40.85 L92.72 40.87 L92.83 40.89 L92.94 40.91 L93.05 40.93 L93.16 40.95 L93.27 40.97 L93.38 40.99 L93.48 41.01 L93.59 41.02 L93.70 41.04 L93.81 41.06 L93.92 41.08 L94.03 41.09 L94.14 41.11 L94.25 41.12 L94.36 41.14 L94.47 41.16 L94.58 41.17 L94.69 41.19 L94.80 41.20 L94.90 41.22 L95.01 41.23 L95.12 41.24 L95.23 41.26 L95.34 41.27 L95.45 41.28 L95.56 41.30 L95.67 41.31 L95.78 41.32 L95.89 41.33 L96.00 41.35 L96.11 41.36 L96.22 41.37 L96.32 41.38 L96.43 41.39 L96.54 41.40 L96.65 41.42 L96.76 41.43 L96.87 41.44 L96.98 41.45 L97.09 41.46 L97.20 41.47 L97.31 41.48 L97.42 41.49 L97.53 41.50 L97.64 41.51 L97.74 41.52 L97.85 41.53 L97.96 41.54 L98.07 41.55 L98.18 41.55 L98.29 41.56 L98.40 41.57 L98.51 41.58 L98.62 41.59 L98.73 41.60 L98.84 41.61 L98.95 41.61 L99.06 41.62 L99.16 41.63 L99.27 41.64 L99.38 41.65 L99.49 41.65 L99.60 41.66 L99.71 41.67 L99.82 41.68 L99.93 41.68 L100.04 41.69 L100.15 41.70 L100.26 41.70 L100.37 41.71 L100.48 41.72 L100.58 41.72 L100.69 41.73 L100.80 41.74 L100.91 41.74 L101.02 41.75 L101.13 41.76 L101.24 41.76 L101.35 41.77 L101.46 41.77 L101.57 41.78 L101.68 41.79 L101.79 41.79 L101.90 41.80 L102.00 41.80 L102.11 41.81 L102.22 41.81 L102.33 41.82 L102.44 41.82 L102.55 41.83 L102.66 41.84 L102.77 41.84 L102.88 41.85 L102.99 41.85 L103.10 41.86 L103.21 41.86 L103.32 41.87 L103.42 41.87 L103.53 41.88 L103.64 41.88 L103.75 41.88 L103.86 41.89 L103.97 41.89 L104.08 41.90 L104.19 41.90 L104.30 41.91 L104.41 41.91 L104.52 41.92 L104.63 41.92 L104.74 41.92 L104.84 41.93 L104.95 41.93 L105.06 41.94 L105.17 41.94 L105.28 41.94 L105.39 41.95 L105.50 41.95 L105.61 41.96 L105.72 41.96 L105.83 41.96 L105.94 41.97 L106.05 41.97 L106.16 41.98 L106.26 41.98 L106.37 41.98 L106.48 41.99 L106.59 41.99 L106.70 41.99 L106.81 42.00 L106.92 42.00 L107.03 42.00 L107.14 42.01 L107.25 42.01 L107.36 42.01 L107.47 42.02 L107.58 42.02 L107.68 42.02 L107.79 42.03 L107.90 42.03 L108.01 42.03 L108.12 42.04 L108.23 42.04 L108.34 42.04 L108.45 42.04 L108.56 42.05 L108.67 42.05 L108.78 42.05 L108.89 42.06 L109.00 42.06 L109.10 42.06 L109.21 42.06 L109.32 42.07 L109.43 42.07 L109.54 42.07 L109.65 42.08 L109.76 42.08 L109.87 42.08 L109.98 42.08 L110.09 42.09 L110.20 42.09 L110.31 42.09 L110.42 42.09 L110.53 42.10 L110.63 42.10 L110.74 42.10 L110.85 42.10 L110.96 42.11 L111.07 42.11 L111.18 42.11 L111.29 42.11 L111.40 42.11 L111.51 42.12 L111.62 42.12 L111.73 42.12 L111.84 42.12 L111.95 42.13 L112.05 42.13 L112.16 42.13 L112.27 42.13 L112.38 42.13 L112.49 42.14 L112.60 42.14 L112.71 42.14 L112.82 42.14 L112.93 42.14 L113.04 42.15 L113.15 42.15 L113.26 42.15 L113.37 42.15 L113.47 42.15 L113.58 42.16 L113.69 42.16 L113.80 42.16 L113.91 42.16 L114.02 42.16 L114.13 42.17 L114.24 42.17 L114.35 42.17 L114.46 42.17 L114.57 42.17 L114.68 42.18 L114.79 42.18 L114.89 42.18 L115.00 42.18 L115.11 42.18 L115.22 42.18 L115.33 42.19 L115.44 42.19 L115.55 42.19 L115.66 42.19 L115.77 42.19 L115.88 42.19 L115.99 42.20 L116.10 42.20 L116.21 42.20 L116.31 42.20 L116.42 42.20 L116.53 42.20 L116.64 42.20 L116.75 42.21 L116.86 42.21 L116.97 42.21 L117.08 42.21 L117.19 42.21 L117.30 42.21 L117.41 42.22 L117.52 42.22 L117.63 42.22 L117.73 42.22 L117.84 42.22 L117.95 42.22 L118.06 42.22 L118.17 42.23 L118.28 42.23 L118.39 42.23 L118.50 42.23 L118.61 42.23 L118.72 42.23 L118.83 42.23 L118.94 42.23 L119.05 42.24 L119.15 42.24 L119.26 42.24 L119.37 42.24 L119.48 42.24 L119.59 42.24 L119.70 42.24 L119.81 42.24 L119.92 42.25 L120.03 42.25 L120.14 42.25 L120.25 42.25 L120.36 42.25 L120.47 42.25 L120.57 42.25 L120.68 42.25 L120.79 42.26 L120.90 42.26 L121.01 42.26 L121.12 42.26 L121.23 42.26 L121.34 42.26 L121.45 42.26 L121.56 42.26 L121.67 42.26 L121.78 42.27 L121.89 42.27 L121.99 42.27 L122.10 42.27 L122.21 42.27 L122.32 42.27 L122.43 42.27 L122.54 42.27 L122.65 42.27 L122.76 42.27 L122.87 42.28 L122.98 42.28 L123.09 42.28 L123.20 42.28 L123.31 42.28 L123.41 42.28 L123.52 42.28 L123.63 42.28 L123.74 42.28 L123.85 42.28 L123.96 42.29 L124.07 42.29 L124.18 42.29 L124.29 42.29 L124.40 42.29 L124.51 42.29 L124.62 42.29 L124.73 42.29 L124.83 42.29 L124.94 42.29 L125.05 42.29 L125.16 42.30 L125.27 42.30 L125.38 42.30 L125.49 42.30 L125.60 42.30 L125.71 42.30 L125.82 42.30 L125.93 42.30 L126.04 42.30 L126.15 42.30 L126.25 42.30 L126.36 42.31 L126.47 42.31 L126.58 42.31 L126.69 42.31 L126.80 42.31 L126.91 42.31 L127.02 42.31 L127.13 42.31 L127.24 42.31 L127.35 42.31 L127.46 42.31 L127.57 42.31 L127.68 42.31 L127.78 42.32 L127.89 42.32 L128.00 42.32 L128.11 42.32 L128.22 42.32 L128.33 42.32 L128.44 42.32 L128.55 42.32 L128.66 42.32 L128.77 42.32 L128.88 42.32 L128.99 42.32 L129.10 42.32 L129.20 42.32 L129.31 42.33 L129.42 42.33 L129.53 42.33 L129.64 42.33 L129.75 42.33 L129.86 42.33 L129.97 42.33 L130.08 42.33 L130.19 42.33 L130.30 42.33 L130.41 42.33 L130.52 42.33 L130.62 42.33 L130.73 42.33 L130.84 42.33 L130.95 42.34 L131.06 42.34 L131.17 42.34 L131.28 42.34 L131.39 42.34 L131.50 42.34 L131.61 42.34 L131.72 42.34 L131.83 42.34 L131.94 42.34 L132.04 42.34 L132.15 42.34 L132.26 42.34 L132.37 42.34 L132.48 42.34 L132.59 42.34 L132.70 42.35 L132.81 42.35 L132.92 42.35 L133.03 42.35 L133.14 42.35 L133.25 42.35 L133.36 42.35 L133.46 42.35 L133.57 42.35 L133.68 42.35 L133.79 42.35 L133.90 42.35 L134.01 42.35 L134.12 42.35 L134.23 42.35 L134.34 42.35 L134.45 42.35 L134.56 42.35 L134.67 42.36 L134.78 42.36 L134.88 42.36 L134.99 42.36 L135.10 42.36 L135.21 42.36 L135.32 42.36 L135.43 42.36 L135.54 42.36 L135.65 42.36 L135.76 42.36 L135.87 42.36 L135.98 42.36 L136.09 42.36 L136.20 42.36 L136.30 42.36 L136.41 42.36 L136.52 42.36 L136.63 42.36 L136.74 42.36 L136.85 42.37 L136.96 42.37 L137.07 42.37 L137.18 42.37 L137.29 42.37 L137.40 42.37 L137.51 42.37 L137.62 42.37 L137.72 42.37 L137.83 42.37 L137.94 42.37 L138.05 42.37 L138.16 42.37 L138.27 42.37 L138.38 42.37 L138.49 42.37 L138.60 42.37 L138.71 42.37 L138.82 42.37 L138.93 42.37 L139.04 42.37 L139.14 42.37 L139.25 42.38 L139.36 42.38 L139.47 42.38 L139.58 42.38 L139.69 42.38 L139.80 42.38 L139.91 42.38 L140.02 42.38 L140.13 42.38 L140.24 42.38 L140.35 42.38 L140.46 42.38 L140.56 42.38 L140.67 42.38 L140.78 42.38 L140.89 42.38 L141.00 42.38 L141.11 42.38 L141.22 42.38 L141.33 42.38 L141.44 42.38 L141.55 42.38 L141.66 42.38 L141.77 42.38 L141.88 42.38 L141.98 42.38 L142.09 42.39 L142.20 42.39 L142.31 42.39 L142.42 42.39 L142.53 42.39 L142.64 42.39 L142.75 42.39 L142.86 42.39 L142.97 42.39 L143.08 42.39 L143.19 42.39 L143.30 42.39 L143.40 42.39 L143.51 42.39 L143.62 42.39 L143.73 42.39 L143.84 42.39 L143.95 42.39 L144.06 42.39 L144.17 42.39 L144.28 42.39 L144.39 42.39 L144.50 42.39 L144.61 42.39 L144.72 42.39 L144.82 42.39" stroke="#ff40ff" stroke-width="0.8"/>
<path d="M73.7 42.50H143.6" stroke="#444" stroke-width="0.7" stroke-dasharray="2.1 1.3"/>
</g>
<rect x="73.7" y="20.3" width="69.89999999999999" height="48.0" fill="none" stroke="#000" stroke-width="1.1"/>
<path d="M87.93 68.3v-2.2M87.93 20.3v2.2 M102.15 68.3v-2.2M102.15 20.3v2.2 M116.38 68.3v-2.2M116.38 20.3v2.2 M130.60 68.3v-2.2M130.60 20.3v2.2" stroke="#000" stroke-width="0.7" fill="none"/>
<text x="74.50" y="78" font-size="9" text-anchor="middle" class="r" fill="#222">0</text>
<text x="88.73" y="78" font-size="9" text-anchor="middle" class="r" fill="#222">5</text>
<text x="102.95" y="78" font-size="9" text-anchor="middle" class="r" fill="#222">10</text>
<text x="117.17" y="78" font-size="9" text-anchor="middle" class="r" fill="#222">15</text>
<text x="131.40" y="78" font-size="9" text-anchor="middle" class="r" fill="#222">20</text>
<text x="67.6" y="45.30" font-size="8.2" text-anchor="middle" class="r" fill="#222">8</text>
<text x="67.6" y="61.87" font-size="8.2" text-anchor="middle" class="r" fill="#222">3</text>
<text x="87.6" y="54.5" font-size="11.6" class="r" fill="#505050" textLength="42">Re <tspan font-style="italic">U</tspan>(<tspan font-style="italic">ω</tspan>)</text>
<text x="105" y="86.6" font-size="11.4" text-anchor="middle" class="r" fill="#505050" font-style="italic">ω</text>
</svg>
</body></html>
